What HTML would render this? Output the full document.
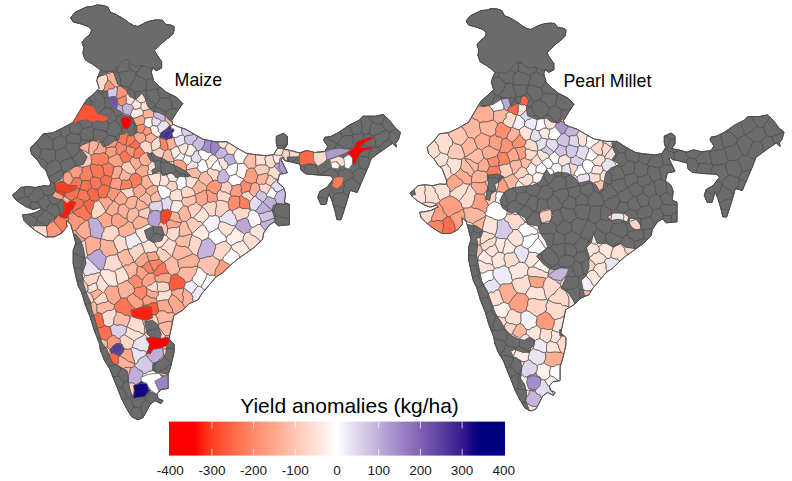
<!DOCTYPE html>
<html><head><meta charset="utf-8"><title>Yield anomalies</title>
<style>
html,body{margin:0;padding:0;background:#fff}
body{width:792px;height:481px;overflow:hidden;position:relative}
svg{position:absolute;left:0;top:0;font-family:"Liberation Sans",sans-serif}
</style></head><body>
<svg width="792" height="481" viewBox="0 0 792 481">
<g stroke-linejoin="round">
<path d="M70.6,17.7 73.3,22.0 81.2,23.9 88.3,26.5 91.8,30.0 90.0,34.5 85.6,38.0 82.0,42.4 83.9,47.7 83.0,53.0 84.0,56.5 85.6,60.0 91.8,63.6 98.0,68.0 100.6,70.7 98.0,76.5 96.8,80.8 99.3,88.4 94.3,93.4 86.7,99.7 83.3,105.0 75.8,117.7 73.2,122.2 63.1,127.8 53.0,132.8 43.0,134.0 37.9,140.4 30.3,148.0 31.6,154.3 37.9,160.6 41.7,166.5 45.8,170.0 48.3,176.7 50.7,182.5 49.9,186.2 43.3,185.8 35.8,187.5 27.5,186.6 20.8,187.5 16.6,191.6 12.5,195.0 15.0,199.0 20.0,203.0 26.6,207.0 33.3,209.6 40.0,207.6 41.8,209.3 34.9,212.8 28.3,214.3 22.5,214.9 24.0,220.4 29.0,225.5 35.4,230.5 45.5,236.8 54.3,236.8 61.9,233.0 66.9,226.7 66.2,220.4 70.7,224.2 73.2,233.0 75.8,243.1 73.2,250.7 73.2,263.3 75.8,276.0 78.3,286.0 81.7,292.6 85.5,305.3 90.5,317.9 94.3,330.5 99.3,343.1 100.4,350.1 104.4,360.2 109.5,368.3 113.5,378.4 117.6,388.5 121.6,398.6 126.7,408.7 131.7,416.8 137.8,419.8 142.8,417.8 146.9,410.7 149.9,404.6 155.0,400.6 161.0,403.6 163.0,400.6 158.0,398.6 157.0,393.5 161.0,389.5 168.1,388.5 168.1,374.3 171.0,365.0 174.1,352.1 174.1,344.0 168.8,339.3 171.3,328.0 173.8,315.4 182.9,310.0 189.2,303.6 198.1,299.8 201.9,293.5 208.2,286.0 215.8,277.1 223.3,272.1 230.9,264.5 237.2,259.4 246.1,253.1 254.9,246.8 262.5,239.2 263.7,232.9 268.8,225.4 274.3,221.7 278.4,225.8 289.5,224.7 289.5,204.5 284.4,202.5 285.5,193.4 283.4,187.4 277.4,182.3 279.4,174.2 283.3,173.7 287.4,172.7 281.0,159.5 282.5,158.5 284.7,160.6 292.0,162.0 299.3,164.0 300.3,165.5 300.8,170.0 305.6,173.8 318.2,175.0 330.8,175.8 333.5,179.0 330.9,182.3 326.9,187.4 319.8,191.4 317.8,197.5 320.8,204.5 325.9,204.5 328.9,193.4 331.9,200.5 334.9,210.6 337.0,219.7 341.0,219.7 344.0,210.6 347.1,200.5 350.1,190.4 357.2,192.4 363.2,178.3 368.2,166.7 371.2,158.6 379.3,152.5 389.4,145.5 392.4,143.4 396.5,146.9 395.5,143.4 398.5,139.4 400.5,132.3 395.5,128.3 389.4,120.2 383.3,114.5 375.3,116.2 363.1,116.2 359.1,120.2 349.0,125.3 338.9,132.3 330.8,136.4 324.7,137.4 323.7,140.4 327.8,146.5 324.7,151.5 314.6,152.5 306.6,150.5 299.5,153.0 290.4,150.5 283.9,149.4 287.4,144.4 287.4,136.4 283.3,133.3 276.3,136.4 276.3,143.0 277.6,148.2 273.8,154.5 266.3,155.8 253.6,154.5 246.1,153.2 237.2,148.2 227.1,141.9 215.8,141.9 203.1,139.3 194.3,134.3 185.5,129.2 177.9,126.7 172.8,124.2 171.6,120.4 177.9,110.3 182.7,103.5 176.4,97.2 166.3,92.2 160.0,87.0 153.6,80.8 151.1,72.0 152.8,68.0 156.3,70.7 161.6,68.0 161.6,61.8 158.0,56.5 156.0,53.5 154.5,50.4 159.0,46.0 162.5,42.5 166.0,39.7 169.5,37.0 173.0,33.6 174.0,30.0 174.0,26.5 170.5,25.0 166.0,24.7 162.5,20.3 158.0,20.0 153.6,20.3 149.0,21.3 144.8,23.0 141.0,25.0 137.7,26.5 133.5,25.5 129.0,23.0 124.5,19.5 120.0,16.8 115.0,14.0 110.4,12.4 107.7,7.0 103.0,5.5 97.0,5.0 92.0,6.5 86.5,7.0 80.0,10.0 75.0,12.5Z" fill="#6b6b6b" stroke="#484848" stroke-width="0.9"/>
<g stroke="#585858" stroke-width="0.7">
<path d="M117.5,142.0 120.2,142.9 122.4,144.8 125.3,145.0 126.8,141.9 127.0,138.3 128.7,135.2 126.1,134.2 124.4,133.4 119.6,134.7 118.6,139.8 116.9,140.2Z" fill="#ff7654"/>
<path d="M137.4,141.9 135.5,139.3 133.4,141.9 131.1,144.2 128.3,146.0 130.6,147.2 133.3,147.5 135.5,149.0 137.8,147.8 140.0,146.5 140.2,143.5Z" fill="#ff704e"/>
<path d="M120.5,158.0 121.7,160.6 123.4,162.9 126.7,162.3 129.9,161.3 130.7,158.8 132.7,157.2 130.0,155.4 127.6,153.2 125.9,150.4 123.3,151.3 121.3,153.1 119.6,155.2Z" fill="#ff7654"/>
<path d="M137.8,147.8 135.5,149.0 134.3,151.7 133.8,154.5 132.8,157.2 135.8,158.5 139.0,158.2 140.8,156.1 142.6,154.1 145.2,153.1 143.3,151.0 141.6,148.8 140.0,146.5Z" fill="#ff7c5b"/>
<path d="M144.6,134.0 142.6,132.7 140.2,133.1 137.9,132.3 136.8,132.5 136.8,132.7 135.0,133.6 134.1,135.2 134.2,137.4 135.5,139.3 137.4,141.9 140.2,143.5 142.8,142.2 145.2,140.5 145.8,138.4 145.6,136.2Z" fill="#ffa88d"/>
<path d="M152.1,152.6 152.2,150.5 151.7,148.1 151.1,145.7 151.5,143.2 148.3,141.9 145.2,140.5 142.8,142.2 140.2,143.5 140.0,146.5 141.6,148.8 143.3,151.0 145.2,153.1 148.0,152.8 149.6,153.5 151.7,153.0Z" fill="#ffd7c8"/>
<path d="M159.3,136.9 158.0,137.1 155.5,138.7 153.1,140.5 151.5,143.2 151.1,145.7 151.7,148.1 152.2,150.5 155.0,150.3 157.4,148.8 160.0,147.9 160.7,144.4 160.0,141.0 160.0,137.5Z" fill="#ffdccf"/>
<path d="M145.8,138.4 145.2,140.5 148.3,141.9 151.5,143.2 153.1,140.5 155.5,138.7 158.0,137.1 155.6,136.1 153.7,134.3 151.5,133.1 148.3,134.1 145.6,136.2Z" fill="#ffad94"/>
<path d="M160.0,141.0 160.7,144.4 160.0,147.9 162.4,149.7 165.3,150.6 168.1,149.2 167.9,146.1 167.1,143.0 166.5,139.9 163.3,138.6 160.0,137.5Z" fill="#ff8767"/>
<path d="M167.1,143.0 167.9,146.1 168.1,149.2 170.4,149.8 172.7,148.8 174.7,147.0 177.2,146.4 175.5,143.7 174.5,140.7 174.0,137.5 173.0,137.0 171.0,138.4 168.6,138.8 166.5,139.9Z" fill="#ffb29a"/>
<path d="M172.3,156.2 171.6,152.9 170.4,149.8 168.1,149.2 165.3,150.6 163.5,153.2 162.8,156.2 161.8,158.0 167.0,161.1 168.6,162.1 170.2,161.6 173.3,161.7 174.0,160.7 174.2,159.1Z" fill="#ffb8a1"/>
<path d="M162.8,156.2 163.5,153.2 165.3,150.6 162.4,149.7 160.0,147.9 157.4,148.8 155.0,150.3 152.2,150.5 152.1,152.6 151.7,153.0 152.6,152.7 156.4,156.5 161.7,158.0 161.8,158.0Z" fill="#ffd1c2"/>
<path d="M184.5,139.9 184.7,136.5 182.7,134.9 179.7,135.6 177.0,137.2 174.0,137.5 174.5,140.7 175.5,143.7 177.2,146.4 177.7,146.6 180.4,145.4 183.0,144.2 185.6,143.0Z" fill="#eae4f2"/>
<path d="M190.4,144.3 192.5,145.2 193.4,142.0 196.4,139.9 197.5,136.7 197.7,136.3 194.3,134.3 193.9,134.1 191.2,135.0 187.8,135.3 184.7,136.5 184.5,139.9 185.6,143.0 188.2,144.8Z" fill="#cfc2e3"/>
<path d="M197.5,136.7 196.4,139.9 193.4,142.0 192.5,145.2 195.3,147.4 196.7,150.7 198.5,151.0 200.9,149.8 203.0,147.2 204.4,144.3 204.8,141.0 205.5,139.8 203.1,139.3 197.7,136.3Z" fill="#cabbe0"/>
<path d="M204.8,141.0 204.4,144.3 203.0,147.2 200.9,149.8 204.3,150.6 207.3,152.5 210.8,152.6 210.6,149.2 210.7,145.9 211.6,142.6 211.5,141.0 205.5,139.8Z" fill="#a48ec9"/>
<path d="M216.4,152.4 218.4,149.7 220.9,147.3 218.8,145.3 218.0,142.4 217.3,141.9 215.8,141.9 211.5,141.0 211.6,142.6 210.7,145.9 210.6,149.2 210.8,152.6 212.1,154.6 214.7,155.5Z" fill="#9a82c3"/>
<path d="M216.6,156.8 217.6,158.8 220.8,158.3 224.0,157.7 225.7,155.6 227.8,154.0 226.5,150.9 224.8,147.9 222.7,148.3 220.9,147.3 218.4,149.7 216.4,152.4 214.7,155.5Z" fill="#c5b5dc"/>
<path d="M230.8,154.5 233.8,154.8 235.2,151.5 237.7,149.1 238.0,148.6 237.2,148.2 228.2,142.6 226.7,145.2 224.8,147.9 226.5,150.9 227.8,154.0Z" fill="#ffe1d6"/>
<path d="M231.1,164.8 233.8,163.4 236.9,163.0 235.4,160.4 234.1,157.8 233.8,154.8 230.8,154.5 227.8,154.0 225.7,155.6 224.0,157.7 224.8,160.7 227.4,162.6 228.1,165.6Z" fill="#bfaed9"/>
<path d="M221.1,171.0 219.0,171.6 218.8,174.7 217.2,177.6 217.5,180.8 218.8,182.4 220.9,183.1 224.3,182.8 227.6,181.6 228.8,178.8 229.7,175.9 227.6,174.2 226.6,171.7 225.3,169.5 222.4,169.4Z" fill="#c5b5dc"/>
<path d="M228.8,178.8 227.6,181.6 230.1,183.4 231.9,185.9 234.7,185.5 237.4,184.6 240.3,184.6 241.5,182.1 243.6,180.2 243.3,178.9 240.6,177.6 238.0,176.2 235.8,174.0 232.8,175.1 229.7,175.9Z" fill="#ffffff"/>
<path d="M177.2,146.4 174.7,147.0 172.7,148.8 170.4,149.8 171.6,152.9 172.3,156.2 174.2,159.1 176.6,157.2 178.6,154.8 180.7,152.6 179.2,149.6 177.7,146.6Z" fill="#ffebe3"/>
<path d="M185.6,143.0 183.0,144.2 180.4,145.4 177.7,146.6 179.2,149.6 180.7,152.6 182.6,154.2 185.0,154.2 186.4,151.2 187.8,148.2 188.2,144.8Z" fill="#ffe6dd"/>
<path d="M182.6,154.2 180.7,152.6 178.6,154.8 176.6,157.2 174.2,159.1 174.0,160.7 177.0,159.9 179.9,160.1 182.8,160.7 184.1,157.6 185.1,154.3 185.0,154.2Z" fill="#ffffff"/>
<path d="M187.8,155.8 185.1,154.3 184.1,157.6 182.8,160.7 185.0,162.9 186.6,165.7 188.8,164.3 190.5,162.6 191.5,160.1 191.3,158.1 190.8,156.0Z" fill="#ffffff"/>
<path d="M194.2,151.8 193.3,154.8 190.8,156.0 191.3,158.1 191.5,160.1 194.2,162.1 197.5,162.9 199.9,161.9 201.4,159.8 200.8,156.7 198.7,154.2 198.5,151.0 196.7,150.7Z" fill="#e4ddef"/>
<path d="M198.7,154.2 200.8,156.7 201.4,159.8 203.5,159.6 205.2,160.8 208.1,159.4 209.5,156.3 212.1,154.6 210.8,152.6 207.3,152.5 204.3,150.6 200.9,149.8 198.5,151.0Z" fill="#ffffff"/>
<path d="M198.1,165.5 197.0,167.9 198.8,170.8 201.5,173.0 204.3,172.0 207.1,171.0 208.5,168.9 207.4,166.2 206.8,163.3 205.2,160.8 203.5,159.6 201.4,159.8 199.9,161.9 197.5,162.9Z" fill="#ffffff"/>
<path d="M217.6,158.8 216.6,156.8 214.7,155.5 212.1,154.6 209.5,156.3 208.1,159.4 205.2,160.8 206.8,163.3 207.4,166.2 208.5,168.9 210.8,168.3 212.2,166.0 213.7,163.6 215.8,161.7 217.5,159.5Z" fill="#ffebe3"/>
<path d="M221.7,166.7 219.5,164.7 219.2,161.7 217.5,159.5 215.8,161.7 213.7,163.6 212.2,166.0 210.8,168.3 213.3,170.0 216.5,170.0 219.0,171.6 221.1,171.0 222.4,169.4Z" fill="#ffffff"/>
<path d="M194.2,162.1 191.5,160.1 190.5,162.6 188.8,164.3 186.6,165.7 186.2,167.8 186.3,170.0 189.0,169.5 191.6,168.7 194.3,168.3 197.0,167.9 198.1,165.5 197.5,162.9Z" fill="#ffebe3"/>
<path d="M179.9,160.1 177.0,159.9 174.0,160.7 173.3,161.7 174.0,165.1 174.1,165.3 179.8,167.9 186.1,171.4 186.3,170.0 186.2,167.8 186.6,165.7 185.0,162.9 182.8,160.7Z" fill="#ffa387"/>
<path d="M190.2,176.4 192.9,177.6 195.8,177.9 198.6,178.9 199.6,175.7 201.5,173.0 198.8,170.8 197.0,167.9 194.3,168.3 191.6,168.7 189.0,169.5 186.3,170.0 186.1,171.4 186.7,171.7 190.5,175.5 189.0,176.1Z" fill="#ffb8a1"/>
<path d="M212.0,178.2 210.0,176.0 207.9,173.8 207.1,171.0 204.3,172.0 201.5,173.0 199.6,175.7 198.6,178.9 198.8,179.9 201.1,182.4 204.2,184.1 206.7,186.5 208.5,184.3 210.4,182.2 213.0,181.0Z" fill="#ffbda7"/>
<path d="M216.5,170.0 213.3,170.0 210.8,168.3 208.5,168.9 207.1,171.0 207.9,173.8 210.0,176.0 212.0,178.2 213.0,181.0 215.2,180.2 217.5,180.8 217.2,177.6 218.8,174.7 219.0,171.6Z" fill="#ffd7c8"/>
<path d="M206.7,189.8 206.7,186.5 204.2,184.1 201.1,182.4 198.8,179.9 196.5,181.6 195.3,184.1 193.5,186.3 191.9,188.5 193.7,190.3 194.7,192.6 195.1,195.1 197.7,193.4 200.6,192.5 203.2,190.9 206.3,190.3Z" fill="#ffb29a"/>
<path d="M210.3,202.5 213.1,201.4 215.8,202.3 217.8,200.5 217.3,197.2 216.9,193.9 214.1,193.5 211.6,192.3 209.4,190.4 206.7,189.8 206.3,190.3 206.0,193.3 207.6,196.0 207.2,199.0 207.6,201.9Z" fill="#ff9d80"/>
<path d="M221.5,185.5 220.8,187.8 220.1,190.0 222.5,191.9 225.5,192.1 228.0,193.6 230.6,194.7 230.3,191.7 232.2,189.0 231.9,185.9 230.1,183.4 227.6,181.6 224.3,182.8 220.9,183.1Z" fill="#ffd1c2"/>
<path d="M233.9,196.1 236.7,196.3 239.4,196.8 241.6,195.6 242.4,193.6 241.0,190.8 241.8,187.4 240.3,184.6 237.4,184.6 234.7,185.5 231.9,185.9 232.2,189.0 230.3,191.7 230.6,194.7 231.2,196.3Z" fill="#ff9d80"/>
<path d="M177.5,179.1 175.7,181.5 176.5,184.0 177.3,186.4 176.9,189.0 178.8,189.4 180.7,190.1 183.3,187.9 186.5,186.5 186.2,183.5 186.3,180.3 185.4,177.4 185.2,176.8 180.6,176.2 178.0,177.1Z" fill="#ffffff"/>
<path d="M185.4,177.4 186.3,180.3 186.2,183.5 186.5,186.5 189.2,187.4 191.9,188.5 193.5,186.3 195.3,184.1 196.5,181.6 198.8,179.9 198.6,178.9 195.8,177.9 192.9,177.6 190.2,176.4 189.0,176.1 186.7,177.0 185.2,176.8Z" fill="#ffe1d6"/>
<path d="M168.0,184.1 165.6,186.1 167.2,188.2 169.8,189.3 171.1,191.6 174.2,190.7 176.9,189.0 177.3,186.4 176.5,184.0 175.7,181.5 172.4,181.3 169.2,181.3Z" fill="#ffd1c2"/>
<path d="M162.5,185.7 159.3,185.3 157.9,186.3 157.5,188.6 157.9,190.9 158.9,193.7 160.1,196.4 162.0,198.9 164.6,198.8 166.8,197.1 169.5,197.0 170.2,194.3 171.1,191.6 169.8,189.3 167.2,188.2 165.6,186.1Z" fill="#ffffff"/>
<path d="M168.8,178.8 167.1,176.6 167.1,174.6 167.0,174.7 162.4,175.5 161.1,172.8 161.1,172.8 160.3,175.9 160.8,179.1 159.6,182.2 159.3,185.3 162.5,185.7 165.6,186.1 168.0,184.1 169.2,181.3Z" fill="#ffe6dd"/>
<path d="M149.0,177.9 150.4,180.6 152.1,183.0 153.8,185.4 155.8,185.9 157.9,186.3 159.3,185.3 159.6,182.2 160.8,179.1 160.3,175.9 161.1,172.8 157.8,173.1 154.6,173.2 151.5,174.6 148.2,174.6 147.8,175.3Z" fill="#ffe1d6"/>
<path d="M144.6,175.9 141.8,177.3 141.7,180.8 140.9,184.2 142.6,185.9 144.0,187.8 146.0,189.3 148.5,187.8 151.0,186.2 153.8,185.4 152.1,183.0 150.4,180.6 149.0,177.9 147.8,175.3Z" fill="#ffb29a"/>
<path d="M152.7,194.2 155.3,192.6 157.9,190.9 157.5,188.6 157.9,186.3 155.8,185.9 153.8,185.4 151.0,186.2 148.5,187.8 146.0,189.3 145.6,192.4 148.5,194.0 150.6,196.4Z" fill="#ffad94"/>
<path d="M135.4,173.2 137.8,174.1 139.9,175.6 141.8,177.3 144.6,175.9 147.8,175.3 148.2,174.6 147.6,171.6 148.8,168.6 148.0,165.6 144.6,165.5 141.3,164.5 140.0,166.9 137.8,168.4 135.7,170.1Z" fill="#ffa88d"/>
<path d="M148.0,152.8 145.2,153.1 142.6,154.1 140.8,156.1 139.0,158.2 139.8,161.5 141.3,164.5 144.6,165.5 148.0,165.6 149.8,163.5 151.9,161.7 152.2,161.3 150.3,160.3 147.3,154.2 149.6,153.5Z" fill="#ffb29a"/>
<path d="M130.9,181.7 131.6,184.4 131.9,187.2 133.3,188.1 136.0,187.3 138.1,185.1 140.9,184.2 141.7,180.8 141.8,177.3 139.9,175.6 137.8,174.1 135.4,173.2 133.3,173.2 131.9,174.8 130.3,176.9 129.3,179.3Z" fill="#ff7c5b"/>
<path d="M126.7,162.3 123.4,162.9 122.2,164.8 121.1,166.9 121.9,168.8 124.4,170.4 126.5,172.4 129.3,173.5 131.9,174.8 133.3,173.2 135.4,173.2 135.7,170.1 134.1,168.0 132.7,165.8 131.0,163.7 129.9,161.3Z" fill="#ffccbb"/>
<path d="M130.3,176.9 131.9,174.8 129.3,173.5 126.5,172.4 124.4,170.4 121.9,168.8 121.7,172.2 119.9,175.0 119.3,178.2 121.5,180.6 124.1,180.1 126.8,180.5 129.3,179.3Z" fill="#ffb29a"/>
<path d="M140.9,196.5 143.5,194.8 145.6,192.4 146.0,189.3 144.0,187.8 142.6,185.9 140.9,184.2 138.1,185.1 136.0,187.3 133.3,188.1 132.8,190.9 134.1,193.5 134.2,196.2 136.4,196.8 137.9,198.6 138.5,198.5Z" fill="#ffa88d"/>
<path d="M120.5,191.4 123.4,193.1 125.3,195.9 127.6,198.4 130.7,196.8 134.2,196.2 134.1,193.5 132.8,190.9 133.3,188.1 131.9,187.2 129.2,188.4 126.2,188.8 123.3,189.3 120.4,189.6 120.3,189.7Z" fill="#ffd7c8"/>
<path d="M126.8,180.5 124.1,180.1 121.5,180.6 121.6,183.7 120.5,186.6 120.4,189.6 123.3,189.3 126.2,188.8 129.2,188.4 131.9,187.2 131.6,184.4 130.9,181.7 129.3,179.3Z" fill="#ff8161"/>
<path d="M103.1,90.6 104.7,88.1 105.0,84.9 106.8,82.4 107.8,79.7 107.5,76.9 106.3,74.4 103.1,75.2 101.3,75.4 98.4,77.2 97.9,77.0 98.0,76.5 96.8,80.8 99.3,88.4 97.4,90.3 103.0,90.9Z" fill="#ffdccf"/>
<path d="M112.7,84.6 110.6,81.8 107.8,79.7 106.8,82.4 105.0,84.9 104.7,88.1 103.1,90.6 103.0,90.9 107.0,91.2 107.5,91.0 109.7,88.9 112.9,88.8 115.3,86.9Z" fill="#ff987a"/>
<path d="M112.0,72.1 109.5,73.0 106.9,73.7 106.3,74.4 107.5,76.9 107.8,79.7 110.6,81.8 112.7,84.6 115.3,86.9 117.4,87.1 119.3,86.2 120.1,85.8 117.6,84.2 115.6,78.2 113.5,72.1 113.0,71.9Z" fill="#ffb29a"/>
<path d="M112.9,88.8 109.7,88.9 107.5,91.0 107.0,91.2 107.5,91.3 108.1,97.4 108.3,97.7 108.5,97.6 108.5,97.4 109.9,97.1 110.3,97.0 110.9,96.9 113.5,96.4 113.7,96.8 116.1,97.2 117.0,93.9 117.3,90.5 117.4,87.1 115.3,86.9Z" fill="#d4c9e6"/>
<path d="M118.1,104.0 117.4,101.4 117.5,98.7 116.1,97.2 113.7,96.8 117.6,103.4 117.4,104.3Z" fill="#795db0"/>
<path d="M119.3,86.2 117.4,87.1 117.3,90.5 117.0,93.9 116.1,97.2 117.5,98.7 120.3,98.1 122.8,96.6 125.6,96.0 127.5,94.0 127.5,92.0 126.7,90.3 122.6,87.3 120.1,85.8Z" fill="#ff987a"/>
<path d="M126.1,101.0 126.5,98.5 125.6,96.0 122.8,96.6 120.3,98.1 117.5,98.7 117.4,101.4 118.1,104.0 120.2,105.4 122.7,106.0 124.5,104.4 126.7,103.5Z" fill="#ff8d6d"/>
<path d="M128.9,104.4 126.7,103.5 124.5,104.4 122.7,106.0 122.2,108.7 122.9,111.2 123.7,113.7 125.9,114.5 128.5,114.7 130.4,116.3 130.9,113.7 131.7,111.1 133.4,108.9 133.1,106.4 131.4,104.5Z" fill="#c5b5dc"/>
<path d="M127.5,94.0 125.6,96.0 126.5,98.5 126.1,101.0 126.7,103.5 128.9,104.4 131.4,104.5 133.5,101.9 135.2,99.1 129.7,96.4 127.5,92.0Z" fill="#ffe1d6"/>
<path d="M133.5,101.9 131.4,104.5 133.1,106.4 133.4,108.9 135.9,109.5 138.2,108.5 140.6,108.0 141.2,105.5 141.2,103.0 138.9,102.1 137.2,100.4 135.7,99.3 135.2,99.1Z" fill="#ffe6dd"/>
<path d="M137.2,100.4 138.9,102.1 141.2,103.0 143.8,102.1 145.9,100.7 144.8,97.4 141.8,93.3 139.8,95.4 135.8,99.4 135.7,99.3Z" fill="#ffe6dd"/>
<path d="M134.4,118.2 137.1,117.4 139.8,116.2 142.6,115.6 143.4,113.1 143.1,110.6 141.5,109.6 140.6,108.0 138.2,108.5 135.9,109.5 133.4,108.9 131.7,111.1 130.9,113.7 130.4,116.3 130.5,116.5 131.7,116.6 132.5,118.3Z" fill="#ffebe3"/>
<path d="M149.4,109.1 146.3,110.0 143.1,110.6 143.4,113.1 142.6,115.6 143.9,116.9 145.0,118.4 147.5,117.9 149.9,117.4 152.5,117.6 153.6,116.6 153.8,113.1 154.3,111.7 152.9,111.5 150.1,108.7Z" fill="#ffb29a"/>
<path d="M153.8,113.1 153.6,116.6 156.1,118.2 159.1,119.1 161.4,121.1 163.5,121.3 165.5,120.7 165.0,117.5 165.5,116.0 165.1,115.6 159.0,112.5 154.3,111.7Z" fill="#cabbe0"/>
<path d="M159.7,124.1 161.4,121.1 159.1,119.1 156.1,118.2 153.6,116.6 152.5,117.6 151.7,120.3 151.9,123.0 152.4,125.7 154.8,125.9 157.1,126.4Z" fill="#e4ddef"/>
<path d="M151.9,123.0 151.7,120.3 152.5,117.6 149.9,117.4 147.5,117.9 145.0,118.4 144.5,121.3 143.8,124.2 145.6,126.6 147.8,127.6 150.1,127.6 152.4,125.7Z" fill="#fff5f1"/>
<path d="M137.9,125.6 140.8,124.6 143.8,124.2 144.5,121.3 145.0,118.4 143.9,116.9 142.6,115.6 139.8,116.2 137.1,117.4 134.4,118.2 132.5,118.3 133.7,120.6 136.2,125.4Z" fill="#ffa387"/>
<path d="M144.3,129.8 145.6,126.6 143.8,124.2 140.8,124.6 137.9,125.6 136.2,125.4 136.8,126.7 136.8,132.5 137.9,132.3 140.2,133.1 142.6,132.7Z" fill="#ff8d6d"/>
<path d="M148.3,134.1 151.5,133.1 151.2,130.2 150.1,127.6 147.8,127.6 145.6,126.6 144.3,129.8 142.6,132.7 144.6,134.0 145.6,136.2Z" fill="#ff987a"/>
<path d="M154.8,125.9 152.4,125.7 150.1,127.6 151.2,130.2 151.5,133.1 153.7,134.3 155.6,136.1 158.0,137.1 159.3,136.9 160.3,135.2 160.5,133.3 158.5,131.4 158.3,128.7 157.1,126.4Z" fill="#fff0ea"/>
<path d="M158.3,128.7 158.5,131.4 160.5,133.3 162.9,131.5 165.5,129.8 167.9,127.9 169.7,125.3 167.9,122.7 165.5,120.7 163.5,121.3 161.4,121.1 159.7,124.1 157.1,126.4Z" fill="#eae4f2"/>
<path d="M160.3,135.2 159.3,136.9 160.0,137.5 163.3,138.6 166.5,139.9 168.6,138.8 171.0,138.4 173.0,137.0 172.2,134.2 172.0,133.3 170.1,135.8 166.1,138.8 162.0,136.8 165.1,131.7 171.4,129.3 171.3,128.5 170.7,125.6 169.7,125.3 167.9,127.9 165.5,129.8 162.9,131.5 160.5,133.3Z" fill="#492d96"/>
<path d="M170.7,125.6 171.3,128.5 171.4,129.3 173.1,128.7 174.1,130.7 172.0,133.3 172.2,134.2 173.0,137.0 174.0,137.5 177.0,137.2 179.7,135.6 182.7,134.9 181.8,131.7 181.8,128.4 181.8,128.0 177.9,126.7 173.3,124.5Z" fill="#ffffff"/>
<path d="M88.8,150.1 89.3,146.7 89.4,143.3 89.8,141.8 82.2,144.8 79.4,147.7 79.9,149.1 80.8,149.2 81.6,150.2 83.5,150.5 86.3,152.0 89.0,153.6Z" fill="#ffb29a"/>
<path d="M96.5,153.7 99.5,154.2 102.3,152.8 105.2,153.2 106.3,150.8 106.0,148.2 105.3,146.1 103.4,146.9 100.6,141.9 99.3,142.3 98.0,145.3 97.1,148.5 94.4,150.8 93.6,154.0Z" fill="#ffa88d"/>
<path d="M109.1,147.4 112.2,146.9 115.4,147.2 116.3,144.5 117.5,142.0 116.9,140.2 114.5,140.8 108.5,144.8 105.3,146.1 106.0,148.2Z" fill="#ff987a"/>
<path d="M128.7,135.2 127.0,138.3 126.8,141.9 125.3,145.0 126.5,146.3 128.3,146.0 131.1,144.2 133.4,141.9 135.5,139.3 134.2,137.4 134.1,135.2 131.4,135.8 130.9,135.7 130.7,135.8 130.4,135.6Z" fill="#ff7c5b"/>
<path d="M121.3,153.1 123.3,151.3 125.9,150.4 126.5,148.4 126.5,146.3 125.3,145.0 122.4,144.8 120.2,142.9 117.5,142.0 116.3,144.5 115.4,147.2 116.6,149.3 115.7,151.8 116.6,154.1 119.6,155.2Z" fill="#ff8767"/>
<path d="M195.3,147.4 192.5,145.2 190.4,144.3 188.2,144.8 187.8,148.2 186.4,151.2 185.0,154.2 185.1,154.3 187.8,155.8 190.8,156.0 193.3,154.8 194.2,151.8 196.7,150.7Z" fill="#fff0ea"/>
<path d="M127.6,153.2 130.0,155.4 132.7,157.2 132.8,157.2 133.8,154.5 134.3,151.7 135.5,149.0 133.3,147.5 130.6,147.2 128.3,146.0 126.5,146.3 126.5,148.4 125.9,150.4Z" fill="#ff9274"/>
<path d="M91.0,155.6 93.6,154.0 94.4,150.8 97.1,148.5 98.0,145.3 99.3,142.3 96.8,141.5 94.5,140.6 94.4,140.5 92.3,140.8 89.8,141.8 89.4,143.3 89.3,146.7 88.8,150.1 89.0,153.6Z" fill="#ffb29a"/>
<path d="M111.4,156.7 114.1,155.6 116.6,154.1 115.7,151.8 116.6,149.3 115.4,147.2 112.2,146.9 109.1,147.4 106.0,148.2 106.3,150.8 105.2,153.2 107.7,155.1 108.8,158.0Z" fill="#ff9d80"/>
<path d="M108.4,160.2 108.8,158.0 107.7,155.1 105.2,153.2 102.3,152.8 99.5,154.2 96.5,153.7 93.6,154.0 91.0,155.6 90.9,158.4 91.6,161.3 90.9,164.2 93.8,164.3 96.5,165.3 99.4,164.9 102.1,166.0 103.6,164.1 106.5,164.3 108.1,162.4Z" fill="#ff8161"/>
<path d="M116.6,154.1 114.1,155.6 111.4,156.7 108.8,158.0 108.4,160.2 108.1,162.4 110.3,163.6 112.4,165.0 114.1,166.9 116.4,166.6 118.8,166.1 121.1,166.9 122.2,164.8 123.4,162.9 121.7,160.6 120.5,158.0 119.6,155.2Z" fill="#ffa387"/>
<path d="M131.0,163.7 132.7,165.8 134.1,168.0 135.7,170.1 137.8,168.4 140.0,166.9 141.3,164.5 139.8,161.5 139.0,158.2 135.8,158.5 132.8,157.2 132.7,157.2 130.7,158.8 129.9,161.3Z" fill="#ffad94"/>
<path d="M167.1,176.6 168.8,178.8 169.2,181.3 172.4,181.3 175.7,181.5 177.5,179.1 178.0,177.1 176.1,177.7 173.0,173.9 171.5,173.2 170.4,173.5 168.2,173.8 167.1,174.6Z" fill="#ffebe3"/>
<path d="M195.1,195.1 194.7,192.6 193.7,190.3 191.9,188.5 189.2,187.4 186.5,186.5 183.3,187.9 180.7,190.1 181.5,192.5 181.6,195.1 182.6,197.5 185.8,197.5 188.9,197.2 191.9,196.1 195.0,195.4Z" fill="#ffd7c8"/>
<path d="M170.2,194.3 169.5,197.0 170.4,199.6 172.7,201.0 175.5,200.5 178.4,200.9 181.3,201.2 182.3,199.5 182.6,197.5 181.6,195.1 181.5,192.5 180.7,190.1 178.8,189.4 176.9,189.0 174.2,190.7 171.1,191.6Z" fill="#ffe1d6"/>
<path d="M113.0,170.1 112.7,173.6 110.9,176.6 112.1,178.2 114.5,179.0 116.9,178.2 119.3,178.2 119.9,175.0 121.7,172.2 121.9,168.8 121.1,166.9 118.8,166.1 116.4,166.6 114.1,166.9Z" fill="#ffa88d"/>
<path d="M106.5,164.3 103.6,164.1 102.1,166.0 103.5,168.8 103.6,172.0 104.3,175.0 107.6,175.9 110.9,176.6 112.7,173.6 113.0,170.1 114.1,166.9 112.4,165.0 110.3,163.6 108.1,162.4Z" fill="#ff7c5b"/>
<path d="M95.4,177.2 97.9,177.9 100.3,179.0 102.8,177.5 104.3,175.0 103.6,172.0 103.5,168.8 102.1,166.0 99.4,164.9 96.5,165.3 93.8,164.3 90.9,164.2 90.2,165.0 90.2,168.1 91.0,171.1 92.4,174.0 92.7,177.1Z" fill="#ff7654"/>
<path d="M81.9,169.8 82.0,172.8 79.7,175.2 79.9,178.2 81.8,180.9 84.5,180.5 87.3,180.6 90.0,180.9 90.8,178.6 92.7,177.1 92.4,174.0 91.0,171.1 90.2,168.1 90.2,165.0 87.8,165.9 85.3,166.4 82.8,167.1Z" fill="#ff8161"/>
<path d="M71.3,169.1 69.3,171.8 70.9,173.8 71.7,176.5 73.7,178.2 76.8,177.4 79.9,178.2 79.7,175.2 82.0,172.8 81.9,169.8 82.8,167.1 79.3,166.8 77.8,165.8 73.4,167.0Z" fill="#ff9d80"/>
<path d="M66.6,171.7 64.4,173.2 63.0,175.5 63.3,178.2 62.8,181.4 65.0,182.6 65.4,183.6 69.1,185.4 70.8,183.7 72.4,181.1 73.7,178.2 71.7,176.5 70.9,173.8 69.3,171.8Z" fill="#ffa387"/>
<path d="M72.4,181.1 70.8,183.7 69.1,185.4 69.9,185.8 76.5,185.8 75.8,187.7 76.9,188.3 79.7,189.3 80.6,186.5 81.5,183.8 81.8,180.9 79.9,178.2 76.8,177.4 73.7,178.2Z" fill="#ff7654"/>
<path d="M81.5,183.8 80.6,186.5 79.7,189.3 79.9,189.7 82.6,190.0 85.1,190.6 87.6,191.7 89.2,189.2 91.7,187.6 91.0,184.2 90.0,180.9 87.3,180.6 84.5,180.5 81.8,180.9Z" fill="#ff704e"/>
<path d="M99.9,187.3 101.8,185.1 101.2,182.0 100.3,179.0 97.9,177.9 95.4,177.2 92.7,177.1 90.8,178.6 90.0,180.9 91.0,184.2 91.7,187.6 94.5,189.2 97.7,189.1Z" fill="#ff7654"/>
<path d="M109.9,187.1 110.3,184.0 111.2,181.2 112.1,178.2 110.9,176.6 107.6,175.9 104.3,175.0 102.8,177.5 100.3,179.0 101.2,182.0 101.8,185.1 104.7,185.0 107.3,185.7 109.8,187.1Z" fill="#ff704e"/>
<path d="M112.4,188.3 115.1,188.3 117.5,189.7 120.3,189.7 120.4,189.6 120.5,186.6 121.6,183.7 121.5,180.6 119.3,178.2 116.9,178.2 114.5,179.0 112.1,178.2 111.2,181.2 110.3,184.0 109.9,187.1Z" fill="#ff9d80"/>
<path d="M149.9,203.5 151.9,202.0 150.9,199.3 150.6,196.4 148.5,194.0 145.6,192.4 143.5,194.8 140.9,196.5 138.5,198.5 140.8,200.9 144.1,201.8 146.1,204.6 149.2,205.8Z" fill="#ffb8a1"/>
<path d="M65.0,182.6 62.8,181.4 59.8,181.6 57.6,183.0 63.2,182.5 65.4,183.6ZM54.9,184.0 54.9,188.8 55.0,189.0 55.3,191.5 58.2,192.9 61.0,194.7 63.7,196.5 64.4,196.4 65.5,193.8 66.1,192.2 61.6,191.6 56.6,190.0 55.1,183.9Z" fill="#ff3d21"/>
<path d="M65.5,193.8 64.4,196.4 67.5,198.0 70.1,200.4 72.8,200.0 74.9,198.6 77.1,197.3 78.1,194.8 78.8,192.2 79.9,189.7 79.7,189.3 76.9,188.3 75.8,187.7 74.9,190.0 68.2,192.5 66.1,192.2Z" fill="#ff704e"/>
<path d="M78.8,192.2 78.1,194.8 77.1,197.3 79.1,199.3 82.1,199.8 84.1,201.9 87.0,200.9 89.5,199.1 89.7,196.5 88.1,194.2 87.6,191.7 85.1,190.6 82.6,190.0 79.9,189.7Z" fill="#ff7654"/>
<path d="M94.5,189.2 91.7,187.6 89.2,189.2 87.6,191.7 88.1,194.2 89.7,196.5 89.5,199.1 92.0,200.8 95.0,201.3 96.9,201.4 98.4,200.2 99.9,198.2 98.7,195.3 98.2,192.2 97.7,189.1Z" fill="#ff6948"/>
<path d="M107.3,185.7 104.7,185.0 101.8,185.1 99.9,187.3 97.7,189.1 98.2,192.2 98.7,195.3 99.9,198.2 102.4,197.6 105.1,198.0 107.4,196.7 107.4,193.3 109.7,190.5 109.8,187.1Z" fill="#ff704e"/>
<path d="M109.7,190.5 107.4,193.3 107.4,196.7 109.6,197.8 111.0,200.0 113.3,201.0 114.0,201.0 115.0,198.2 117.2,196.2 118.4,193.5 120.5,191.4 120.3,189.7 117.5,189.7 115.1,188.3 112.4,188.3 109.9,187.1 109.8,187.1Z" fill="#ff987a"/>
<path d="M118.4,193.5 117.2,196.2 115.0,198.2 114.0,201.0 116.1,202.2 117.7,204.1 119.8,205.3 122.0,204.2 124.6,204.4 126.6,201.6 127.6,198.4 125.3,195.9 123.4,193.1 120.5,191.4Z" fill="#ffa88d"/>
<path d="M126.6,201.6 124.6,204.4 127.1,206.8 129.5,209.3 132.6,208.7 135.6,207.8 136.3,204.7 136.7,201.6 137.9,198.6 136.4,196.8 134.2,196.2 130.7,196.8 127.6,198.4Z" fill="#ffb29a"/>
<path d="M141.3,209.7 143.9,209.0 146.4,208.0 149.2,207.6 149.2,205.8 146.1,204.6 144.1,201.8 140.8,200.9 138.5,198.5 137.9,198.6 136.7,201.6 136.3,204.7 135.6,207.8 137.4,209.3 138.9,211.1Z" fill="#ffb29a"/>
<path d="M72.4,209.4 72.3,212.6 73.0,212.7 75.3,210.5 78.0,208.8 81.2,207.6 83.3,205.1 84.1,201.9 82.1,199.8 79.1,199.3 77.1,197.3 74.9,198.6 72.8,200.0 70.1,200.4 70.2,201.4 71.5,200.8 75.7,202.4 73.2,208.3 72.3,209.4Z" fill="#ff704e"/>
<path d="M87.0,200.9 84.1,201.9 83.3,205.1 85.8,207.1 86.8,210.5 88.9,212.8 91.5,214.9 91.6,211.3 93.1,208.1 93.6,204.6 95.0,201.3 92.0,200.8 89.5,199.1Z" fill="#ff6948"/>
<path d="M96.9,201.4 95.0,201.3 93.6,204.6 93.1,208.1 91.6,211.3 91.5,214.9 91.8,217.6 94.1,218.5 96.5,218.2 99.0,216.8 101.5,215.5 103.5,213.3 106.0,212.1 106.0,211.6 104.5,208.5 102.8,205.5 100.9,202.7 98.4,200.2Z" fill="#ffd7c8"/>
<path d="M111.0,200.0 109.6,197.8 107.4,196.7 105.1,198.0 102.4,197.6 99.9,198.2 98.4,200.2 100.9,202.7 102.8,205.5 104.5,208.5 106.0,211.6 107.7,208.9 109.0,205.8 111.6,203.7 113.3,201.0Z" fill="#ffa88d"/>
<path d="M111.6,203.7 109.0,205.8 107.7,208.9 106.0,211.6 106.0,212.1 107.8,214.0 110.2,215.0 112.4,216.1 114.7,214.2 117.7,213.8 118.3,211.0 118.2,208.0 119.8,205.3 117.7,204.1 116.1,202.2 114.0,201.0 113.3,201.0Z" fill="#ffad94"/>
<path d="M127.1,215.5 128.1,212.4 129.5,209.3 127.1,206.8 124.6,204.4 122.0,204.2 119.8,205.3 118.2,208.0 118.3,211.0 117.7,213.8 120.3,214.5 122.2,216.8 124.4,218.2 127.1,218.9Z" fill="#ffb29a"/>
<path d="M137.4,209.3 135.6,207.8 132.6,208.7 129.5,209.3 128.1,212.4 127.1,215.5 127.1,218.9 128.1,221.2 130.2,222.0 132.1,223.0 134.0,220.4 136.0,217.8 138.8,216.0 138.8,213.5 138.9,211.1Z" fill="#ffb8a1"/>
<path d="M149.7,212.8 150.3,209.6 149.2,207.6 146.4,208.0 143.9,209.0 141.3,209.7 138.9,211.1 138.8,213.5 138.8,216.0 142.1,217.1 145.3,218.4 148.0,219.1 149.0,214.1 149.6,213.6Z" fill="#ffccbb"/>
<path d="M160.4,217.6 160.4,214.6 160.4,211.7 160.4,211.7 160.4,217.9ZM157.2,210.3 155.7,210.6 160.1,211.5ZM150.3,209.6 149.7,212.8 149.6,213.6 153.2,210.9Z" fill="#b5a1d3"/>
<path d="M160.4,211.7 162.9,209.6 162.3,206.5 162.2,203.3 161.0,200.3 158.1,201.5 155.0,201.6 151.9,202.0 149.9,203.5 149.2,205.8 149.2,207.6 150.3,209.6 153.2,210.9 154.0,210.3 155.7,210.6 157.2,210.3 160.1,211.5 160.4,211.6 160.4,211.7Z" fill="#dfd6ec"/>
<path d="M171.1,211.2 170.5,210.5 169.3,210.4 170.8,211.9ZM166.1,222.9 167.5,221.5 169.1,220.3 169.2,219.1 165.7,222.6ZM160.5,220.6 161.6,211.6 165.3,210.1 162.9,209.6 160.4,211.7 160.4,214.6 160.4,217.6 160.4,217.9 160.4,220.6Z" fill="#ff4628"/>
<path d="M33.3,226.3 32.9,228.5 35.4,230.5 45.5,236.8 47.8,236.8 47.6,235.3 47.2,232.1 46.7,228.8 47.0,225.7 33.8,225.7Z" fill="#ffdccf"/>
<path d="M46.7,228.8 47.2,232.1 47.6,235.3 47.8,236.8 54.3,236.8 61.9,233.0 62.1,232.7 61.2,230.5 59.6,228.0 57.5,225.8 55.4,223.6 54.2,220.9 51.7,222.2 49.0,223.3 48.6,223.7 47.4,225.7 47.0,225.7Z" fill="#ff987a"/>
<path d="M68.4,221.6 68.9,218.5 68.5,215.4 68.0,215.4 66.6,218.3 60.7,217.4 59.3,215.1 58.5,215.5 54.9,219.1 54.6,219.2 54.2,220.9 55.4,223.6 57.5,225.8 59.6,228.0 61.2,230.5 62.1,232.7 66.9,226.7 66.2,220.4 68.3,222.2Z" fill="#ff7c5b"/>
<path d="M75.5,230.7 77.7,228.8 79.3,226.3 81.2,224.0 83.8,222.5 85.9,220.4 83.2,219.1 81.0,216.9 77.7,216.5 75.5,214.4 73.0,212.7 72.3,212.6 69.9,213.3 68.5,215.4 68.9,218.5 68.4,221.6 68.3,222.2 70.7,224.2 72.6,230.8Z" fill="#ff987a"/>
<path d="M89.6,218.7 91.8,217.6 91.5,214.9 88.9,212.8 86.8,210.5 85.8,207.1 83.3,205.1 81.2,207.6 78.0,208.8 75.3,210.5 73.0,212.7 75.5,214.4 77.7,216.5 81.0,216.9 83.2,219.1 85.9,220.4 87.9,220.4Z" fill="#ff7654"/>
<path d="M94.1,237.6 97.4,238.2 100.8,239.0 102.0,236.4 102.1,233.6 103.9,231.2 104.2,228.4 101.8,226.3 100.9,222.9 98.7,220.6 96.5,218.2 94.1,218.5 91.8,217.6 89.6,218.7 87.9,220.4 89.0,223.4 88.9,226.8 90.5,229.7 90.2,233.0 91.0,236.1Z" fill="#bfaed9"/>
<path d="M88.0,237.4 91.0,236.1 90.2,233.0 90.5,229.7 88.9,226.8 89.0,223.4 87.9,220.4 85.9,220.4 83.8,222.5 81.2,224.0 79.3,226.3 77.7,228.8 75.5,230.7 77.5,233.3 79.7,235.5 82.1,237.7 85.1,239.1Z" fill="#ffad94"/>
<path d="M91.0,254.4 93.4,251.8 96.2,250.2 99.4,249.3 100.6,246.0 100.1,242.5 100.9,239.1 100.8,239.0 97.4,238.2 94.1,237.6 91.0,236.1 88.0,237.4 85.1,239.1 84.6,240.2 85.6,243.1 85.7,246.2 86.2,249.2 86.6,252.3 87.7,255.2Z" fill="#ffad94"/>
<path d="M106.8,226.8 109.8,226.5 112.4,225.2 111.6,222.2 111.7,219.1 112.4,216.1 110.2,215.0 107.8,214.0 106.0,212.1 103.5,213.3 101.5,215.5 99.0,216.8 96.5,218.2 98.7,220.6 100.9,222.9 101.8,226.3 104.2,228.4Z" fill="#ffa88d"/>
<path d="M100.9,239.1 103.9,239.4 106.9,240.5 110.0,240.7 113.1,241.1 114.9,238.8 116.6,236.5 119.2,235.0 119.1,231.8 118.2,228.7 115.6,226.4 112.4,225.2 109.8,226.5 106.8,226.8 104.2,228.4 103.9,231.2 102.1,233.6 102.0,236.4 100.8,239.0Z" fill="#ffd7c8"/>
<path d="M127.1,218.9 124.4,218.2 122.2,216.8 120.3,214.5 117.7,213.8 114.7,214.2 112.4,216.1 111.7,219.1 111.6,222.2 112.4,225.2 115.6,226.4 118.2,228.7 120.6,226.7 123.6,225.6 126.2,223.8 128.1,221.2Z" fill="#ffa387"/>
<path d="M126.2,223.8 123.6,225.6 120.6,226.7 118.2,228.7 119.1,231.8 119.2,235.0 122.0,236.6 125.1,237.4 127.6,235.7 130.6,235.1 133.1,233.5 135.7,232.1 135.9,229.1 133.9,227.5 133.5,224.9 132.1,223.0 130.2,222.0 128.1,221.2Z" fill="#ffb29a"/>
<path d="M131.1,248.9 133.3,246.5 136.2,245.9 138.6,244.1 141.6,243.7 142.1,242.6 140.4,240.0 139.0,237.3 136.7,235.1 135.7,232.1 133.1,233.5 130.6,235.1 127.6,235.7 125.1,237.4 125.9,240.3 125.9,243.5 127.2,246.3 128.1,249.2Z" fill="#efeaf6"/>
<path d="M127.2,246.3 125.9,243.5 125.9,240.3 125.1,237.4 122.0,236.6 119.2,235.0 116.6,236.5 114.9,238.8 113.1,241.1 114.5,243.9 115.2,247.0 117.0,249.7 117.8,252.7 120.5,252.2 122.7,250.4 125.3,249.7 128.1,249.3 128.1,249.2Z" fill="#ffdccf"/>
<path d="M117.8,252.7 117.0,249.7 115.2,247.0 114.5,243.9 113.1,241.1 110.0,240.7 106.9,240.5 103.9,239.4 100.9,239.1 100.1,242.5 100.6,246.0 99.4,249.3 101.6,251.0 102.7,253.5 104.5,255.5 106.5,257.3 109.0,255.9 111.7,255.2 114.7,255.2 117.2,253.7Z" fill="#ffb29a"/>
<path d="M89.0,259.4 91.3,261.7 93.5,264.2 96.1,266.2 98.0,269.0 101.0,270.5 102.8,269.3 104.3,266.5 105.2,263.5 105.6,260.3 106.5,257.3 104.5,255.5 102.7,253.5 101.6,251.0 99.4,249.3 96.2,250.2 93.4,251.8 91.0,254.4 87.7,255.2 86.2,257.6Z" fill="#baa8d6"/>
<path d="M83.3,273.0 85.1,275.6 88.2,275.6 91.0,274.2 94.2,274.2 97.1,273.0 100.1,272.6 101.0,270.5 98.0,269.0 96.1,266.2 93.5,264.2 91.3,261.7 89.0,259.4 86.2,257.6 85.0,258.0 85.9,263.3 82.8,271.5Z" fill="#eae4f2"/>
<path d="M116.9,269.3 119.9,268.5 122.3,266.7 121.8,263.2 119.5,260.3 118.3,257.0 117.2,253.7 114.7,255.2 111.7,255.2 109.0,255.9 106.5,257.3 105.6,260.3 105.2,263.5 104.3,266.5 102.8,269.3 105.7,269.9 108.9,269.6 111.6,271.2 114.7,271.3Z" fill="#ffdccf"/>
<path d="M133.3,259.7 132.4,256.9 130.3,254.7 129.1,252.0 128.1,249.3 125.3,249.7 122.7,250.4 120.5,252.2 117.8,252.7 117.2,253.7 118.3,257.0 119.5,260.3 121.8,263.2 122.3,266.7 123.0,266.9 125.6,265.0 129.1,265.3 131.5,262.8 134.6,262.3Z" fill="#ffb8a1"/>
<path d="M136.7,259.3 139.1,256.9 141.6,254.5 144.6,252.6 144.0,249.5 142.8,246.6 141.6,243.7 138.6,244.1 136.2,245.9 133.3,246.5 131.1,248.9 128.1,249.2 128.1,249.3 129.1,252.0 130.3,254.7 132.4,256.9 133.3,259.7 134.6,262.3 134.8,262.3Z" fill="#ffd7c8"/>
<path d="M136.0,217.8 134.0,220.4 132.1,223.0 133.5,224.9 133.9,227.5 135.9,229.1 139.1,228.8 142.0,227.7 144.7,226.1 147.4,224.5 149.6,224.2 147.7,220.4 148.0,219.1 145.3,218.4 142.1,217.1 138.8,216.0Z" fill="#ffb29a"/>
<path d="M170.8,211.9 171.7,212.8 169.2,219.1 169.2,219.1 169.1,220.3 172.3,220.2 174.9,222.1 178.1,222.0 181.0,222.8 182.4,221.7 180.1,219.0 179.6,215.4 177.8,212.5 174.4,212.0 171.1,211.2Z" fill="#ffb29a"/>
<path d="M181.5,207.8 179.7,210.2 177.8,212.5 179.6,215.4 180.1,219.0 182.4,221.7 184.3,221.2 186.2,221.7 188.4,219.6 190.9,217.9 190.6,215.1 189.7,212.4 188.4,209.9 188.2,207.0 186.0,206.1 183.7,205.7Z" fill="#ffb8a1"/>
<path d="M199.8,205.1 197.8,203.9 196.1,202.1 193.8,204.3 190.5,204.9 188.2,207.0 188.4,209.9 189.7,212.4 190.6,215.1 190.9,217.9 193.4,217.9 195.6,215.2 198.1,212.7 200.5,210.2 202.1,207.0 202.0,206.2Z" fill="#ffd1c2"/>
<path d="M176.5,227.7 173.4,227.3 170.5,228.0 167.6,228.9 167.2,232.2 166.2,235.4 167.5,236.7 168.3,238.4 170.4,239.4 172.4,240.8 174.8,241.2 176.9,238.5 179.2,236.0 179.2,232.7 179.9,229.4 179.2,226.2Z" fill="#ffdccf"/>
<path d="M181.0,222.8 180.6,224.7 179.2,226.2 179.9,229.4 179.2,232.7 179.2,236.0 182.6,236.4 185.7,235.8 188.9,234.7 192.1,234.3 192.2,233.7 190.7,230.7 188.7,227.9 187.9,224.6 186.2,221.7 184.3,221.2 182.4,221.7Z" fill="#ffbda7"/>
<path d="M200.8,221.6 197.7,221.5 195.9,219.2 193.4,217.9 190.9,217.9 188.4,219.6 186.2,221.7 187.9,224.6 188.7,227.9 190.7,230.7 192.2,233.7 194.2,231.7 196.3,229.9 198.2,227.7 200.5,226.1 202.9,224.6 202.9,223.7Z" fill="#ffccbb"/>
<path d="M172.4,240.8 170.4,239.4 168.3,238.4 166.7,241.0 164.6,243.0 163.0,245.5 160.4,247.1 162.2,249.5 165.4,250.2 167.2,252.6 169.6,254.3 171.7,256.3 172.5,256.1 173.0,253.1 174.1,250.2 175.1,247.4 176.3,244.5 176.3,242.6 174.8,241.2Z" fill="#ffdccf"/>
<path d="M175.1,247.4 174.1,250.2 173.0,253.1 172.5,256.1 174.7,258.6 177.5,260.2 180.6,259.0 183.7,257.8 186.6,256.4 189.8,255.5 192.6,253.8 191.5,251.4 189.8,249.5 187.8,247.8 185.1,246.2 181.9,246.7 179.0,245.8 176.3,244.5Z" fill="#ffb8a1"/>
<path d="M189.8,249.5 191.5,251.4 192.6,253.8 195.0,254.8 197.3,256.0 198.0,252.9 198.7,249.7 200.1,246.8 201.1,243.8 202.0,240.8 200.0,238.6 197.4,237.4 194.7,236.3 192.3,234.8 190.8,237.9 189.6,241.2 189.6,244.8 187.8,247.8Z" fill="#ffd7c8"/>
<path d="M147.3,240.4 145.0,242.2 142.1,242.6 141.6,243.7 142.8,246.6 144.0,249.5 144.6,252.6 145.8,253.3 148.4,252.4 151.1,252.7 153.8,251.7 156.5,252.0 157.6,250.0 158.3,247.8 155.8,246.2 154.7,243.1 153.8,242.4 153.3,242.5 149.0,239.8Z" fill="#ffe1d6"/>
<path d="M147.9,258.4 147.6,255.5 145.8,253.3 144.6,252.6 141.6,254.5 139.1,256.9 136.7,259.3 134.8,262.3 136.3,264.2 137.8,266.1 141.0,266.8 144.0,265.2 146.3,262.6 149.1,260.8Z" fill="#ffa88d"/>
<path d="M156.3,269.5 157.7,266.2 160.6,264.5 162.9,262.0 160.9,260.5 159.1,258.8 156.0,260.3 152.6,260.2 149.4,261.0 149.9,263.8 151.3,266.3 152.5,268.8 153.5,271.4Z" fill="#ff8767"/>
<path d="M152.9,273.0 155.1,275.7 158.0,276.1 160.6,274.1 163.5,274.0 166.3,273.2 169.2,273.6 167.5,270.9 165.9,268.1 165.6,264.6 163.5,262.1 162.9,262.0 160.6,264.5 157.7,266.2 156.3,269.5 153.5,271.4Z" fill="#ff7654"/>
<path d="M146.3,271.2 144.3,268.3 141.0,266.8 137.8,266.1 136.6,269.0 136.9,272.2 135.6,275.1 138.4,276.0 139.9,278.8 142.7,279.7 144.4,277.1 146.5,275.0 149.1,273.3Z" fill="#ffa387"/>
<path d="M136.9,272.2 136.6,269.0 137.8,266.1 136.3,264.2 134.8,262.3 134.6,262.3 131.5,262.8 129.1,265.3 125.6,265.0 123.0,266.9 125.0,269.5 126.5,272.4 128.0,275.3 128.8,278.5 131.4,278.1 133.1,275.8 135.6,275.1Z" fill="#ffb8a1"/>
<path d="M128.0,275.3 126.5,272.4 125.0,269.5 123.0,266.9 122.3,266.7 119.9,268.5 116.9,269.3 114.7,271.3 115.9,274.5 116.3,278.0 116.9,281.4 118.0,284.6 120.4,283.4 123.0,282.4 125.3,280.9 128.1,280.5 128.8,278.5Z" fill="#ffe1d6"/>
<path d="M111.6,271.2 108.9,269.6 105.7,269.9 102.8,269.3 101.0,270.5 100.1,272.6 100.4,274.6 102.0,276.9 103.5,279.4 105.1,281.7 107.0,283.9 108.9,286.1 111.6,286.1 114.3,286.4 117.0,286.1 118.0,284.6 116.9,281.4 116.3,278.0 115.9,274.5 114.7,271.3Z" fill="#ffe6dd"/>
<path d="M97.1,286.0 97.5,289.1 100.3,290.5 102.7,292.6 103.9,292.6 105.4,290.3 106.6,287.8 108.9,286.1 107.0,283.9 105.1,281.7 103.5,279.4 102.0,276.9 100.4,274.6 98.4,277.1 97.6,280.1 96.2,282.9Z" fill="#ffe1d6"/>
<path d="M83.8,277.3 83.3,279.2 84.6,281.4 86.5,283.3 87.5,285.7 90.6,285.3 93.2,283.6 96.2,282.9 97.6,280.1 98.4,277.1 100.4,274.6 100.1,272.6 97.1,273.0 94.2,274.2 91.0,274.2 88.2,275.6 85.1,275.6Z" fill="#ffd7c8"/>
<path d="M96.1,298.6 98.2,296.5 100.4,294.4 102.7,292.6 100.3,290.5 97.5,289.1 95.0,290.8 92.3,291.9 89.6,293.1 91.6,295.1 92.7,297.6 93.6,300.3Z" fill="#ffb29a"/>
<path d="M116.6,302.4 119.3,300.8 121.0,298.1 119.8,295.2 118.7,292.2 118.6,288.9 117.0,286.1 114.3,286.4 111.6,286.1 108.9,286.1 106.6,287.8 105.4,290.3 103.9,292.6 106.2,295.0 106.9,298.2 108.3,301.0 110.1,302.7 112.2,303.9 114.6,304.8Z" fill="#ffa88d"/>
<path d="M133.6,286.4 131.7,284.5 129.5,282.8 128.1,280.5 125.3,280.9 123.0,282.4 120.4,283.4 118.0,284.6 117.0,286.1 118.6,288.9 118.7,292.2 119.8,295.2 121.0,298.1 123.9,298.3 126.8,298.2 128.5,296.0 131.0,294.9 133.1,293.2 134.6,291.4 134.5,289.0Z" fill="#ffb29a"/>
<path d="M139.9,278.8 138.4,276.0 135.6,275.1 133.1,275.8 131.4,278.1 128.8,278.5 128.1,280.5 129.5,282.8 131.7,284.5 133.6,286.4 134.5,289.0 137.0,287.3 140.2,287.4 142.7,285.8 141.9,282.7 142.7,279.7Z" fill="#ff8d6d"/>
<path d="M151.0,273.1 149.1,273.3 146.5,275.0 144.4,277.1 142.7,279.7 141.9,282.7 142.7,285.8 144.8,286.2 146.2,287.9 148.2,285.6 151.3,284.7 153.6,282.6 156.1,281.0 154.9,278.5 155.1,275.7 152.9,273.0Z" fill="#ffa387"/>
<path d="M169.3,286.3 168.9,283.2 165.9,282.3 162.8,281.6 159.6,282.3 156.5,281.4 157.0,284.1 157.4,286.8 157.3,289.6 158.7,292.1 161.5,291.3 164.5,291.6 167.3,290.9 170.0,289.4Z" fill="#ffd7c8"/>
<path d="M174.4,290.6 177.1,288.9 180.2,288.8 183.2,288.1 183.9,287.5 185.0,285.0 185.6,282.2 184.1,279.6 181.8,277.7 179.0,276.3 177.2,273.8 174.3,273.9 171.7,275.4 170.3,277.8 170.3,280.7 168.9,283.2 169.3,286.3 170.0,289.4 171.3,290.7Z" fill="#ff5c3c"/>
<path d="M185.0,285.0 183.9,287.5 186.1,289.9 188.9,291.8 191.5,293.8 194.2,291.5 195.7,288.4 198.2,286.0 196.1,284.1 193.9,282.3 192.1,280.1 189.1,281.8 185.6,282.2Z" fill="#efeaf6"/>
<path d="M171.7,275.4 174.3,273.9 177.2,273.8 179.1,271.4 179.9,268.5 178.4,265.9 178.1,263.0 177.5,260.2 174.7,258.6 172.5,256.1 171.7,256.3 169.0,258.3 166.5,260.5 163.5,262.1 165.6,264.6 165.9,268.1 167.5,270.9 169.2,273.6Z" fill="#ffbda7"/>
<path d="M179.1,271.4 177.2,273.8 179.0,276.3 181.8,277.7 184.1,279.6 185.6,282.2 189.1,281.8 192.1,280.1 192.7,277.2 194.8,275.0 196.2,272.6 196.8,269.7 198.0,267.1 197.7,266.3 194.7,266.2 191.8,267.4 188.7,266.9 185.8,267.4 182.8,267.3 179.9,268.5Z" fill="#ffb8a1"/>
<path d="M140.2,287.4 137.0,287.3 134.5,289.0 134.6,291.4 133.1,293.2 135.0,295.5 137.4,297.0 139.5,298.9 142.3,299.9 144.0,297.3 146.4,295.3 147.0,291.9 146.4,288.5 146.2,287.9 144.8,286.2 142.7,285.8Z" fill="#ff8767"/>
<path d="M155.4,291.3 152.1,291.3 149.4,289.4 146.4,288.5 147.0,291.9 146.4,295.3 149.0,296.5 151.5,297.9 154.5,298.1 156.8,299.9 156.5,297.3 158.3,295.1 158.3,292.6Z" fill="#ffa88d"/>
<path d="M170.0,289.4 167.3,290.9 164.5,291.6 161.5,291.3 158.7,292.1 158.3,292.6 158.3,295.1 156.5,297.3 156.8,299.9 157.2,301.6 159.9,300.7 162.7,300.2 165.5,300.0 168.4,300.1 170.0,297.4 171.6,294.6 172.1,292.6 171.3,290.7Z" fill="#ffe1d6"/>
<path d="M172.1,292.6 171.6,294.6 174.9,296.1 177.6,298.2 179.7,301.1 182.6,303.1 183.2,300.1 183.5,297.1 182.2,294.1 183.6,291.1 183.2,288.1 180.2,288.8 177.1,288.9 174.4,290.6 171.3,290.7Z" fill="#ffad94"/>
<path d="M88.1,288.8 87.2,291.7 89.6,293.1 92.3,291.9 95.0,290.8 97.5,289.1 97.1,286.0 96.2,282.9 93.2,283.6 90.6,285.3 87.5,285.7Z" fill="#ffe1d6"/>
<path d="M93.6,301.7 95.6,302.7 96.3,304.7 99.4,304.1 102.2,302.7 105.5,302.6 108.3,301.0 106.9,298.2 106.2,295.0 103.9,292.6 102.7,292.6 100.4,294.4 98.2,296.5 96.1,298.6 93.6,300.3Z" fill="#ffd7c8"/>
<path d="M158.7,292.1 157.3,289.6 157.4,286.8 157.0,284.1 156.5,281.4 156.1,281.0 153.6,282.6 151.3,284.7 148.2,285.6 146.2,287.9 146.4,288.5 149.4,289.4 152.1,291.3 155.4,291.3 158.3,292.6Z" fill="#ffdccf"/>
<path d="M184.0,306.3 185.2,307.6 189.2,303.6 193.7,301.7 192.8,300.2 192.8,296.9 191.5,293.8 188.9,291.8 186.1,289.9 183.9,287.5 183.2,288.1 183.6,291.1 182.2,294.1 183.5,297.1 183.2,300.1 182.6,303.1Z" fill="#ffb29a"/>
<path d="M192.8,296.9 192.8,300.2 193.7,301.7 198.1,299.8 201.9,293.5 204.8,290.0 203.6,288.9 200.9,286.8 198.2,286.0 195.7,288.4 194.2,291.5 191.5,293.8Z" fill="#efeaf6"/>
<path d="M206.5,276.7 205.2,279.3 203.9,281.8 202.4,284.3 200.9,286.8 203.6,288.9 204.8,290.0 208.2,286.0 215.8,277.1 216.2,276.8 214.7,275.6 212.2,275.0 209.4,275.2 207.1,273.8Z" fill="#ffffff"/>
<path d="M184.0,306.3 182.6,303.1 179.7,301.1 177.6,298.2 174.9,296.1 171.6,294.6 170.0,297.4 168.4,300.1 168.9,303.4 170.6,306.3 172.4,309.1 172.7,312.5 174.7,314.3 175.3,314.5 182.9,310.0 185.2,307.6Z" fill="#ffa88d"/>
<path d="M156.8,299.9 154.5,298.1 151.5,297.9 149.0,296.5 146.4,295.3 144.0,297.3 142.3,299.9 143.2,302.6 142.6,305.4 145.5,305.2 148.5,304.9 151.1,303.0 154.0,302.9 156.9,302.6 157.2,301.6Z" fill="#ff9d80"/>
<path d="M142.6,305.4 143.2,302.6 142.3,299.9 139.5,298.9 137.4,297.0 135.0,295.5 133.1,293.2 131.0,294.9 128.5,296.0 126.8,298.2 127.9,301.1 129.9,303.4 131.6,305.9 134.2,307.8 134.7,309.2 141.0,307.3 141.8,307.2Z" fill="#ffa387"/>
<path d="M123.9,298.3 121.0,298.1 119.3,300.8 116.6,302.4 114.6,304.8 114.2,306.5 114.5,308.3 116.1,311.2 118.9,312.5 122.0,313.0 124.4,315.3 127.7,315.4 130.4,317.0 132.0,315.4 130.9,310.3 134.7,309.2 134.2,307.8 131.6,305.9 129.9,303.4 127.9,301.1 126.8,298.2Z" fill="#ff7654"/>
<path d="M157.5,313.4 155.4,315.1 157.1,317.8 157.9,321.0 158.8,324.0 162.0,322.9 165.3,322.1 168.6,321.3 172.1,321.5 172.6,321.3 173.8,315.4 175.3,314.5 174.7,314.3 172.7,312.5 169.8,312.7 166.9,312.7 164.3,310.7 161.4,310.8 158.5,310.8Z" fill="#ffb8a1"/>
<path d="M114.2,306.5 114.6,304.8 112.2,303.9 110.1,302.7 108.3,301.0 105.5,302.6 102.2,302.7 99.4,304.1 96.3,304.7 97.0,307.2 96.6,309.9 97.1,312.4 99.6,313.0 101.9,314.2 104.8,312.2 107.9,310.6 111.6,310.4 114.5,308.3Z" fill="#ffb8a1"/>
<path d="M99.6,313.0 97.1,312.4 94.8,314.9 93.6,315.3 94.5,318.0 97.6,328.7 99.1,327.8 102.2,327.2 104.8,325.7 103.4,323.0 103.5,319.9 102.4,317.2 101.9,314.2Z" fill="#ff6948"/>
<path d="M111.6,310.4 107.9,310.6 104.8,312.2 101.9,314.2 102.4,317.2 103.5,319.9 103.4,323.0 104.8,325.7 107.3,326.5 109.9,326.9 112.0,325.8 113.5,324.0 113.9,320.7 114.2,317.4 116.3,314.5 116.1,311.2 114.5,308.3Z" fill="#ffdccf"/>
<path d="M127.1,326.9 128.4,323.6 129.6,320.4 130.4,317.0 127.7,315.4 124.4,315.3 122.0,313.0 118.9,312.5 116.1,311.2 116.3,314.5 114.2,317.4 113.9,320.7 113.5,324.0 116.7,325.4 120.3,324.8 123.6,325.6 126.7,327.2Z" fill="#ffbda7"/>
<path d="M130.4,317.0 129.6,320.4 128.4,323.6 127.1,326.9 129.9,328.4 132.7,329.8 135.5,331.3 138.8,331.6 141.4,333.5 144.5,334.4 145.1,333.0 144.5,329.6 144.6,326.1 143.2,322.9 142.7,319.6 136.0,317.9 132.2,316.6 132.0,315.4Z" fill="#ffdccf"/>
<path d="M115.0,335.6 116.9,338.2 119.8,338.4 121.7,336.0 124.6,334.7 126.1,332.4 126.4,329.8 126.7,327.2 123.6,325.6 120.3,324.8 116.7,325.4 113.5,324.0 112.0,325.8 109.9,326.9 110.8,329.7 111.2,332.6 112.2,335.3Z" fill="#dacfe9"/>
<path d="M103.7,339.6 106.8,340.7 108.2,338.6 110.1,336.9 112.2,335.3 111.2,332.6 110.8,329.7 109.9,326.9 107.3,326.5 104.8,325.7 102.2,327.2 99.1,327.8 97.6,328.7 98.0,330.0 100.7,338.9Z" fill="#ff704e"/>
<path d="M112.1,347.8 112.2,347.7 112.0,346.9 117.0,343.1 118.5,343.8 120.2,343.2 120.5,340.8 119.8,338.4 116.9,338.2 115.0,335.6 112.2,335.3 110.1,336.9 108.2,338.6 106.8,340.7 107.5,343.9 107.0,347.2 108.3,348.4 109.6,349.6Z" fill="#ff987a"/>
<path d="M110.6,352.7 113.6,353.6 116.6,354.8 119.5,356.1 120.0,355.8 121.9,353.7 123.5,351.5 124.4,348.8 123.2,346.8 122.3,344.5 120.2,343.2 118.5,343.8 122.1,345.7 120.8,352.0 115.8,353.7 112.7,350.7 112.2,347.7 112.1,347.8 109.6,349.6Z" fill="#5c3fa0"/>
<path d="M122.3,344.5 123.2,346.8 124.4,348.8 127.6,349.4 130.7,348.9 132.3,347.4 133.2,344.3 134.2,341.2 132.0,339.2 129.5,337.8 127.1,336.2 124.6,334.7 121.7,336.0 119.8,338.4 120.5,340.8 120.2,343.2Z" fill="#ffd7c8"/>
<path d="M126.4,329.8 126.1,332.4 124.6,334.7 127.1,336.2 129.5,337.8 132.0,339.2 134.2,341.2 136.6,339.2 139.3,337.8 142.1,336.4 144.5,334.4 144.5,334.4 141.4,333.5 138.8,331.6 135.5,331.3 132.7,329.8 129.9,328.4 127.1,326.9 126.7,327.2Z" fill="#ffe1d6"/>
<path d="M146.6,336.8 144.5,334.4 142.1,336.4 139.3,337.8 136.6,339.2 134.2,341.2 133.2,344.3 132.3,347.4 135.1,348.4 137.9,349.4 140.5,350.9 143.8,350.6 146.4,352.1 147.7,351.0 148.6,348.3 148.7,348.0 148.7,347.0 148.9,346.9 149.5,343.9 146.0,338.6 147.6,338.2Z" fill="#eae4f2"/>
<path d="M156.8,362.2 159.0,359.9 161.4,358.0 163.5,355.7 163.4,352.3 162.9,348.9 162.4,347.3 160.1,348.3 153.0,349.2 150.4,353.6 146.8,353.6 147.7,351.0 146.4,352.1 146.1,354.4 147.5,357.3 149.6,359.6 151.7,362.0 153.5,363.3 156.8,362.2Z" fill="#bfaed9"/>
<path d="M137.4,362.9 138.7,359.7 141.0,357.8 144.0,356.6 146.1,354.4 146.4,352.1 143.8,350.6 140.5,350.9 137.9,349.4 135.1,348.4 132.3,347.4 130.7,348.9 132.0,351.8 132.4,355.0 133.2,358.1 134.3,361.2 134.7,364.4Z" fill="#eae4f2"/>
<path d="M146.2,373.3 148.5,371.7 151.2,371.0 153.9,370.7 152.5,369.5 153.0,363.5 153.5,363.3 151.7,362.0 149.6,359.6 147.5,357.3 146.1,354.4 144.0,356.6 141.0,357.8 138.7,359.7 137.4,362.9 134.7,364.4 134.6,364.6 134.6,365.5 136.5,367.8 138.8,369.8 141.8,371.0 143.4,373.6Z" fill="#d4c9e6"/>
<path d="M122.8,357.7 125.9,359.2 128.5,361.5 131.9,362.4 134.6,364.6 134.7,364.4 134.3,361.2 133.2,358.1 132.4,355.0 132.0,351.8 130.7,348.9 127.6,349.4 124.4,348.8 123.5,351.5 121.9,353.7 120.0,355.8Z" fill="#ffa88d"/>
<path d="M118.6,362.0 118.2,358.8 119.5,356.1 116.6,354.8 113.6,353.6 110.6,352.7 108.9,354.4 109.4,355.8 112.0,362.1 116.2,364.6 117.3,364.7Z" fill="#ff6948"/>
<path d="M133.4,367.0 134.6,365.5 134.6,364.6 131.9,362.4 128.5,361.5 125.9,359.2 122.8,357.7 120.0,355.8 119.5,356.1 118.2,358.8 118.6,362.0 117.3,364.7 118.1,365.8 118.3,365.9 123.0,368.6 123.3,368.6 126.0,367.5 128.8,367.7 131.6,367.5Z" fill="#ffb29a"/>
<path d="M142.6,375.9 143.4,373.6 141.8,371.0 138.8,369.8 136.5,367.8 134.6,365.5 133.4,367.0 131.6,367.5 130.0,370.1 129.2,373.0 128.2,375.9 128.3,379.1 128.2,379.2 128.4,381.0 128.7,382.8 129.2,383.1 132.6,382.9 135.3,384.7 137.9,384.0 139.9,382.4 141.7,380.9 140.8,377.4 142.7,376.7Z" fill="#bfaed9"/>
<path d="M144.1,383.2 144.4,383.4 146.9,383.4 142.9,381.8ZM148.3,388.1 150.5,390.5 151.0,390.3 149.9,389.5 146.9,383.4 148.2,388.0ZM157.9,373.3 157.8,373.2 157.0,373.3 153.9,370.7 151.2,371.0 148.5,371.7 146.2,373.3 143.4,373.6 142.6,375.9 142.7,376.7 148.9,374.3 157.9,373.4Z" fill="#ffffff"/>
<path d="M159.3,391.2 161.0,389.5 159.0,390.5 158.8,390.9ZM161.6,374.9 159.8,374.4 162.0,377.4 164.4,376.2Z" fill="#a48ec9"/>
<path d="M144.1,383.2 142.9,381.8 141.8,381.4 141.7,380.9 139.9,382.4 137.9,384.0 135.3,384.7 135.3,385.0 139.8,383.4 144.4,383.4ZM150.5,390.5 148.3,388.1 148.2,388.0 148.9,390.5 144.8,396.6 141.7,397.0 142.0,397.2 144.8,397.0 148.9,391.5 149.6,391.7Z" fill="#210e86"/>
<path d="M172.1,321.5 168.6,321.3 165.3,322.1 162.0,322.9 158.8,324.0 158.6,325.8 158.3,326.5 158.9,328.2 160.3,329.1 161.9,331.6 163.5,334.0 165.6,335.9 169.1,335.5 169.7,335.2 171.3,328.0 172.6,321.3Z" fill="#ffb8a1"/>
<path d="M155.0,201.6 158.1,201.5 161.0,200.3 162.0,198.9 160.1,196.4 158.9,193.7 157.9,190.9 155.3,192.6 152.7,194.2 150.6,196.4 150.9,199.3 151.9,202.0Z" fill="#ffbda7"/>
<path d="M196.3,198.7 195.0,195.4 191.9,196.1 188.9,197.2 185.8,197.5 182.6,197.5 182.3,199.5 181.3,201.2 182.4,203.5 183.7,205.7 186.0,206.1 188.2,207.0 190.5,204.9 193.8,204.3 196.1,202.1Z" fill="#ffc2ae"/>
<path d="M203.8,204.6 206.2,204.0 207.6,201.9 207.2,199.0 207.6,196.0 206.0,193.3 206.3,190.3 203.2,190.9 200.6,192.5 197.7,193.4 195.1,195.1 195.0,195.4 196.3,198.7 196.1,202.1 197.8,203.9 199.8,205.1 202.0,206.2Z" fill="#ffa88d"/>
<path d="M217.9,191.5 216.9,193.9 217.3,197.2 217.8,200.5 221.1,200.5 224.4,201.2 227.5,202.5 229.1,200.6 229.5,198.1 231.2,196.3 230.6,194.7 228.0,193.6 225.5,192.1 222.5,191.9 220.1,190.0Z" fill="#ffd7c8"/>
<path d="M229.5,198.1 229.1,200.6 227.5,202.5 228.7,204.8 228.6,207.5 229.9,209.8 232.2,210.8 234.7,209.6 237.1,208.4 239.6,207.1 239.6,203.7 240.1,200.2 239.4,196.8 236.7,196.3 233.9,196.1 231.2,196.3Z" fill="#ff8d6d"/>
<path d="M252.0,199.3 253.8,196.5 251.9,195.0 250.2,193.3 249.4,191.0 247.0,191.6 244.5,192.2 242.4,193.6 241.6,195.6 244.1,197.9 247.3,199.1 249.6,201.7Z" fill="#ffd7c8"/>
<path d="M253.1,210.1 255.1,210.9 257.2,209.0 258.8,206.7 260.8,204.7 262.3,202.2 260.3,200.0 257.5,198.5 255.8,196.0 253.8,196.5 252.0,199.3 249.6,201.7 249.6,204.2 249.6,206.7 250.2,209.2 251.0,210.3Z" fill="#e4ddef"/>
<path d="M276.0,201.6 274.7,198.7 272.2,198.1 269.8,196.8 267.2,196.8 265.3,199.7 262.7,202.1 265.4,204.0 267.6,206.4 270.0,208.4 272.4,210.3 273.3,205.6 277.1,203.6Z" fill="#bfaed9"/>
<path d="M276.0,201.6 277.1,203.6 277.4,203.5 280.4,204.0 281.0,203.9 283.9,204.3 286.1,203.2 284.4,202.5 285.5,193.4 283.9,188.8 283.2,189.1 280.2,190.6 277.2,192.0 276.2,194.2 274.9,196.2 274.7,198.7Z" fill="#cabbe0"/>
<path d="M269.3,189.3 268.4,192.1 266.1,194.0 267.2,196.8 269.8,196.8 272.2,198.1 274.7,198.7 274.9,196.2 276.2,194.2 277.2,192.0 274.8,191.0 273.8,188.3 271.3,187.3Z" fill="#ffffff"/>
<path d="M269.8,211.1 266.9,211.4 264.2,212.7 261.4,213.3 258.6,213.9 259.4,216.6 260.8,219.1 261.0,221.9 264.0,221.9 266.7,220.9 269.4,220.0 272.1,218.8 274.7,218.3 272.3,210.6 272.3,210.5Z" fill="#cfc2e3"/>
<path d="M248.8,212.4 248.5,215.8 246.4,218.0 248.2,220.1 249.0,222.9 250.1,225.5 252.0,227.6 254.8,226.7 257.3,224.7 260.4,224.4 261.0,221.9 260.8,219.1 259.4,216.6 258.6,213.9 257.1,212.1 255.1,210.9 253.1,210.1 251.0,210.3Z" fill="#faf8fc"/>
<path d="M250.1,225.5 249.0,222.9 248.2,220.1 246.4,218.0 243.2,218.5 240.3,219.9 237.2,220.8 236.7,223.5 235.2,225.8 235.4,227.1 237.4,229.4 239.9,230.9 242.2,232.6 244.6,234.3 246.8,232.5 249.6,232.3 250.1,229.6 252.0,227.6Z" fill="#baa8d6"/>
<path d="M226.8,211.2 224.3,213.5 221.9,216.1 218.7,217.3 219.5,219.5 220.0,221.8 223.2,222.0 226.2,223.1 229.0,224.5 232.0,225.7 235.2,225.8 236.7,223.5 237.2,220.8 235.8,218.3 235.4,215.4 232.9,213.5 232.2,210.8 229.9,209.8Z" fill="#eae4f2"/>
<path d="M237.1,208.4 234.7,209.6 232.2,210.8 232.9,213.5 235.4,215.4 235.8,218.3 237.2,220.8 240.3,219.9 243.2,218.5 246.4,218.0 248.5,215.8 248.8,212.4 251.0,210.3 250.2,209.2 247.6,208.5 244.8,208.6 242.1,208.4 239.6,207.1Z" fill="#ffd7c8"/>
<path d="M224.4,201.2 221.1,200.5 217.8,200.5 215.8,202.3 216.6,205.6 215.7,208.9 215.4,212.2 215.4,215.5 217.3,216.0 218.7,217.3 221.9,216.1 224.3,213.5 226.8,211.2 229.9,209.8 228.6,207.5 228.7,204.8 227.5,202.5Z" fill="#ffd1c2"/>
<path d="M207.9,213.2 206.3,210.9 204.6,208.7 202.1,207.0 200.5,210.2 198.1,212.7 195.6,215.2 193.4,217.9 195.9,219.2 197.7,221.5 200.8,221.6 202.9,223.7 204.7,220.9 207.5,218.8 209.2,215.8Z" fill="#ffe6dd"/>
<path d="M167.5,221.5 166.1,222.9 166.9,225.9 167.6,228.9 170.5,228.0 173.4,227.3 176.5,227.7 179.2,226.2 180.6,224.7 181.0,222.8 178.1,222.0 174.9,222.1 172.3,220.2 169.1,220.3Z" fill="#ffa88d"/>
<path d="M176.3,242.6 176.3,244.5 179.0,245.8 181.9,246.7 185.1,246.2 187.8,247.8 189.6,244.8 189.6,241.2 190.8,237.9 192.3,234.8 192.1,234.3 188.9,234.7 185.7,235.8 182.6,236.4 179.2,236.0 176.9,238.5 174.8,241.2Z" fill="#ffbda7"/>
<path d="M206.9,230.0 205.6,226.7 202.9,224.6 200.5,226.1 198.2,227.7 196.3,229.9 194.2,231.7 192.2,233.7 192.1,234.3 192.3,234.8 194.7,236.3 197.4,237.4 200.0,238.6 202.0,240.8 205.2,239.5 208.1,238.0 208.7,235.2 209.2,232.4Z" fill="#ffebe3"/>
<path d="M215.1,229.5 212.3,231.3 209.2,232.4 208.7,235.2 208.1,238.0 211.0,239.7 213.0,242.5 215.5,244.7 218.2,243.9 220.8,242.5 223.6,241.7 226.3,241.0 226.4,238.0 224.8,235.2 221.9,233.5 220.2,230.7 218.1,228.3Z" fill="#ffffff"/>
<path d="M213.8,252.9 214.6,250.2 215.7,247.6 215.5,244.7 213.0,242.5 211.0,239.7 208.1,238.0 205.2,239.5 202.0,240.8 201.1,243.8 200.1,246.8 198.7,249.7 198.0,252.9 197.3,256.0 198.9,258.4 201.9,258.6 204.6,257.7 207.3,256.8 210.2,256.7 212.9,255.6Z" fill="#c5b5dc"/>
<path d="M218.4,224.9 218.1,228.3 220.2,230.7 221.9,233.5 224.8,235.2 226.4,238.0 227.8,235.5 230.7,234.2 232.1,231.8 233.6,229.3 235.4,227.1 235.2,225.8 232.0,225.7 229.0,224.5 226.2,223.1 223.2,222.0 220.0,221.8Z" fill="#ffe1d6"/>
<path d="M228.3,243.7 231.0,245.7 234.0,244.3 236.8,242.4 240.1,241.7 243.1,240.4 243.3,237.2 244.6,234.3 242.2,232.6 239.9,230.9 237.4,229.4 235.4,227.1 233.6,229.3 232.1,231.8 230.7,234.2 227.8,235.5 226.4,238.0 226.3,241.0Z" fill="#fff0ea"/>
<path d="M260.2,240.6 257.6,238.4 255.0,236.3 251.7,235.0 249.6,232.3 246.8,232.5 244.6,234.3 243.3,237.2 243.1,240.4 244.7,243.4 247.2,245.7 248.7,248.9 250.6,249.9 254.9,246.8 260.6,241.1Z" fill="#ffdccf"/>
<path d="M248.7,248.9 247.2,245.7 244.7,243.4 243.1,240.4 240.1,241.7 236.8,242.4 234.0,244.3 231.0,245.7 231.2,247.2 233.0,250.3 236.4,251.9 238.6,254.5 240.0,257.4 246.1,253.1 250.6,249.9Z" fill="#ffebe3"/>
<path d="M231.0,245.7 228.3,243.7 226.3,241.0 223.6,241.7 220.8,242.5 218.2,243.9 215.5,244.7 215.7,247.6 214.6,250.2 213.8,252.9 212.9,255.6 214.7,257.5 216.9,258.9 219.2,260.3 222.5,260.1 223.6,257.0 225.9,254.8 228.1,252.6 230.0,250.1 231.2,247.2Z" fill="#ffd7c8"/>
<path d="M238.6,254.5 236.4,251.9 233.0,250.3 231.2,247.2 230.0,250.1 228.1,252.6 225.9,254.8 223.6,257.0 222.5,260.1 225.1,262.3 228.2,263.8 229.9,265.5 230.9,264.5 237.2,259.4 240.0,257.4Z" fill="#ffffff"/>
<path d="M219.2,260.3 219.0,263.6 217.4,266.4 215.6,269.2 214.8,272.3 214.7,275.6 216.2,276.8 223.3,272.1 229.9,265.5 228.2,263.8 225.1,262.3 222.5,260.1Z" fill="#ff9d80"/>
<path d="M210.2,256.7 207.3,256.8 204.6,257.7 201.9,258.6 198.9,258.4 199.4,261.1 197.6,263.6 197.7,266.3 198.0,267.1 200.7,268.2 202.8,270.1 204.5,272.6 207.1,273.8 209.4,275.2 212.2,275.0 214.7,275.6 214.8,272.3 215.6,269.2 217.4,266.4 219.0,263.6 219.2,260.3 216.9,258.9 214.7,257.5 212.9,255.6Z" fill="#ffc2ae"/>
<path d="M182.8,267.3 185.8,267.4 188.7,266.9 191.8,267.4 194.7,266.2 197.7,266.3 197.6,263.6 199.4,261.1 198.9,258.4 197.3,256.0 195.0,254.8 192.6,253.8 189.8,255.5 186.6,256.4 183.7,257.8 180.6,259.0 177.5,260.2 178.1,263.0 178.4,265.9 179.9,268.5Z" fill="#ffb29a"/>
<path d="M163.5,262.1 166.5,260.5 169.0,258.3 171.7,256.3 169.6,254.3 167.2,252.6 165.4,250.2 162.2,249.5 160.4,247.1 158.3,247.8 157.6,250.0 156.5,252.0 156.7,254.5 158.7,256.4 159.1,258.8 160.9,260.5 162.9,262.0Z" fill="#ffd1c2"/>
<path d="M152.6,260.2 156.0,260.3 159.1,258.8 158.7,256.4 156.7,254.5 156.5,252.0 153.8,251.7 151.1,252.7 148.4,252.4 145.8,253.3 147.6,255.5 147.9,258.4 149.1,260.8 149.4,261.0Z" fill="#ffa387"/>
<path d="M152.5,268.8 151.3,266.3 149.9,263.8 149.4,261.0 149.1,260.8 146.3,262.6 144.0,265.2 141.0,266.8 144.3,268.3 146.3,271.2 149.1,273.3 151.0,273.1 152.9,273.0 153.5,271.4Z" fill="#ff8161"/>
<path d="M154.9,278.5 156.1,281.0 156.5,281.4 159.6,282.3 162.8,281.6 165.9,282.3 168.9,283.2 170.3,280.7 170.3,277.8 171.7,275.4 169.2,273.6 166.3,273.2 163.5,274.0 160.6,274.1 158.0,276.1 155.1,275.7Z" fill="#ffa88d"/>
<path d="M193.9,282.3 196.1,284.1 198.2,286.0 200.9,286.8 202.4,284.3 203.9,281.8 205.2,279.3 206.5,276.7 207.1,273.8 204.5,272.6 202.8,270.1 200.7,268.2 198.0,267.1 196.8,269.7 196.2,272.6 194.8,275.0 192.7,277.2 192.1,280.1Z" fill="#fffaf8"/>
<path d="M165.5,300.0 162.7,300.2 159.9,300.7 157.2,301.6 156.9,302.6 157.4,305.4 158.0,308.1 158.5,310.8 161.4,310.8 164.3,310.7 166.9,312.7 169.8,312.7 172.7,312.5 172.4,309.1 170.6,306.3 168.9,303.4 168.4,300.1Z" fill="#ffa88d"/>
<path d="M155.4,315.1 157.5,313.4 158.5,310.8 158.0,308.1 157.4,305.4 156.9,302.6 154.0,302.9 151.1,303.0 148.5,304.9 145.5,305.2 142.6,305.4 141.8,307.2 151.1,306.5 152.1,314.9Z" fill="#ff5c3c"/>
<path d="M143.8,102.1 141.2,103.0 141.2,105.5 140.6,108.0 141.5,109.6 143.1,110.6 146.3,110.0 149.4,109.1 150.1,108.7 147.9,106.5 145.9,100.7Z" fill="#ffe1d6"/>
<path d="M237.7,149.1 235.2,151.5 233.8,154.8 234.1,157.8 235.4,160.4 236.9,163.0 237.4,163.4 240.5,163.8 243.6,163.4 244.3,160.3 245.9,157.5 247.8,155.0 248.4,153.6 246.1,153.2 238.0,148.6Z" fill="#fffaf8"/>
<path d="M247.8,155.0 245.9,157.5 244.3,160.3 243.6,163.4 245.5,164.7 246.6,167.0 248.6,168.4 251.4,168.2 254.2,168.4 256.1,166.0 255.7,162.6 255.8,159.1 255.5,155.7 255.7,154.7 253.6,154.5 248.4,153.6Z" fill="#ffbda7"/>
<path d="M255.5,155.7 255.8,159.1 255.7,162.6 256.1,166.0 259.2,164.9 262.5,165.1 265.6,165.0 265.8,162.0 264.8,159.1 265.7,156.2 265.8,155.7 255.7,154.7Z" fill="#ffe1d6"/>
<path d="M265.7,156.2 264.8,159.1 265.8,162.0 265.6,165.0 267.7,166.1 269.1,167.9 272.0,167.9 274.4,166.4 275.7,163.5 274.0,160.7 273.3,157.6 272.7,154.7 266.3,155.8 265.8,155.7Z" fill="#ffdccf"/>
<path d="M276.6,168.6 278.6,171.1 280.9,173.3 281.5,173.9 283.1,173.7 279.0,168.0 279.5,162.5 278.9,162.8 275.7,163.5 274.4,166.4ZM286.9,160.8 284.8,160.2 284.7,160.2 284.8,160.6 287.4,161.1 287.4,161.0Z" fill="#b5a1d3"/>
<path d="M298.4,156.2 299.5,155.7 299.5,153.5 299.5,153.0 290.4,150.5 289.0,150.3 289.3,152.5 289.4,155.5 288.8,157.0 297.6,157.0Z" fill="#ffd7c8"/>
<path d="M225.3,169.5 227.4,168.0 228.1,165.6 227.4,162.6 224.8,160.7 224.0,157.7 220.8,158.3 217.6,158.8 217.5,159.5 219.2,161.7 219.5,164.7 221.7,166.7 222.4,169.4Z" fill="#ffe6dd"/>
<path d="M246.6,167.0 245.5,164.7 243.6,163.4 240.5,163.8 237.4,163.4 237.4,166.1 237.4,168.8 236.8,171.4 235.8,174.0 238.0,176.2 240.6,177.6 243.3,178.9 245.2,176.6 246.0,173.7 246.7,170.8 248.6,168.4Z" fill="#fff5f1"/>
<path d="M251.4,168.2 248.6,168.4 246.7,170.8 246.0,173.7 245.2,176.6 243.3,178.9 243.6,180.2 246.1,182.1 249.0,183.0 252.1,183.6 254.1,182.8 256.3,182.9 256.5,180.3 257.4,177.8 257.8,175.2 256.5,172.9 255.5,170.6 254.2,168.4Z" fill="#ff9d80"/>
<path d="M264.2,173.6 261.0,174.5 257.8,175.2 257.4,177.8 256.5,180.3 256.3,182.9 257.9,183.6 259.0,185.1 261.2,184.1 263.8,184.5 265.9,183.3 266.3,180.4 268.1,177.9 268.2,174.9 267.5,173.4Z" fill="#ffb29a"/>
<path d="M280.9,173.3 278.6,171.1 276.6,168.6 274.4,166.4 272.0,167.9 269.1,167.9 269.1,170.9 267.5,173.4 268.2,174.9 271.4,175.8 273.8,178.4 277.0,179.4 278.1,179.4 279.4,174.2 281.5,173.9Z" fill="#ffdccf"/>
<path d="M257.9,183.6 256.3,182.9 254.1,182.8 252.1,183.6 250.8,185.9 250.4,188.6 249.4,191.0 250.2,193.3 251.9,195.0 253.8,196.5 255.8,196.0 256.8,193.7 258.0,191.5 259.9,189.8 259.6,187.5 259.0,185.1Z" fill="#ffad94"/>
<path d="M268.3,184.9 265.9,183.3 263.8,184.5 261.2,184.1 259.0,185.1 259.6,187.5 259.9,189.8 261.6,191.8 264.3,192.3 266.1,194.0 268.4,192.1 269.3,189.3 271.3,187.3 270.9,185.7Z" fill="#ffd7c8"/>
<path d="M275.1,181.6 272.7,183.3 270.9,185.7 271.3,187.3 273.8,188.3 274.8,191.0 277.2,192.0 280.2,190.6 283.2,189.1 283.9,188.8 283.4,187.4 277.4,182.3 278.1,179.4 277.0,179.4Z" fill="#e4ddef"/>
<path d="M264.3,192.3 261.6,191.8 259.9,189.8 258.0,191.5 256.8,193.7 255.8,196.0 257.5,198.5 260.3,200.0 262.3,202.2 262.7,202.1 265.3,199.7 267.2,196.8 266.1,194.0Z" fill="#cfc2e3"/>
<path d="M262.5,165.1 259.2,164.9 256.1,166.0 254.2,168.4 255.5,170.6 256.5,172.9 257.8,175.2 261.0,174.5 264.2,173.6 267.5,173.4 269.1,170.9 269.1,167.9 267.7,166.1 265.6,165.0Z" fill="#ffccbb"/>
<path d="M273.8,178.4 271.4,175.8 268.2,174.9 268.1,177.9 266.3,180.4 265.9,183.3 268.3,184.9 270.9,185.7 272.7,183.3 275.1,181.6 277.0,179.4Z" fill="#ffd1c2"/>
<path d="M249.0,183.0 246.1,182.1 243.6,180.2 241.5,182.1 240.3,184.6 241.8,187.4 241.0,190.8 242.4,193.6 244.5,192.2 247.0,191.6 249.4,191.0 250.4,188.6 250.8,185.9 252.1,183.6Z" fill="#ff8d6d"/>
<path d="M240.1,200.2 239.6,203.7 239.6,207.1 242.1,208.4 244.8,208.6 247.6,208.5 250.2,209.2 249.6,206.7 249.6,204.2 249.6,201.7 247.3,199.1 244.1,197.9 241.6,195.6 239.4,196.8Z" fill="#ff8161"/>
<path d="M257.1,212.1 258.6,213.9 261.4,213.3 264.2,212.7 266.9,211.4 269.8,211.1 272.3,210.5 272.4,210.3 270.0,208.4 267.6,206.4 265.4,204.0 262.7,202.1 262.3,202.2 260.8,204.7 258.8,206.7 257.2,209.0 255.1,210.9Z" fill="#bfaed9"/>
<path d="M274.4,221.6 274.8,218.9 274.7,218.3 272.1,218.8 269.4,220.0 266.7,220.9 264.0,221.9 261.0,221.9 260.4,224.4 262.2,227.1 264.3,229.6 265.3,230.5 268.8,225.4 274.3,221.7 274.7,222.1Z" fill="#c5b5dc"/>
<path d="M264.3,229.6 262.2,227.1 260.4,224.4 257.3,224.7 254.8,226.7 252.0,227.6 250.1,229.6 249.6,232.3 251.7,235.0 255.0,236.3 257.6,238.4 260.2,240.6 260.6,241.1 262.5,239.2 263.7,232.9 265.3,230.5Z" fill="#ffe6dd"/>
<path d="M275.7,154.9 278.6,155.6 281.7,155.2 282.9,152.0 283.8,148.8 283.8,148.2 283.3,148.8 277.6,148.2 277.6,148.2 273.8,154.5 273.3,154.6Z" fill="#ffe6dd"/>
<path d="M283.8,148.8 282.9,152.0 281.7,155.2 283.6,157.5 283.7,157.5 284.0,157.5 284.5,159.4 284.8,160.2 286.9,160.8 287.4,161.0 287.4,157.0 288.8,157.0 289.4,155.5 289.3,152.5 289.0,150.3 283.9,149.4 287.4,144.4 283.8,148.2Z" fill="#ffd7c8"/>
<path d="M283.6,157.5 281.7,155.2 278.6,155.6 275.7,154.9 273.3,154.6 272.7,154.7 273.3,157.6 274.0,160.7 275.7,163.5 278.9,162.8 279.5,162.5 280.0,158.0 283.7,157.5Z" fill="#ffebe3"/>
<path d="M79.3,166.8 82.8,167.1 85.3,166.4 87.8,165.9 90.2,165.0 90.9,164.2 91.6,161.3 90.9,158.4 91.0,155.6 89.0,153.6 86.3,152.0 83.5,150.5 81.6,150.2 87.1,156.8 83.3,164.4 77.8,165.8Z" fill="#ffcbb9"/>
<path d="M281.0,203.9 280.4,204.0 283.4,204.5 283.9,204.3Z" fill="#ffcebe"/>
<path d="M167.5,236.7 166.2,235.4 163.9,234.9 161.6,240.6 153.8,242.4 154.7,243.1 155.8,246.2 158.3,247.8 160.4,247.1 163.0,245.5 164.6,243.0 166.7,241.0 168.3,238.4Z" fill="#ffe3d9"/>
<path d="M151.9,161.7 149.8,163.5 148.0,165.6 148.8,168.6 147.6,171.6 148.2,174.6 151.5,174.6 154.6,173.2 157.8,173.1 161.1,172.8 161.1,172.8 160.2,170.9 156.4,172.4 152.6,173.9 151.8,170.2 155.6,167.9 154.8,162.6 152.2,161.3Z" fill="#ffded2"/>
<path d="M152.2,225.8 150.3,225.5 149.6,224.2 147.4,224.5 144.7,226.1 142.0,227.7 139.1,228.8 135.9,229.1 135.7,232.1 136.7,235.1 139.0,237.3 140.4,240.0 142.1,242.6 145.0,242.2 147.3,240.4 149.0,239.8 147.0,238.6 144.5,230.5 151.5,227.0 152.8,227.0Z" fill="#ffe9e1"/>
<path d="M146.6,336.8 147.6,338.2 151.3,337.2 147.3,334.3 146.8,331.9 145.1,333.0 144.5,334.4 144.5,334.4ZM165.6,335.9 163.5,334.0 161.9,331.6 160.3,329.1 158.9,328.2 161.2,334.3 160.0,338.0 157.7,338.0 153.0,336.8 160.1,338.6 164.6,337.9Z" fill="#ffd6c8"/>
<path d="M94.8,314.9 97.1,312.4 96.6,309.9 97.0,307.2 96.3,304.7 95.6,302.7 93.6,301.7 90.7,303.4 91.8,310.0 93.6,315.3Z" fill="#ffb8a1"/>
<path d="M69.3,171.8 71.3,169.1 73.4,167.0 73.2,167.0 66.6,171.7Z" fill="#ffcbb9"/>
<path d="M274.4,221.6 274.7,222.1 278.4,225.8 276.9,224.3 275.4,220.7 274.8,218.9Z" fill="#ffb198"/>
<path d="M135.3,384.7 132.6,382.9 129.2,383.1 128.7,382.8 129.7,388.5 132.0,395.4 133.7,394.9 134.3,390.5 133.7,385.5 135.3,385.0Z" fill="#ffd2c3"/>
<path d="M161.4,358.0 159.0,359.9 156.8,362.2 156.8,362.2 158.7,361.5 163.0,358.5 164.1,356.5 163.5,355.7Z" fill="#ffb097"/>
<path d="M110.6,352.7 109.6,349.6 108.3,348.4 107.0,347.2 105.5,347.6 106.9,349.4 108.9,354.4Z" fill="#ffd1c1"/>
<path d="M83.3,273.0 82.8,271.5 82.1,273.4 82.8,279.5 83.3,279.2 83.8,277.3 85.1,275.6Z" fill="#ffcfbe"/>
<path d="M49.0,223.3 51.7,222.2 54.2,220.9 54.6,219.2 49.9,221.6 48.6,223.7Z" fill="#ffb59e"/>
<path d="M150.5,390.5 149.6,391.7 155.0,393.5 156.1,393.9 157.0,394.5 151.0,390.3ZM158.8,390.9 158.0,392.5 159.3,391.2Z" fill="#ffd6c8"/>
<path d="M63.7,196.5 62.2,199.6 61.9,199.8 63.2,200.0 66.6,203.3 70.2,201.4 70.1,200.4 67.5,198.0 64.4,196.4ZM68.5,215.4 69.9,213.3 72.3,212.6 72.4,209.4 72.3,209.4 69.1,213.3 68.0,215.4Z" fill="#ffb49c"/>
<path d="M130.4,116.3 128.5,114.7 125.9,114.5 123.7,113.7 122.3,113.9 123.6,115.6 130.5,116.5Z" fill="#c4b5dc"/>
<path d="M170.5,210.5 170.9,207.3 171.7,204.1 172.7,201.0 170.4,199.6 169.5,197.0 166.8,197.1 164.6,198.8 162.0,198.9 161.0,200.3 162.2,203.3 162.3,206.5 162.9,209.6 165.3,210.1 167.9,209.0 169.3,210.4Z" fill="#e3dbee"/>
<path d="M85.1,239.1 82.1,237.7 79.7,235.5 77.5,233.3 75.5,230.7 72.6,230.8 73.2,233.0 73.5,234.3 75.8,234.3 80.8,240.6 81.3,242.3 82.0,241.9 84.6,240.2Z" fill="#ffaa8f"/>
<path d="M33.3,226.3 33.8,225.7 32.4,225.7 30.6,226.7 32.9,228.5Z" fill="#ffe6dd"/>
<path d="M128.3,379.1 128.2,375.9 129.2,373.0 130.0,370.1 131.6,367.5 128.8,367.7 126.0,367.5 123.3,368.6 123.0,368.6 127.1,370.9 128.2,379.2Z" fill="#ffbaa3"/>
<path d="M166.4,348.7 162.9,348.9 163.4,352.3 163.5,355.7 164.1,356.5 166.0,353.0 166.6,348.6Z" fill="#ffc8b5"/>
<path d="M178.4,200.9 175.5,200.5 172.7,201.0 171.7,204.1 170.9,207.3 170.5,210.5 171.1,211.2 174.4,212.0 177.8,212.5 179.7,210.2 181.5,207.8 183.7,205.7 182.4,203.5 181.3,201.2Z" fill="#ffe9e1"/>
<path d="M141.7,397.0 137.8,397.6 142.0,397.2ZM132.0,395.4 133.1,398.6 133.7,394.9Z" fill="#ffa185"/>
<path d="M158.6,325.8 158.8,324.0 157.9,321.0 157.1,317.8 155.4,315.1 152.1,314.9 152.4,317.9 146.1,320.4 142.7,319.6 143.2,322.9 144.6,326.1 144.5,329.6 145.1,333.0 146.8,331.9 144.8,321.7 152.4,320.4 157.4,324.2 158.3,326.5Z" fill="#ffd2c2"/>
<path d="M82.8,279.5 83.3,284.0 86.1,292.1 87.2,291.7 88.1,288.8 87.5,285.7 86.5,283.3 84.6,281.4 83.3,279.2Z" fill="#ffc7b4"/>
<path d="M126.1,134.2 128.7,135.2 130.4,135.6 126.7,132.7 124.4,133.4ZM131.4,135.8 134.1,135.2 135.0,133.6 130.9,135.7Z" fill="#ffeae3"/>
<path d="M218.8,182.4 217.5,180.8 215.2,180.2 213.0,181.0 210.4,182.2 208.5,184.3 206.7,186.5 206.7,189.8 209.4,190.4 211.6,192.3 214.1,193.5 216.9,193.9 217.9,191.5 220.1,190.0 220.8,187.8 221.5,185.5 220.9,183.1Z" fill="#ff987a"/>
<path d="M165.0,117.5 165.5,120.7 167.9,122.7 169.7,125.3 170.7,125.6 173.3,124.5 172.8,124.2 171.6,120.4 171.8,121.1 170.1,120.6 165.5,116.0Z" fill="#ffb29a"/>
<path d="M87.7,255.2 86.6,252.3 86.2,249.2 85.7,246.2 85.6,243.1 84.6,240.2 82.0,241.9 81.3,242.3 83.3,248.2 84.6,255.8 85.0,258.0 86.2,257.6Z" fill="#ffdcd0"/>
<path d="M55.3,191.5 55.0,189.0 54.9,188.8 54.9,191.6 54.7,191.9Z" fill="#ffa388"/>
<path d="M100.6,141.9 99.4,139.8 94.4,140.5 94.5,140.6 96.8,141.5 99.3,142.3Z" fill="#ffa78c"/>
<path d="M93.6,301.7 93.6,300.3 92.7,297.6 91.6,295.1 89.6,293.1 87.2,291.7 86.1,292.1 87.5,296.0 90.5,302.0 90.7,303.4Z" fill="#ffd5c6"/>
<path d="M106.9,73.7 109.5,73.0 112.0,72.1 113.0,71.9 110.5,71.1 106.4,72.8Z" fill="#ffb29a"/>
<path d="M202.1,207.0 204.6,208.7 206.3,210.9 207.9,213.2 209.2,215.8 212.3,216.3 215.4,215.5 215.4,212.2 215.7,208.9 216.6,205.6 215.8,202.3 213.1,201.4 210.3,202.5 207.6,201.9 206.2,204.0 203.8,204.6 202.0,206.2Z" fill="#ffd8ca"/>
<path d="M174.0,165.1 173.3,161.7 170.2,161.6 168.6,162.1 173.0,164.8 174.1,165.3ZM170.4,173.5 171.5,173.2 170.0,172.4 168.2,173.8Z" fill="#ffd8cb"/>
<path d="M298.4,156.2 297.6,157.0 299.5,157.0 299.5,155.7Z" fill="#ffb198"/>
<path d="M59.8,181.6 62.8,181.4 63.3,178.2 63.0,175.5 60.6,179.5 55.6,182.2 53.1,182.7 53.5,183.0 54.9,183.3 57.6,183.0Z" fill="#ffa286"/>
<path d="M103.1,75.2 106.3,74.4 106.9,73.7 106.4,72.8 103.4,74.1 101.3,75.4Z" fill="#ffaf96"/>
<path d="M123.7,113.7 122.9,111.2 122.2,108.7 122.7,106.0 120.2,105.4 118.1,104.0 117.4,104.3 116.6,108.5 115.8,108.3 116.6,109.5 120.6,111.5 122.3,113.9Z" fill="#beadd9"/>
<path d="M79.4,147.7 78.2,148.9 79.9,149.1Z" fill="#ffc9b7"/>
<path d="M62.2,199.6 63.7,196.5 61.0,194.7 58.2,192.9 55.3,191.5 54.7,191.9 51.6,196.6 58.2,199.1 61.9,199.8Z" fill="#ffa185"/>
<path d="M166.2,235.4 167.2,232.2 167.6,228.9 166.9,225.9 166.1,222.9 165.7,222.6 164.1,224.2 160.4,221.7 157.8,226.7 152.2,225.8 152.8,227.0 161.6,226.7 164.1,234.3 163.9,234.9Z" fill="#ffc2ad"/>
<path d="M117.3,364.7 116.2,364.6 118.1,365.8Z" fill="#ffd9cb"/>
<path d="M212.3,216.3 209.2,215.8 207.5,218.8 204.7,220.9 202.9,223.7 202.9,224.6 205.6,226.7 206.9,230.0 209.2,232.4 212.3,231.3 215.1,229.5 218.1,228.3 218.4,224.9 220.0,221.8 219.5,219.5 218.7,217.3 217.3,216.0 215.4,215.5Z" fill="#f4f1f9"/>
<path d="M218.0,142.4 218.8,145.3 220.9,147.3 222.7,148.3 224.8,147.9 226.7,145.2 228.2,142.6 227.1,141.9 217.3,141.9Z" fill="#ffe4da"/>
<path d="M107.0,347.2 107.5,343.9 106.8,340.7 103.7,339.6 100.7,338.9 101.9,343.1 105.5,347.6Z" fill="#ffb9a2"/>
<path d="M162.9,348.9 166.4,348.7 166.6,348.6 167.0,345.5 169.8,341.3 166.3,345.7 162.4,347.3ZM169.1,335.5 165.6,335.9 164.6,337.9 168.1,337.4 168.8,339.1 169.7,335.2ZM169.0,339.5 169.8,341.3 170.2,340.5Z" fill="#ffbda7"/>
<path d="M226.6,171.7 227.6,174.2 229.7,175.9 232.8,175.1 235.8,174.0 236.8,171.4 237.4,168.8 237.4,166.1 237.4,163.4 236.9,163.0 233.8,163.4 231.1,164.8 228.1,165.6 227.4,168.0 225.3,169.5Z" fill="#ffffff"/>
<path d="M161.6,374.9 164.4,376.2 168.1,374.3 171.0,365.0 168.2,374.0 161.0,372.8 158.0,373.2 157.9,373.3 157.9,373.4 159.0,373.3 159.8,374.4Z" fill="#ffaa90"/>
<path d="M181.8,128.4 181.8,131.7 182.7,134.9 184.7,136.5 187.8,135.3 191.2,135.0 193.9,134.1 185.5,129.2 181.8,128.0Z" fill="#dbd0e9"/>
</g>
<g fill="#6b6b6b" stroke="#484848" stroke-width="0.5">
<path d="M123.6,132.9 121.3,131.2 119.1,132.8 117.7,135.2 115.3,136.7 116.6,139.3 116.9,140.2 118.6,139.8 119.6,134.7 124.4,133.4Z"/>
<path d="M135.5,132.9 135.0,133.6 136.8,132.7 136.8,132.5Z"/>
<path d="M150.6,154.0 151.7,153.0 149.6,153.5Z"/>
<path d="M161.3,158.9 160.6,162.0 160.6,162.0 163.8,162.6 167.0,162.5 168.6,162.1 167.0,161.1 161.8,158.0Z"/>
<path d="M150.6,154.0 152.0,156.9 153.7,159.6 155.7,161.1 158.5,160.5 160.6,162.0 161.3,158.9 161.8,158.0 161.7,158.0 156.4,156.5 152.6,152.7 151.7,153.0Z"/>
<path d="M175.0,168.3 176.4,171.4 178.5,172.0 179.9,173.6 182.0,174.4 184.2,173.6 185.9,172.2 186.1,171.4 179.8,167.9 174.1,165.3Z"/>
<path d="M187.4,175.6 189.0,176.1 190.5,175.5 186.7,171.7 186.1,171.4 185.9,172.2 184.2,173.6 184.8,174.3Z"/>
<path d="M184.8,174.3 184.2,173.6 182.0,174.4 179.9,173.6 178.2,176.0 178.0,177.1 180.6,176.2 185.2,176.8Z"/>
<path d="M187.4,175.6 184.8,174.3 185.2,176.8 186.7,177.0 189.0,176.1Z"/>
<path d="M167.2,173.9 164.2,173.6 161.4,172.4 161.1,172.8 162.4,175.5 167.0,174.7 167.1,174.6Z"/>
<path d="M153.7,159.6 152.0,156.9 150.6,154.0 149.6,153.5 147.3,154.2 150.3,160.3 152.2,161.3Z"/>
<path d="M99.1,92.8 102.0,93.6 102.2,93.5 103.0,90.9 97.4,90.3 96.4,91.3ZM99.8,75.6 98.0,76.5 97.9,77.0 98.4,77.2 101.3,75.4Z"/>
<path d="M102.2,93.5 104.9,92.3 107.0,91.2 103.0,90.9Z"/>
<path d="M121.1,85.2 120.5,82.1 120.6,78.8 119.5,75.8 118.7,72.7 117.4,71.9 114.6,71.7 113.0,71.9 113.5,72.1 115.6,78.2 117.6,84.2 120.1,85.8Z"/>
<path d="M104.9,92.3 102.2,93.5 102.0,93.6 102.6,96.1 104.5,97.8 107.5,98.1 108.3,97.7 108.1,97.4 107.5,91.3 107.0,91.2Z"/>
<path d="M107.5,98.1 104.5,97.8 104.6,101.2 105.4,104.7 105.3,108.2 108.1,107.7 110.5,109.0 112.5,106.9 109.5,102.4 108.7,98.2 108.3,97.7Z"/>
<path d="M129.1,88.0 126.5,86.9 123.7,86.3 121.1,85.2 120.1,85.8 122.6,87.3 126.7,90.3 127.5,92.0 127.6,90.9 129.6,88.9Z"/>
<path d="M135.3,99.0 135.3,95.5 134.6,92.1 132.6,89.8 129.6,88.9 127.6,90.9 127.5,92.0 129.7,96.4 135.2,99.1Z"/>
<path d="M146.0,100.6 148.0,98.7 146.6,96.2 147.0,93.2 145.7,90.7 142.9,90.4 140.2,91.4 137.4,91.5 134.6,92.1 135.3,95.5 135.3,99.0 135.7,99.3 135.8,99.4 139.8,95.4 141.8,93.3 144.8,97.4 145.9,100.7Z"/>
<path d="M131.5,118.4 132.5,118.3 131.7,116.6 130.5,116.5Z"/>
<path d="M154.9,109.8 155.4,106.4 155.4,106.4 152.2,107.2 150.1,108.7 152.9,111.5 154.3,111.7Z"/>
<path d="M165.8,114.5 166.5,111.4 163.4,110.7 160.8,109.2 158.1,107.8 155.4,106.4 154.9,109.8 154.3,111.7 159.0,112.5 165.1,115.6 165.5,116.0Z"/>
<path d="M131.4,121.4 133.8,122.8 134.9,125.3 136.2,125.4 133.7,120.6 132.5,118.3 131.5,118.4 131.5,118.5 131.7,118.6 131.5,120.1Z"/>
<path d="M134.9,125.3 134.6,127.9 134.8,130.4 135.5,132.9 136.8,132.5 136.8,126.7 136.2,125.4Z"/>
<path d="M90.4,139.9 87.2,140.6 84.1,140.1 81.0,139.2 80.4,141.9 78.6,144.1 79.2,147.2 79.4,147.7 82.2,144.8 89.8,141.8ZM80.3,150.0 81.6,150.2 80.8,149.2 79.9,149.1Z"/>
<path d="M105.0,144.9 103.4,141.9 101.3,141.6 100.6,141.9 103.4,146.9 105.3,146.1Z"/>
<path d="M116.6,139.3 115.3,136.7 112.1,135.6 108.6,135.4 106.3,137.1 104.7,139.4 103.4,141.9 105.0,144.9 105.3,146.1 108.5,144.8 114.5,140.8 116.9,140.2Z"/>
<path d="M92.8,138.6 90.4,139.9 89.8,141.8 92.3,140.8 94.4,140.5Z"/>
<path d="M167.2,173.9 167.1,174.6 168.2,173.8ZM178.2,176.0 179.9,173.6 178.5,172.0 176.4,171.4 173.5,172.7 171.5,173.2 173.0,173.9 176.1,177.7 178.0,177.1Z"/>
<path d="M73.6,166.8 73.4,167.0 77.8,165.8 76.3,164.9Z"/>
<path d="M66.3,171.7 63.4,171.9 62.9,175.0 63.0,175.5 64.4,173.2 66.6,171.7Z"/>
<path d="M54.6,184.1 54.3,186.6 54.9,188.8 54.9,184.0Z"/>
<path d="M47.1,225.5 44.3,224.9 42.1,223.2 39.5,222.3 37.3,220.5 35.7,223.6 33.8,225.7 47.0,225.7Z"/>
<path d="M47.1,225.5 47.0,225.7 47.4,225.7 48.6,223.7Z"/>
<path d="M57.8,215.8 55.5,217.5 54.7,219.1 54.6,219.2 54.9,219.1 58.5,215.5Z"/>
<path d="M84.3,258.2 82.5,261.0 81.3,264.0 80.7,267.3 82.2,270.0 82.8,271.5 85.9,263.3 85.0,258.0Z"/>
<path d="M152.3,241.3 150.0,239.5 149.0,239.8 153.3,242.5 153.8,242.4Z"/>
<path d="M91.6,316.0 90.1,316.9 90.5,317.9 94.3,330.5 94.5,331.1 96.5,329.3 97.6,328.7 94.5,318.0 93.6,315.3Z"/>
<path d="M97.4,337.5 100.4,338.9 100.7,338.9 98.0,330.0 97.6,328.7 96.5,329.3 94.5,331.1 97.0,337.3Z"/>
<path d="M154.3,364.0 156.8,362.2 153.5,363.3Z"/>
<path d="M153.9,370.7 154.5,367.3 154.3,364.0 153.5,363.3 153.0,363.5 152.5,369.5 153.9,370.7Z"/>
<path d="M108.2,355.0 107.3,358.2 106.0,361.1 105.3,361.7 107.8,365.6 108.3,365.7 111.4,366.1 114.2,364.6 116.2,364.6 112.0,362.1 109.4,355.8 108.9,354.4Z"/>
<path d="M118.7,366.6 120.5,368.1 123.0,368.6 118.3,365.9 118.1,365.8Z"/>
<path d="M126.4,381.6 128.7,382.8 128.4,381.0 128.2,379.2Z"/>
<path d="M156.2,371.5 153.9,370.7 153.9,370.7 157.0,373.3 157.8,373.2Z"/>
<path d="M142.3,397.5 144.8,398.1 147.0,395.7 148.6,393.0 149.6,391.7 148.9,391.5 144.8,397.0 142.0,397.2Z"/>
<path d="M157.9,327.4 158.9,328.2 158.3,326.5Z"/>
<path d="M272.5,210.4 273.9,210.7 274.5,208.2 275.8,206.2 277.6,204.4 277.1,203.6 273.3,205.6 272.4,210.3Z"/>
<path d="M277.6,204.4 280.4,204.0 277.4,203.5 277.1,203.6ZM284.5,204.3 287.9,203.9 286.1,203.2 283.9,204.3Z"/>
<path d="M274.9,218.2 275.7,216.5 275.6,213.3 273.9,210.7 272.5,210.4 272.3,210.5 272.3,210.6 274.7,218.3Z"/>
<path d="M152.2,107.2 155.4,106.4 155.2,104.8 153.3,102.3 150.5,100.7 148.0,98.7 146.0,100.6 145.9,100.7 147.9,106.5 150.1,108.7Z"/>
<path d="M301.6,152.3 299.5,153.0 299.5,153.5 301.6,152.6ZM293.6,161.2 296.0,158.7 297.6,157.0 288.8,157.0 288.3,158.5 288.9,161.4 292.0,162.0 292.1,162.0Z"/>
<path d="M284.0,145.3 280.7,145.6 277.5,145.3 276.9,145.2 277.6,148.2 283.3,148.8 283.8,148.2Z"/>
<path d="M286.0,144.4 284.0,145.3 283.8,148.2 287.4,144.4 287.4,143.8ZM288.3,158.5 288.8,157.0 287.4,157.0 287.4,161.0 288.3,161.3 288.9,161.4Z"/>
<path d="M91.7,104.9 91.4,101.5 89.4,98.6 89.3,97.5 86.7,99.7 83.3,105.0 84.0,103.9 87.3,104.8 92.2,106.2Z"/>
<path d="M92.2,123.5 92.3,126.6 93.7,128.7 96.9,129.5 100.2,130.0 103.4,130.9 106.6,131.7 107.7,129.1 108.2,126.4 108.3,123.5 106.4,120.8 106.1,120.5 103.4,121.6 97.4,120.6 92.3,122.6ZM99.4,113.7 98.9,114.0 100.0,114.3Z"/>
<path d="M318.2,173.1 318.1,169.9 316.7,167.2 315.2,164.7 312.6,164.9 310.1,164.8 308.2,163.9 307.4,164.1 305.4,166.2 304.9,169.8 302.8,171.6 305.6,173.8 318.2,175.0 319.9,175.1Z"/>
<path d="M172.5,32.5 169.4,30.9 166.8,28.9 164.2,30.3 161.2,30.2 161.3,32.8 159.7,34.9 161.9,37.4 163.0,40.7 163.9,41.4 166.0,39.7 169.5,37.0 173.0,33.6 173.1,33.4Z"/>
<path d="M44.0,149.2 47.1,149.1 50.2,149.6 53.3,149.1 53.0,145.9 53.0,142.7 52.5,139.5 49.6,137.9 47.4,135.3 45.1,133.7 43.0,134.0 37.9,140.4 35.7,142.6 37.0,143.8 38.9,146.7 40.9,149.6Z"/>
<path d="M112.6,43.9 109.3,42.6 107.0,39.9 105.3,40.5 103.5,40.9 102.6,43.8 102.3,46.8 101.7,49.7 104.6,50.5 107.2,52.0 109.9,53.2 111.1,50.5 114.3,49.3 115.5,46.5 115.4,45.9Z"/>
<path d="M137.5,38.0 135.1,36.4 133.6,34.1 132.1,31.8 130.5,29.5 127.1,30.3 123.7,29.4 121.8,31.5 119.9,33.7 119.7,36.2 121.1,38.4 123.8,39.8 126.6,41.1 129.5,42.5 132.1,41.8 134.9,41.6 137.1,39.9Z"/>
<path d="M123.7,86.3 126.5,86.9 129.1,88.0 130.7,85.3 132.3,82.7 133.7,79.9 135.6,77.3 136.3,74.2 135.9,72.4 132.9,71.2 130.2,69.3 127.5,70.9 124.6,71.5 121.6,71.8 118.7,72.7 119.5,75.8 120.6,78.8 120.5,82.1 121.1,85.2Z"/>
<path d="M80.3,150.0 78.1,151.7 76.6,154.2 74.5,156.1 72.1,157.5 72.9,160.3 75.4,162.1 76.3,164.9 77.8,165.8 83.3,164.4 87.1,156.8 81.6,150.2Z"/>
<path d="M70.3,154.9 68.5,152.3 66.7,149.9 64.7,147.4 61.4,148.3 58.3,149.9 55.0,150.7 55.4,153.6 55.5,156.5 55.3,159.4 57.7,160.9 59.8,162.9 62.7,161.1 65.7,159.7 69.0,158.8 72.0,157.5Z"/>
<path d="M277.6,204.4 275.8,206.2 274.5,208.2 273.9,210.7 275.6,213.3 275.7,216.5 279.0,216.1 282.1,217.7 285.3,218.2 288.7,217.7 289.5,217.6 289.5,204.5 287.9,203.9 284.5,204.3 283.9,204.3 283.4,204.5 280.4,204.0Z"/>
<path d="M363.2,136.8 364.2,134.0 361.3,132.6 358.6,133.7 355.8,134.4 352.9,134.3 352.0,135.5 353.3,138.4 353.1,141.5 353.2,144.6 353.6,147.4 357.1,141.4 363.7,139.0ZM363.4,145.2 363.8,143.0 363.1,143.4 361.3,145.8Z"/>
<path d="M349.1,169.7 350.8,171.8 353.0,173.3 354.9,170.9 357.2,169.1 359.8,167.7 358.5,165.3 358.7,162.5 359.0,159.8 357.8,157.4 355.1,164.6 353.0,163.6 352.6,160.9 352.0,164.6 349.0,168.7 347.9,168.4Z"/>
<path d="M136.5,55.2 133.3,54.9 130.6,56.7 127.5,57.0 128.9,59.9 129.7,62.9 128.8,66.3 130.2,69.3 132.9,71.2 135.9,72.4 138.3,71.0 139.7,68.6 141.6,66.7 140.9,63.5 140.3,60.3 139.9,57.1 139.3,53.9Z"/>
<path d="M163.2,234.8 160.1,234.6 157.2,233.1 154.1,233.3 153.2,235.7 151.0,237.2 150.0,239.5 152.3,241.3 153.8,242.4 161.6,240.6 163.9,234.9Z"/>
<path d="M139.2,41.8 140.7,44.1 141.6,46.8 144.1,45.8 146.9,45.5 149.4,44.2 152.0,43.4 153.0,40.3 153.4,37.2 151.3,34.5 148.7,32.6 145.6,31.3 144.6,31.4 142.6,34.0 140.3,36.3 137.5,38.0 137.1,39.9Z"/>
<path d="M277.5,145.3 280.7,145.6 284.0,145.3 286.0,144.4 287.4,143.8 287.4,136.4 283.3,133.3 276.3,136.4 276.3,143.0 276.9,145.2Z"/>
<path d="M395.3,129.3 392.2,131.0 388.8,132.1 389.3,135.4 388.3,138.6 390.5,141.3 391.8,143.8 392.4,143.4 396.5,146.9 395.5,143.4 398.5,139.4 400.5,132.3 396.2,128.9Z"/>
<path d="M121.6,71.8 124.6,71.5 127.5,70.9 130.2,69.3 128.8,66.3 129.7,62.9 128.9,59.9 127.5,57.0 125.5,55.6 123.3,57.1 120.7,57.8 118.5,59.4 116.2,60.8 115.8,63.6 117.0,66.3 117.1,69.2 117.4,71.9 118.7,72.7Z"/>
<path d="M161.4,172.4 161.0,168.9 160.9,165.5 160.6,162.0 160.6,162.0 158.5,160.5 155.7,161.1 153.7,159.6 152.2,161.3 154.8,162.6 155.6,167.9 151.8,170.2 152.6,173.9 156.4,172.4 160.2,170.9 161.1,172.8Z"/>
<path d="M43.5,192.0 41.2,190.2 40.1,187.6 39.6,186.6 37.1,187.2 36.9,187.5 34.2,189.4 32.4,192.1 30.2,194.5 28.3,197.0 29.5,199.8 31.7,201.7 34.6,202.4 37.5,201.9 40.0,199.7 42.7,197.7 44.4,194.7Z"/>
<path d="M99.4,113.7 100.9,111.4 102.8,109.4 105.3,108.2 105.4,104.7 104.6,101.2 104.5,97.8 102.6,96.1 102.0,93.6 99.1,92.8 96.4,91.3 94.3,93.4 89.3,97.5 89.4,98.6 91.4,101.5 91.7,104.9 92.2,106.2 93.3,106.5 97.4,113.5 98.9,114.0Z"/>
<path d="M79.7,123.3 81.6,125.8 83.0,128.6 86.1,127.9 89.2,127.2 92.3,126.6 92.2,123.5 92.3,122.6 92.3,122.6 86.3,119.6 80.2,120.6 77.8,121.6Z"/>
<path d="M150.0,239.5 151.0,237.2 153.2,235.7 154.1,233.3 153.3,230.4 153.0,227.4 152.8,227.0 151.5,227.0 144.5,230.5 147.0,238.6 149.0,239.8Z"/>
<path d="M315.2,164.7 316.7,167.2 318.1,169.9 318.2,173.1 319.9,175.1 320.4,175.1 322.1,173.2 324.7,172.0 327.1,170.5 329.4,168.8 331.7,167.2 331.7,166.5 330.8,162.6 329.8,159.6 330.8,159.2 330.2,158.8 326.8,159.6 323.0,163.0 318.0,166.0 316.7,164.6 315.3,164.4Z"/>
<path d="M98.8,7.7 98.9,11.2 99.0,14.7 100.7,15.5 102.0,16.8 104.6,14.7 107.4,13.1 110.1,11.8 107.7,7.0 103.0,5.5 98.3,5.1Z"/>
<path d="M157.9,327.4 154.9,329.3 151.2,329.7 148.1,331.2 146.8,331.9 147.3,334.3 151.3,337.2 153.0,336.8 157.7,338.0 160.0,338.0 161.2,334.3 158.9,328.2Z"/>
<path d="M80.4,141.9 81.0,139.2 80.6,136.8 79.7,134.5 76.7,134.0 73.6,133.7 70.8,132.4 69.7,134.7 67.0,135.4 65.6,137.4 66.4,140.2 66.9,143.0 69.9,142.7 72.8,143.9 75.8,143.0 78.6,144.1Z"/>
<path d="M345.1,135.9 348.5,135.6 352.0,135.5 352.9,134.3 351.5,131.2 350.4,127.9 348.4,125.7 339.7,131.8 341.4,133.8 341.8,137.3Z"/>
<path d="M338.8,141.6 340.6,139.6 341.8,137.3 341.4,133.8 339.7,131.8 338.9,132.3 330.8,136.4 326.8,137.1 328.5,139.4 331.5,140.8 334.5,142.2 337.4,143.8Z"/>
<path d="M57.7,160.9 55.3,159.4 53.1,161.2 50.0,161.2 48.0,163.3 46.8,165.9 45.8,168.5 46.2,171.0 48.3,176.6 49.6,176.1 52.7,175.1 55.6,173.4 58.4,171.5 61.5,170.4 61.8,167.7 60.9,165.3 59.8,162.9Z"/>
<path d="M91.6,316.0 93.6,315.3 91.8,310.0 90.7,303.4 90.5,303.5 87.0,304.0 85.4,305.1 85.5,305.3 90.1,316.9Z"/>
<path d="M75.4,162.1 72.9,160.3 72.1,157.5 72.0,157.5 69.0,158.8 65.7,159.7 62.7,161.1 59.8,162.9 60.9,165.3 61.8,167.7 61.5,170.4 63.4,171.9 66.3,171.7 66.6,171.7 73.2,167.0 73.4,167.0 73.6,166.8 76.3,164.9Z"/>
<path d="M344.9,169.1 342.8,170.7 339.7,170.4 337.6,172.1 338.2,174.4 338.7,176.8 338.7,176.8 340.9,176.4 343.9,177.8 342.7,181.9 343.6,182.5 346.0,181.4 348.5,180.3 350.6,178.6 353.2,177.9 353.5,175.6 353.0,173.3 350.8,171.8 349.1,169.7 347.9,168.4 346.6,168.1Z"/>
<path d="M143.7,28.5 142.3,25.9 141.5,24.8 141.0,25.0 137.7,26.5 133.5,25.5 133.0,25.2 132.0,26.7 130.5,29.5 132.1,31.8 133.6,34.1 135.1,36.4 137.5,38.0 140.3,36.3 142.6,34.0 144.6,31.4Z"/>
<path d="M288.7,217.7 285.3,218.2 282.1,217.7 279.0,216.1 275.7,216.5 274.9,218.2 274.8,218.9 275.4,220.7 276.9,224.3 278.4,225.8 289.5,224.7 289.5,217.6Z"/>
<path d="M108.8,37.2 110.2,34.4 111.4,31.5 111.0,28.9 109.1,27.1 106.5,26.0 103.9,25.1 101.5,26.5 99.1,28.0 96.6,29.5 94.5,31.4 95.6,33.6 95.9,36.0 98.7,37.2 101.0,39.3 103.5,40.9 105.3,40.5 107.0,39.9Z"/>
<path d="M126.4,381.6 125.1,382.1 122.9,384.2 122.1,387.3 123.1,390.1 125.6,392.1 126.0,395.2 127.7,397.6 129.4,397.8 131.8,395.5 132.0,395.4 129.7,388.5 128.7,382.8Z"/>
<path d="M150.5,100.7 153.3,102.3 155.2,104.8 157.5,103.0 158.8,100.4 160.5,98.2 159.0,95.4 158.2,92.3 157.6,89.2 154.6,88.9 151.7,89.9 148.8,89.7 145.9,90.4 145.7,90.7 147.0,93.2 146.6,96.2 148.0,98.7Z"/>
<path d="M379.9,149.8 377.5,147.4 376.3,147.0 373.7,147.0 371.7,148.7 370.1,151.4 368.6,154.3 368.0,157.4 370.3,159.6 370.5,160.5 371.2,158.6 379.3,152.5 380.5,151.7Z"/>
<path d="M158.1,107.8 160.8,109.2 163.4,110.7 166.5,111.4 169.1,109.6 172.2,108.5 172.2,105.5 171.7,102.6 170.0,99.9 169.5,97.0 166.5,97.8 163.6,98.2 160.5,98.2 158.8,100.4 157.5,103.0 155.2,104.8 155.4,106.4 155.4,106.4Z"/>
<path d="M154.3,364.0 154.5,367.3 153.9,370.7 156.2,371.5 157.8,373.2 158.0,373.2 160.2,370.8 163.5,369.5 166.6,368.0 168.7,365.1 171.2,364.1 171.4,363.3 169.8,361.8 168.0,359.4 165.1,358.2 164.1,356.5 163.0,358.5 158.7,361.5 156.8,362.2Z"/>
<path d="M102.7,22.4 102.5,19.6 102.0,16.8 100.7,15.5 99.0,14.7 96.6,16.4 93.6,16.6 91.4,18.7 88.4,19.1 88.2,21.8 86.6,24.1 86.0,25.7 88.3,26.5 91.1,29.3 91.8,29.4 94.5,31.4 96.6,29.5 99.1,28.0 101.5,26.5 103.9,25.1Z"/>
<path d="M148.7,32.6 151.3,34.5 153.4,37.2 156.6,36.1 159.7,34.9 161.3,32.8 161.2,30.2 159.7,27.3 156.7,25.6 155.2,22.7 152.7,24.7 150.1,26.7 147.7,28.9 145.6,31.3Z"/>
<path d="M77.5,268.7 80.7,267.3 81.3,264.0 82.5,261.0 84.3,258.2 81.1,256.9 78.2,254.9 75.0,253.6 73.2,253.3 73.2,263.3 74.2,268.3Z"/>
<path d="M55.0,150.7 58.3,149.9 61.4,148.3 64.7,147.4 65.9,145.3 66.9,143.0 66.4,140.2 65.6,137.4 63.2,136.7 61.1,135.3 58.3,136.9 55.3,138.0 52.5,139.5 53.0,142.7 53.0,145.9 53.3,149.1Z"/>
<path d="M124.8,399.5 127.7,397.6 126.0,395.2 125.6,392.1 123.1,390.1 122.1,387.3 118.6,387.3 117.4,387.9 117.6,388.5 121.6,398.6 122.7,400.7Z"/>
<path d="M86.6,24.1 88.2,21.8 88.4,19.1 86.3,16.2 85.3,12.8 84.1,9.5 83.7,8.3 80.0,10.0 75.0,12.5 70.6,17.7 73.3,22.0 81.2,23.9 86.0,25.7Z"/>
<path d="M382.5,131.5 379.8,133.7 376.6,134.5 373.5,135.5 373.9,136.5 374.2,136.4 373.9,136.7 374.6,138.3 375.2,141.2 375.4,144.2 376.3,147.0 377.5,147.4 380.7,145.8 382.9,143.0 386.1,141.4 388.3,138.6 389.3,135.4 388.8,132.1 387.6,130.6 385.6,130.5Z"/>
<path d="M106.0,361.1 107.3,358.2 108.2,355.0 108.9,354.4 106.9,349.4 105.5,347.6 103.7,348.1 100.5,349.4 100.3,349.4 100.4,350.1 104.4,360.2 105.3,361.7Z"/>
<path d="M41.1,152.3 40.0,154.6 39.1,157.0 41.0,159.0 44.0,159.5 45.6,162.0 48.0,163.3 50.0,161.2 53.1,161.2 55.3,159.4 55.5,156.5 55.4,153.6 55.0,150.7 53.3,149.1 50.2,149.6 47.1,149.1 44.0,149.2 40.9,149.6Z"/>
<path d="M155.8,56.2 153.2,56.8 152.0,60.0 150.6,63.1 149.0,66.1 150.5,68.8 152.0,69.9 152.8,68.0 156.3,70.7 161.6,68.0 161.6,61.8 158.0,56.5 157.2,55.4Z"/>
<path d="M82.2,270.0 80.7,267.3 77.5,268.7 74.2,268.3 75.8,276.0 77.2,281.7 80.3,281.1 82.8,279.5 82.1,273.4 82.8,271.5Z"/>
<path d="M54.7,219.1 55.5,217.5 53.1,215.5 51.0,213.2 48.0,211.9 45.6,209.9 43.8,210.2 42.7,212.8 40.7,214.8 38.1,216.2 36.7,218.6 37.3,220.5 39.5,222.3 42.1,223.2 44.3,224.9 47.1,225.5 48.6,223.7 49.9,221.6 54.6,219.2Z"/>
<path d="M168.2,25.7 166.8,28.9 169.4,30.9 172.5,32.5 173.1,33.4 174.0,30.0 174.0,26.5 170.5,25.0 168.9,24.9Z"/>
<path d="M366.5,145.7 368.2,147.1 373.2,146.1 370.6,148.3 371.7,148.7 373.7,147.0 376.3,147.0 375.4,144.2 375.2,141.2 374.6,138.3 373.9,136.7 371.2,139.4 363.8,143.0 363.4,145.2ZM373.5,135.5 371.1,134.9 369.2,133.2 366.8,134.1 364.2,134.0 363.2,136.8 363.7,139.0 365.2,138.4 373.9,136.5Z"/>
<path d="M108.1,107.7 105.3,108.2 102.8,109.4 100.9,111.4 99.4,113.7 100.0,114.3 107.5,116.6 108.5,119.6 106.1,120.5 106.4,120.8 108.3,123.5 111.1,123.2 113.4,121.3 116.1,120.8 116.5,118.6 117.2,116.5 115.0,114.0 113.2,111.1 110.5,109.0Z"/>
<path d="M150.5,68.8 149.0,66.1 146.5,65.8 144.0,66.2 141.6,66.7 139.7,68.6 138.3,71.0 135.9,72.4 136.3,74.2 138.4,76.4 141.2,77.4 143.9,78.6 145.9,80.7 148.9,79.4 151.9,78.3 152.7,77.5 151.1,72.0 152.0,69.9Z"/>
<path d="M343.0,147.2 340.3,145.5 337.5,144.0 335.4,146.1 334.3,149.0 334.3,149.1 338.9,148.5 345.0,149.0ZM344.1,155.9 344.3,153.7 338.9,155.6 330.8,158.6 330.2,158.8 330.8,159.2 338.9,156.2 343.9,158.6 344.0,159.0 344.0,158.4 343.9,157.6 344.0,157.5Z"/>
<path d="M148.6,393.0 147.0,395.7 144.8,398.1 145.2,400.3 148.5,401.6 150.6,404.0 155.0,400.6 161.0,403.6 163.0,400.6 158.0,398.6 157.1,394.2 157.1,394.2 157.0,394.5 156.1,393.9 155.0,393.5 149.6,391.7Z"/>
<path d="M59.6,201.7 57.4,204.2 57.6,206.9 59.4,209.2 59.3,212.1 60.3,214.3 64.1,212.4 64.1,205.8 63.2,200.0 61.9,199.8Z"/>
<path d="M116.5,118.6 116.1,120.8 118.3,123.0 119.6,125.8 121.8,128.0 122.4,127.7 121.6,123.6 120.6,118.6 126.7,116.6 131.5,118.5 131.5,118.4 130.5,116.5 123.6,115.6 122.3,113.9 121.3,114.1 119.5,116.0 117.2,116.5Z"/>
<path d="M67.0,135.4 69.7,134.7 70.8,132.4 69.7,129.4 69.8,126.2 69.9,124.7 69.0,125.0 69.0,124.5 63.1,127.8 59.6,129.5 60.3,131.9 61.1,135.3 63.2,136.7 65.6,137.4Z"/>
<path d="M115.5,46.5 118.1,47.7 119.9,50.1 122.3,51.8 124.8,53.3 125.2,50.3 127.4,48.0 127.7,44.9 129.5,42.5 126.6,41.1 123.8,39.8 121.1,38.4 118.9,40.7 117.7,43.7 115.4,45.9Z"/>
<path d="M384.2,117.4 383.3,120.8 381.9,124.0 382.9,126.3 384.4,128.3 385.6,130.5 387.6,130.6 388.8,132.1 392.2,131.0 395.3,129.3 396.2,128.9 395.5,128.3 389.4,120.2 384.8,115.9Z"/>
<path d="M342.2,207.5 339.0,206.1 335.6,206.2 333.5,205.8 334.9,210.6 337.0,219.7 341.0,219.7 344.0,210.6 344.8,208.1Z"/>
<path d="M361.3,122.4 361.7,125.7 361.8,129.1 361.3,132.6 364.2,134.0 366.8,134.1 369.2,133.2 370.0,130.4 370.1,127.5 371.5,124.9 372.6,122.3 370.5,119.5 368.2,116.8 367.8,116.2 363.1,116.2 360.1,119.2Z"/>
<path d="M36.6,159.1 39.1,157.0 40.0,154.6 41.1,152.3 40.9,149.6 38.9,146.7 37.0,143.8 35.7,142.6 30.3,148.0 31.6,154.3 36.5,159.2Z"/>
<path d="M131.7,410.2 129.3,412.8 129.2,412.8 131.7,416.8 137.8,419.8 142.8,417.8 142.9,417.6 142.4,414.8 142.1,411.2 140.2,408.1 136.9,407.2 133.5,407.1Z"/>
<path d="M390.5,141.3 388.3,138.6 386.1,141.4 382.9,143.0 380.7,145.8 377.5,147.4 379.9,149.8 380.5,151.7 389.4,145.5 391.8,143.8Z"/>
<path d="M345.5,194.4 343.5,191.8 340.7,193.3 337.4,192.9 334.6,194.4 332.8,196.7 332.9,199.7 332.1,201.1 333.5,205.8 335.6,206.2 339.0,206.1 342.2,207.5 344.8,208.1 347.1,200.5 348.6,195.4Z"/>
<path d="M145.9,90.4 146.2,87.2 146.5,84.0 145.9,80.7 143.9,78.6 141.2,77.4 138.4,76.4 136.3,74.2 135.6,77.3 133.7,79.9 132.3,82.7 130.7,85.3 129.1,88.0 129.6,88.9 132.6,89.8 134.6,92.1 137.4,91.5 140.2,91.4 142.9,90.4 145.7,90.7Z"/>
<path d="M88.8,51.0 87.6,54.4 84.3,56.4 84.1,56.7 85.6,60.0 91.5,63.4 92.3,63.0 95.7,62.7 98.2,60.5 98.9,57.5 98.2,54.2 99.3,51.1 96.8,49.5 93.6,49.6 91.0,48.4Z"/>
<path d="M121.8,31.5 123.7,29.4 122.4,26.1 121.7,22.7 120.5,19.4 120.1,16.8 120.0,16.8 119.3,16.4 117.4,17.9 115.0,19.8 112.9,22.1 111.0,24.6 109.1,27.1 111.0,28.9 111.4,31.5 114.4,31.6 117.1,33.1 119.9,33.7Z"/>
<path d="M30.4,207.8 30.1,204.5 31.7,201.7 29.5,199.8 28.3,197.0 25.7,196.2 22.6,197.5 19.3,198.5 16.3,200.1 20.0,203.0 26.6,207.0 30.0,208.3Z"/>
<path d="M76.5,244.6 79.3,243.4 81.3,242.3 80.8,240.6 75.8,234.3 73.5,234.3 75.8,243.1 75.2,245.0Z"/>
<path d="M24.5,214.7 24.4,214.7 22.5,214.9 24.0,220.4 29.0,225.5 30.6,226.7 32.4,225.7 33.8,225.7 35.7,223.6 37.3,220.5 36.7,218.6 33.8,216.8 30.7,215.2 29.0,214.2 28.3,214.3 24.6,214.7Z"/>
<path d="M120.5,368.1 120.3,370.9 118.3,373.1 117.9,375.9 120.3,377.9 122.3,380.5 125.1,382.1 126.4,381.6 128.2,379.2 127.1,370.9 123.0,368.6Z"/>
<path d="M301.6,152.6 306.6,150.5 301.6,152.3ZM320.7,151.9 317.0,152.3 320.0,152.5 320.9,152.3ZM310.1,164.8 312.6,164.9 315.2,164.7 315.3,164.4 310.6,163.6 308.2,163.9ZM313.6,152.6 313.6,152.2 310.6,151.5Z"/>
<path d="M98.9,11.2 98.8,7.7 98.3,5.1 97.0,5.0 92.0,6.5 86.5,7.0 83.7,8.3 84.1,9.5 85.3,12.8 86.3,16.2 88.4,19.1 91.4,18.7 93.6,16.6 96.6,16.4 99.0,14.7Z"/>
<path d="M107.2,52.0 104.6,50.5 101.7,49.7 99.3,51.1 98.2,54.2 98.9,57.5 98.2,60.5 100.1,62.0 102.8,61.4 104.7,62.9 106.9,61.5 109.0,60.0 110.9,58.3 109.5,55.9 109.9,53.2Z"/>
<path d="M83.4,42.7 86.9,43.0 90.0,44.6 91.6,41.5 93.6,38.7 95.9,36.0 95.6,33.6 94.5,31.4 91.8,29.4 91.1,29.3 91.8,30.0 90.0,34.5 85.6,38.0 82.4,41.9Z"/>
<path d="M358.6,182.1 355.3,180.6 353.2,177.9 350.6,178.6 348.5,180.3 346.0,181.4 343.6,182.5 344.4,185.6 343.2,188.7 343.5,191.8 345.5,194.4 348.6,195.4 350.1,190.4 357.2,192.4 360.2,185.3Z"/>
<path d="M57.8,215.8 58.5,215.5 59.1,214.9 60.3,214.3 59.3,212.1 59.4,209.2 57.6,206.9 57.4,204.2 55.0,204.3 52.7,204.1 50.4,203.5 48.4,205.3 47.1,207.7 45.6,209.9 48.0,211.9 51.0,213.2 53.1,215.5 55.5,217.5Z"/>
<path d="M173.3,348.8 169.8,348.1 166.6,348.6 166.0,353.0 164.1,356.5 165.1,358.2 168.0,359.4 169.8,361.8 171.4,363.3 174.1,352.1 174.1,348.7Z"/>
<path d="M131.3,400.6 132.5,403.8 133.5,407.1 136.9,407.2 140.2,408.1 141.3,405.2 143.0,402.6 145.2,400.3 144.8,398.1 142.3,397.5 142.0,397.2 137.8,397.6 133.1,398.6 132.0,395.4 131.8,395.5 129.4,397.8Z"/>
<path d="M24.2,193.0 24.8,189.3 23.5,187.1 20.8,187.5 16.6,191.6 12.5,195.0 15.0,199.0 16.3,200.1 19.3,198.5 22.6,197.5 25.7,196.2Z"/>
<path d="M329.5,187.0 331.4,189.3 333.2,191.7 334.6,194.4 337.4,192.9 340.7,193.3 343.5,191.8 343.2,188.7 344.4,185.6 343.6,182.5 342.7,181.9 341.9,184.8 336.9,188.9 331.8,185.9 333.0,181.2 332.7,181.3 330.5,183.3 329.9,183.5 328.5,185.4Z"/>
<path d="M371.5,124.9 370.1,127.5 370.0,130.4 369.2,133.2 371.1,134.9 373.5,135.5 376.6,134.5 379.8,133.7 382.5,131.5 385.6,130.5 384.4,128.3 382.9,126.3 381.9,124.0 378.7,124.1 375.7,122.9 372.6,122.3Z"/>
<path d="M148.1,331.2 151.2,329.7 154.9,329.3 157.9,327.4 158.3,326.5 157.4,324.2 152.4,320.4 144.8,321.7 146.8,331.9Z"/>
<path d="M80.3,281.1 77.2,281.7 78.3,286.0 81.7,292.6 82.0,293.7 83.9,292.9 86.1,292.1 83.3,284.0 82.8,279.5Z"/>
<path d="M139.9,57.1 140.3,60.3 140.9,63.5 141.6,66.7 144.0,66.2 146.5,65.8 149.0,66.1 150.6,63.1 152.0,60.0 153.2,56.8 150.4,55.2 147.1,54.4 144.6,52.1 141.6,51.0 140.8,52.7 139.3,53.9Z"/>
<path d="M113.4,121.3 111.1,123.2 108.3,123.5 108.2,126.4 107.7,129.1 106.6,131.7 107.1,133.9 108.6,135.4 112.1,135.6 115.3,136.7 117.7,135.2 119.1,132.8 121.3,131.2 121.8,128.0 119.6,125.8 118.3,123.0 116.1,120.8Z"/>
<path d="M134.8,130.4 134.6,127.9 134.9,125.3 133.8,122.8 131.4,121.4 131.2,121.5 130.7,124.6 127.7,128.7 122.6,128.7 122.4,127.7 121.8,128.0 121.3,131.2 123.6,132.9 124.4,133.4 126.7,132.7 130.4,135.6 130.9,135.7 135.0,133.6 135.5,132.9Z"/>
<path d="M368.2,116.8 370.5,119.5 372.6,122.3 375.7,122.9 378.7,124.1 381.9,124.0 383.3,120.8 384.2,117.4 384.8,115.9 383.3,114.5 375.3,116.2 367.8,116.2Z"/>
<path d="M318.6,197.4 322.2,197.6 325.5,198.7 327.2,199.7 328.9,193.4 331.9,200.5 332.1,201.1 332.9,199.7 332.8,196.7 334.6,194.4 333.2,191.7 331.4,189.3 329.5,187.0 328.5,185.4 326.9,187.4 319.8,191.4 318.0,196.9Z"/>
<path d="M41.8,207.4 39.4,204.8 37.5,201.9 34.6,202.4 31.7,201.7 30.1,204.5 30.4,207.8 30.0,208.3 33.3,209.6 40.0,207.6 41.8,209.3 34.9,212.8 29.0,214.2 30.7,215.2 33.8,216.8 36.7,218.6 38.1,216.2 40.7,214.8 42.7,212.8 43.8,210.2Z"/>
<path d="M140.8,52.7 141.6,51.0 140.7,48.9 141.6,46.8 140.7,44.1 139.2,41.8 137.1,39.9 134.9,41.6 132.1,41.8 129.5,42.5 127.7,44.9 127.4,48.0 125.2,50.3 124.8,53.3 125.5,55.6 127.5,57.0 130.6,56.7 133.3,54.9 136.5,55.2 139.3,53.9Z"/>
<path d="M178.0,109.9 175.2,108.6 172.2,108.5 169.1,109.6 166.5,111.4 165.8,114.5 165.5,116.0 170.1,120.6 171.8,121.1 171.6,120.4 177.9,110.3 178.2,109.9Z"/>
<path d="M132.0,26.7 133.0,25.2 129.0,23.0 124.5,19.5 120.1,16.8 120.5,19.4 121.7,22.7 122.4,26.1 123.7,29.4 127.1,30.3 130.5,29.5Z"/>
<path d="M175.2,108.6 178.0,109.9 178.2,109.9 182.7,103.5 176.4,97.2 171.0,94.5 169.5,97.0 170.0,99.9 171.7,102.6 172.2,105.5 172.2,108.5Z"/>
<path d="M79.3,243.4 76.5,244.6 75.2,245.0 73.2,250.7 73.2,253.3 75.0,253.6 78.2,254.9 81.1,256.9 84.3,258.2 85.0,258.0 84.6,255.8 83.3,248.2 81.3,242.3Z"/>
<path d="M350.4,127.9 351.5,131.2 352.9,134.3 355.8,134.4 358.6,133.7 361.3,132.6 361.8,129.1 361.7,125.7 361.3,122.4 360.1,119.2 359.1,120.2 349.0,125.3 348.4,125.7Z"/>
<path d="M171.0,94.5 166.3,92.2 160.0,87.0 159.7,86.7 159.6,86.8 157.6,89.2 158.2,92.3 159.0,95.4 160.5,98.2 163.6,98.2 166.5,97.8 169.5,97.0Z"/>
<path d="M118.6,387.3 122.1,387.3 122.9,384.2 125.1,382.1 122.3,380.5 120.3,377.9 117.9,375.9 114.6,376.8 112.8,376.7 113.5,378.4 117.4,387.9Z"/>
<path d="M54.3,186.6 54.6,184.1 53.5,183.0 52.4,182.8 53.1,182.7 52.0,181.7 49.8,180.3 50.7,182.5 49.9,186.2 43.3,185.8 39.6,186.6 40.1,187.6 41.2,190.2 43.5,192.0 44.4,194.7 47.4,195.7 50.4,194.9 52.9,193.4 54.7,191.9 54.9,191.6 54.9,188.8Z"/>
<path d="M353.2,144.6 353.1,141.5 353.3,138.4 352.0,135.5 348.5,135.6 345.1,135.9 341.8,137.3 340.6,139.6 338.8,141.6 337.4,143.8 337.5,144.0 340.3,145.5 343.0,147.2 345.0,149.0 346.7,149.1 348.2,148.8 351.0,148.7 353.5,147.6 353.6,147.4Z"/>
<path d="M144.6,52.1 147.1,54.4 150.4,55.2 153.2,56.8 155.8,56.2 157.2,55.4 156.0,53.5 154.5,50.4 156.8,48.1 156.2,47.9 154.0,45.7 152.0,43.4 149.4,44.2 146.9,45.5 144.1,45.8 141.6,46.8 140.7,48.9 141.6,51.0Z"/>
<path d="M101.0,39.3 98.7,37.2 95.9,36.0 93.6,38.7 91.6,41.5 90.0,44.6 89.6,46.7 91.0,48.4 93.6,49.6 96.8,49.5 99.3,51.1 101.7,49.7 102.3,46.8 102.6,43.8 103.5,40.9Z"/>
<path d="M101.3,141.6 103.4,141.9 104.7,139.4 106.3,137.1 108.6,135.4 107.1,133.9 106.6,131.7 103.4,130.9 100.2,130.0 96.9,129.5 93.7,128.7 93.1,132.0 93.5,135.3 92.8,138.6 94.4,140.5 99.4,139.8 100.6,141.9Z"/>
<path d="M87.0,304.0 90.5,303.5 90.7,303.4 90.5,302.0 87.5,296.0 86.1,292.1 83.9,292.9 82.0,293.7 85.4,305.1Z"/>
<path d="M145.6,31.3 147.7,28.9 150.1,26.7 152.7,24.7 155.2,22.7 155.9,20.1 153.6,20.3 149.0,21.3 144.8,23.0 141.5,24.8 142.3,25.9 143.7,28.5 144.6,31.4Z"/>
<path d="M331.7,167.2 329.4,168.8 327.1,170.5 324.7,172.0 322.1,173.2 320.4,175.1 330.8,175.8 333.5,179.0 330.9,182.3 329.9,183.5 330.5,183.3 332.7,181.3 333.0,181.2 333.8,177.8 338.7,176.8 338.7,176.8 338.2,174.4 337.6,172.1 335.1,171.1 334.2,168.3 332.0,168.0 331.8,167.2Z"/>
<path d="M114.6,71.7 117.4,71.9 117.1,69.2 117.0,66.3 115.8,63.6 116.2,60.8 113.5,59.7 110.9,58.3 109.0,60.0 106.9,61.5 104.7,62.9 105.2,65.6 105.4,68.4 105.6,71.2 106.4,72.8 110.5,71.1 113.0,71.9Z"/>
<path d="M357.2,169.1 354.9,170.9 353.0,173.3 353.5,175.6 353.2,177.9 355.3,180.6 358.6,182.1 360.2,185.3 363.2,178.3 367.0,169.6 366.2,169.6 363.0,168.8 359.8,167.7Z"/>
<path d="M164.2,30.3 166.8,28.9 168.2,25.7 168.9,24.9 166.0,24.7 162.5,20.3 158.0,20.0 155.9,20.1 155.2,22.7 156.7,25.6 159.7,27.3 161.2,30.2Z"/>
<path d="M175.0,168.3 174.1,165.3 173.0,164.8 168.6,162.1 167.0,162.5 163.8,162.6 160.6,162.0 160.9,165.5 161.0,168.9 161.4,172.4 164.2,173.6 167.2,173.9 168.2,173.8 170.0,172.4 171.5,173.2 173.5,172.7 176.4,171.4Z"/>
<path d="M304.9,169.8 305.4,166.2 307.4,164.1 303.5,164.6 300.5,165.7 299.5,160.6 299.5,157.0 297.6,157.0 296.0,158.7 293.6,161.2 292.1,162.0 299.3,164.0 300.3,165.5 300.8,170.0 302.8,171.6Z"/>
<path d="M62.9,175.0 63.4,171.9 61.5,170.4 58.4,171.5 55.6,173.4 52.7,175.1 49.6,176.1 48.3,176.6 48.3,176.7 49.8,180.3 52.0,181.7 53.1,182.7 55.6,182.2 60.6,179.5 63.0,175.5ZM54.6,184.1 54.9,184.0 54.9,183.3 53.5,183.0Z"/>
<path d="M142.1,411.2 142.4,414.8 142.9,417.6 146.9,410.7 149.9,404.6 150.6,404.0 148.5,401.6 145.2,400.3 143.0,402.6 141.3,405.2 140.2,408.1Z"/>
<path d="M105.6,71.2 105.4,68.4 105.2,65.6 104.7,62.9 102.8,61.4 100.1,62.0 98.2,60.5 95.7,62.7 92.3,63.0 91.5,63.4 91.8,63.6 98.0,68.0 100.6,70.7 98.0,76.5 98.0,76.5 99.8,75.6 101.3,75.4 103.4,74.1 106.4,72.8Z"/>
<path d="M320.9,152.3 325.8,151.5 330.8,149.5 334.3,149.1 334.3,149.0 335.4,146.1 337.5,144.0 337.4,143.8 334.5,142.2 331.5,140.8 328.5,139.4 326.8,137.1 324.7,137.4 323.7,140.4 327.8,146.5 324.7,151.5 320.7,151.9Z"/>
<path d="M24.8,189.3 24.2,193.0 25.7,196.2 28.3,197.0 30.2,194.5 32.4,192.1 34.2,189.4 36.9,187.5 37.1,187.2 35.8,187.5 27.5,186.6 23.5,187.1Z"/>
<path d="M114.3,49.3 111.1,50.5 109.9,53.2 109.5,55.9 110.9,58.3 113.5,59.7 116.2,60.8 118.5,59.4 120.7,57.8 123.3,57.1 125.5,55.6 124.8,53.3 122.3,51.8 119.9,50.1 118.1,47.7 115.5,46.5Z"/>
<path d="M110.5,109.0 113.2,111.1 115.0,114.0 117.2,116.5 119.5,116.0 121.3,114.1 122.3,113.9 120.6,111.5 116.6,109.5 115.8,108.3 112.9,107.5 112.5,106.9Z"/>
<path d="M79.2,147.2 78.6,144.1 75.8,143.0 72.8,143.9 69.9,142.7 66.9,143.0 65.9,145.3 64.7,147.4 66.7,149.9 68.5,152.3 70.3,154.9 72.0,157.5 72.1,157.5 74.5,156.1 76.6,154.2 78.1,151.7 80.3,150.0 79.9,149.1 78.2,148.9 79.4,147.7Z"/>
<path d="M52.9,193.4 50.4,194.9 47.4,195.7 48.7,198.2 49.6,200.8 50.4,203.5 52.7,204.1 55.0,204.3 57.4,204.2 59.6,201.7 61.9,199.8 58.2,199.1 51.6,196.6 54.7,191.9Z"/>
<path d="M358.1,156.7 361.4,156.7 364.7,156.8 368.0,157.4 368.6,154.3 370.1,151.4 371.7,148.7 370.6,148.3 369.2,149.5 362.1,151.5 358.1,156.6 358.1,156.7ZM366.5,145.7 363.4,145.2 361.3,145.8 360.1,147.5 366.2,147.5 368.2,147.1Z"/>
<path d="M153.0,227.4 153.3,230.4 154.1,233.3 157.2,233.1 160.1,234.6 163.2,234.8 163.9,234.9 164.1,234.3 161.6,226.7 152.8,227.0Z"/>
<path d="M117.7,43.7 118.9,40.7 121.1,38.4 119.7,36.2 119.9,33.7 117.1,33.1 114.4,31.6 111.4,31.5 110.2,34.4 108.8,37.2 107.0,39.9 109.3,42.6 112.6,43.9 115.4,45.9Z"/>
<path d="M92.8,138.6 93.5,135.3 93.1,132.0 93.7,128.7 92.3,126.6 89.2,127.2 86.1,127.9 83.0,128.6 80.6,131.2 79.7,134.5 80.6,136.8 81.0,139.2 84.1,140.1 87.2,140.6 90.4,139.9Z"/>
<path d="M47.1,207.7 48.4,205.3 50.4,203.5 49.6,200.8 48.7,198.2 47.4,195.7 44.4,194.7 42.7,197.7 40.0,199.7 37.5,201.9 39.4,204.8 41.8,207.4 43.8,210.2 45.6,209.9Z"/>
<path d="M107.4,13.1 104.6,14.7 102.0,16.8 102.5,19.6 102.7,22.4 103.9,25.1 106.5,26.0 109.1,27.1 111.0,24.6 112.9,22.1 115.0,19.8 117.4,17.9 119.3,16.4 115.0,14.0 110.4,12.4 110.1,11.8Z"/>
<path d="M118.7,366.6 118.1,365.8 116.2,364.6 114.2,364.6 111.4,366.1 108.3,365.7 107.8,365.6 109.5,368.3 112.8,376.7 114.6,376.8 117.9,375.9 118.3,373.1 120.3,370.9 120.5,368.1Z"/>
<path d="M370.3,159.6 368.0,157.4 364.7,156.8 361.4,156.7 358.1,156.7 358.0,156.8 357.8,157.4 359.0,159.8 358.7,162.5 358.5,165.3 359.8,167.7 363.0,168.8 366.2,169.6 367.0,169.6 368.2,166.7 370.5,160.5Z"/>
<path d="M47.4,135.3 49.6,137.9 52.5,139.5 55.3,138.0 58.3,136.9 61.1,135.3 60.3,131.9 59.6,129.5 53.0,132.8 45.1,133.7Z"/>
<path d="M325.5,198.7 322.2,197.6 318.6,197.4 318.0,196.9 317.8,197.5 320.8,204.5 325.9,204.5 327.2,199.7Z"/>
<path d="M151.9,78.3 148.9,79.4 145.9,80.7 146.5,84.0 146.2,87.2 145.9,90.4 148.8,89.7 151.7,89.9 154.6,88.9 157.6,89.2 159.6,86.8 159.7,86.7 153.6,80.8 152.7,77.5Z"/>
<path d="M36.6,159.1 36.5,159.2 37.9,160.6 41.7,166.5 45.8,170.0 46.2,171.0 45.8,168.5 46.8,165.9 48.0,163.3 45.6,162.0 44.0,159.5 41.0,159.0 39.1,157.0Z"/>
<path d="M69.8,126.2 69.7,129.4 70.8,132.4 73.6,133.7 76.7,134.0 79.7,134.5 80.6,131.2 83.0,128.6 81.6,125.8 79.7,123.3 77.8,121.6 73.0,123.5 69.9,124.7Z"/>
<path d="M351.0,148.7 348.2,148.8 346.7,149.1 351.0,149.5 344.9,153.5 344.3,153.7 344.1,155.9 344.0,157.5 349.0,154.5 352.2,157.7 352.0,156.6 347.0,152.9 353.0,148.5 353.5,147.6Z"/>
<path d="M84.3,56.4 87.6,54.4 88.8,51.0 91.0,48.4 89.6,46.7 90.0,44.6 86.9,43.0 83.4,42.7 82.4,41.9 82.0,42.4 83.9,47.7 83.0,53.0 84.0,56.5 84.1,56.7Z"/>
<path d="M335.1,171.1 337.6,172.1 339.7,170.4 342.8,170.7 344.9,169.1 346.6,168.1 344.9,167.7 344.6,164.8 341.9,166.7 336.9,161.6 332.3,162.4 332.3,162.4 336.0,161.8 339.9,165.0 338.0,168.7 334.2,168.3Z"/>
<path d="M100.5,349.4 103.7,348.1 105.5,347.6 101.9,343.1 100.7,338.9 100.4,338.9 97.4,337.5 97.0,337.3 99.3,343.1 100.3,349.4Z"/>
<path d="M169.8,348.1 173.3,348.8 174.1,348.7 174.1,344.0 170.2,340.5 169.8,341.3 167.0,345.5 166.6,348.6Z"/>
<path d="M168.7,365.1 166.6,368.0 163.5,369.5 160.2,370.8 158.0,373.2 161.0,372.8 168.2,374.0 171.0,365.0 171.2,364.1Z"/>
<path d="M129.3,412.8 131.7,410.2 133.5,407.1 132.5,403.8 131.3,400.6 129.4,397.8 127.7,397.6 124.8,399.5 122.7,400.7 126.7,408.7 129.2,412.8Z"/>
<path d="M163.0,40.7 161.9,37.4 159.7,34.9 156.6,36.1 153.4,37.2 153.0,40.3 152.0,43.4 154.0,45.7 156.2,47.9 156.8,48.1 159.0,46.0 162.5,42.5 163.9,41.4Z"/>
</g>
<path d="M111.2,71.5 113.9,69.8 118.3,65.4 121.9,61.0 127.2,59.2 130.7,63.6 136.0,66.3 143.0,65.4 148.4,68.0 152.8,68.0 161.6,68.0 161.6,61.8 158.0,56.5 156.0,53.5 154.5,50.4 159.0,46.0 162.5,42.5 166.0,39.7 169.5,37.0 173.0,33.6 174.0,30.0 174.0,26.5 170.5,25.0 166.0,24.7 162.5,20.3 158.0,20.0 153.6,20.3 149.0,21.3 144.8,23.0 141.0,25.0 137.7,26.5 133.5,25.5 129.0,23.0 124.5,19.5 120.0,16.8 115.0,14.0 110.4,12.4 107.7,7.0 103.0,5.5 97.0,5.0 92.0,6.5 86.5,7.0 80.0,10.0 75.0,12.5 70.6,17.7 73.3,22.0 81.2,23.9 88.3,26.5 91.8,30.0 90.0,34.5 85.6,38.0 82.0,42.4 83.9,47.7 83.0,53.0 84.0,56.5 85.6,60.0 91.8,63.6 98.0,68.0 100.6,70.7Z" fill="#6b6b6b" stroke="#484848" stroke-width="0.5"/>
<g stroke="#666" stroke-width="0.6">
<path d="M73.0,123.5 80.2,120.6 86.3,119.6 92.3,122.6 97.4,120.6 103.4,121.6 108.5,119.6 107.5,116.6 97.4,113.5 93.3,106.5 87.3,104.8 84.0,103.9 83.3,105.0 75.8,117.7 73.2,122.2 69.0,124.5 69.0,125.0Z" fill="#ff5434"/>
<path d="M121.6,123.6 122.6,128.7 127.7,128.7 130.7,124.6 131.7,118.6 126.7,116.6 120.6,118.6Z" fill="#ff0000"/>
<path d="M299.5,160.6 300.5,165.7 303.5,164.6 310.6,163.6 316.7,164.6 313.6,160.6 314.6,152.9 310.6,151.5 306.6,150.5 299.5,153.5Z" fill="#ff6846"/>
<path d="M313.6,160.6 316.7,164.6 318.0,166.0 323.0,163.0 326.8,159.6 325.8,151.5 320.0,152.5 317.0,152.3 314.6,152.5 313.6,152.2Z" fill="#ffd9cb"/>
<path d="M326.8,159.6 330.8,158.6 338.9,155.6 344.9,153.5 351.0,149.5 338.9,148.5 330.8,149.5 325.8,151.5Z" fill="#af9bd0"/>
<path d="M330.8,162.6 336.9,161.6 341.9,166.7 344.9,164.6 343.9,158.6 338.9,156.2 329.8,159.6Z" fill="#ffded2"/>
<path d="M344.9,167.7 349.0,168.7 352.0,164.6 353.0,158.6 349.0,154.5 343.9,157.6Z" fill="#ffffff"/>
<path d="M332.0,168.0 338.0,168.7 339.9,165.0 336.0,161.8 330.8,162.6Z" fill="#ffffff"/>
<path d="M352.0,156.6 353.0,163.6 355.1,164.6 358.1,156.6 362.1,151.5 369.2,149.5 373.2,146.1 366.2,147.5 360.1,147.5 363.1,143.4 371.2,139.4 374.2,136.4 365.2,138.4 357.1,141.4 353.0,148.5 347.0,152.9Z" fill="#ff0000"/>
<path d="M331.8,185.9 336.9,188.9 341.9,184.8 343.9,177.8 340.9,176.4 333.8,177.8Z" fill="#ff7958"/>
<path d="M132.2,316.6 136.0,317.9 146.1,320.4 152.4,317.9 151.1,306.5 141.0,307.3 130.9,310.3Z" fill="#ff230f"/>
<path d="M149.5,343.9 148.6,348.3 146.8,353.6 150.4,353.6 153.0,349.2 160.1,348.3 166.3,345.7 169.8,341.3 169.0,339.5 168.8,339.3 168.8,339.1 168.1,337.4 160.1,338.6 153.0,336.8 146.0,338.6Z" fill="#ff0000"/>
<path d="M134.3,390.5 133.1,398.6 137.8,397.6 144.8,396.6 148.9,390.5 146.9,383.4 139.8,383.4 133.7,385.5Z" fill="#140683"/>
<path d="M141.8,381.4 146.9,383.4 149.9,389.5 157.0,394.5 157.1,394.2 157.0,393.5 158.0,392.5 159.0,390.5 154.9,381.4 162.0,377.4 159.0,373.3 148.9,374.3 140.8,377.4Z" fill="#ffffff"/>
<path d="M154.9,381.4 159.0,390.5 161.0,389.5 168.1,388.5 168.1,374.3 162.0,377.4Z" fill="#9a82c3"/>
<path d="M112.7,350.7 115.8,353.7 120.8,352.0 122.1,345.7 117.0,343.1 112.0,346.9Z" fill="#55399d"/>
<path d="M166.1,138.8 170.1,135.8 174.1,130.7 173.1,128.7 165.1,131.7 162.0,136.8Z" fill="#492d96"/>
<path d="M160.4,221.7 164.1,224.2 169.2,219.1 171.7,212.8 167.9,209.0 161.6,211.6Z" fill="#ff4628"/>
<path d="M147.7,220.4 150.3,225.5 157.8,226.7 160.4,221.7 160.4,211.6 154.0,210.3 149.0,214.1Z" fill="#b5a1d3"/>
<path d="M56.6,190.0 61.6,191.6 68.2,192.5 74.9,190.0 76.5,185.8 69.9,185.8 63.2,182.5 54.9,183.3Z" fill="#ff3e22"/>
<path d="M64.1,205.8 64.1,212.4 59.1,214.9 60.7,217.4 66.6,218.3 69.1,213.3 73.2,208.3 75.7,202.4 71.5,200.8 66.6,203.3 63.2,200.0Z" fill="#ff1b0a"/>
<path d="M109.5,102.4 112.9,107.5 116.6,108.5 117.6,103.4 113.5,96.4 108.5,97.4Z" fill="#7357ad"/>
<path d="M279.0,168.0 283.1,173.7 283.3,173.7 287.4,172.7 281.0,159.5 282.5,158.5 284.7,160.6 284.8,160.6 284.0,157.5 280.0,158.0Z" fill="#af9bd0"/>
</g>
<path d="M70.6,17.7 73.3,22.0 81.2,23.9 88.3,26.5 91.8,30.0 90.0,34.5 85.6,38.0 82.0,42.4 83.9,47.7 83.0,53.0 84.0,56.5 85.6,60.0 91.8,63.6 98.0,68.0 100.6,70.7 98.0,76.5 96.8,80.8 99.3,88.4 94.3,93.4 86.7,99.7 83.3,105.0 75.8,117.7 73.2,122.2 63.1,127.8 53.0,132.8 43.0,134.0 37.9,140.4 30.3,148.0 31.6,154.3 37.9,160.6 41.7,166.5 45.8,170.0 48.3,176.7 50.7,182.5 49.9,186.2 43.3,185.8 35.8,187.5 27.5,186.6 20.8,187.5 16.6,191.6 12.5,195.0 15.0,199.0 20.0,203.0 26.6,207.0 33.3,209.6 40.0,207.6 41.8,209.3 34.9,212.8 28.3,214.3 22.5,214.9 24.0,220.4 29.0,225.5 35.4,230.5 45.5,236.8 54.3,236.8 61.9,233.0 66.9,226.7 66.2,220.4 70.7,224.2 73.2,233.0 75.8,243.1 73.2,250.7 73.2,263.3 75.8,276.0 78.3,286.0 81.7,292.6 85.5,305.3 90.5,317.9 94.3,330.5 99.3,343.1 100.4,350.1 104.4,360.2 109.5,368.3 113.5,378.4 117.6,388.5 121.6,398.6 126.7,408.7 131.7,416.8 137.8,419.8 142.8,417.8 146.9,410.7 149.9,404.6 155.0,400.6 161.0,403.6 163.0,400.6 158.0,398.6 157.0,393.5 161.0,389.5 168.1,388.5 168.1,374.3 171.0,365.0 174.1,352.1 174.1,344.0 168.8,339.3 171.3,328.0 173.8,315.4 182.9,310.0 189.2,303.6 198.1,299.8 201.9,293.5 208.2,286.0 215.8,277.1 223.3,272.1 230.9,264.5 237.2,259.4 246.1,253.1 254.9,246.8 262.5,239.2 263.7,232.9 268.8,225.4 274.3,221.7 278.4,225.8 289.5,224.7 289.5,204.5 284.4,202.5 285.5,193.4 283.4,187.4 277.4,182.3 279.4,174.2 283.3,173.7 287.4,172.7 281.0,159.5 282.5,158.5 284.7,160.6 292.0,162.0 299.3,164.0 300.3,165.5 300.8,170.0 305.6,173.8 318.2,175.0 330.8,175.8 333.5,179.0 330.9,182.3 326.9,187.4 319.8,191.4 317.8,197.5 320.8,204.5 325.9,204.5 328.9,193.4 331.9,200.5 334.9,210.6 337.0,219.7 341.0,219.7 344.0,210.6 347.1,200.5 350.1,190.4 357.2,192.4 363.2,178.3 368.2,166.7 371.2,158.6 379.3,152.5 389.4,145.5 392.4,143.4 396.5,146.9 395.5,143.4 398.5,139.4 400.5,132.3 395.5,128.3 389.4,120.2 383.3,114.5 375.3,116.2 363.1,116.2 359.1,120.2 349.0,125.3 338.9,132.3 330.8,136.4 324.7,137.4 323.7,140.4 327.8,146.5 324.7,151.5 314.6,152.5 306.6,150.5 299.5,153.0 290.4,150.5 283.9,149.4 287.4,144.4 287.4,136.4 283.3,133.3 276.3,136.4 276.3,143.0 277.6,148.2 273.8,154.5 266.3,155.8 253.6,154.5 246.1,153.2 237.2,148.2 227.1,141.9 215.8,141.9 203.1,139.3 194.3,134.3 185.5,129.2 177.9,126.7 172.8,124.2 171.6,120.4 177.9,110.3 182.7,103.5 176.4,97.2 166.3,92.2 160.0,87.0 153.6,80.8 151.1,72.0 152.8,68.0 156.3,70.7 161.6,68.0 161.6,61.8 158.0,56.5 156.0,53.5 154.5,50.4 159.0,46.0 162.5,42.5 166.0,39.7 169.5,37.0 173.0,33.6 174.0,30.0 174.0,26.5 170.5,25.0 166.0,24.7 162.5,20.3 158.0,20.0 153.6,20.3 149.0,21.3 144.8,23.0 141.0,25.0 137.7,26.5 133.5,25.5 129.0,23.0 124.5,19.5 120.0,16.8 115.0,14.0 110.4,12.4 107.7,7.0 103.0,5.5 97.0,5.0 92.0,6.5 86.5,7.0 80.0,10.0 75.0,12.5Z" fill="none" stroke="#4a4a4a" stroke-width="0.7"/>
</g>
<g stroke-linejoin="round">
<path d="M466.1,21.0 468.7,25.1 476.3,27.0 483.1,29.5 486.5,32.9 484.8,37.3 480.5,40.7 477.1,44.9 478.9,50.1 478.0,55.2 479.0,58.6 480.5,62.0 486.5,65.5 492.5,69.8 495.0,72.4 492.5,78.0 491.3,82.2 493.7,89.5 488.9,94.4 481.6,100.5 478.3,105.6 471.1,118.0 468.6,122.3 458.9,127.8 449.1,132.6 439.5,133.8 434.6,140.0 427.3,147.4 428.5,153.5 434.6,159.6 438.2,165.3 442.2,168.7 444.6,175.2 446.9,180.8 446.1,184.4 439.8,184.0 432.6,185.7 424.6,184.8 418.1,185.7 414.0,189.7 410.1,193.0 412.5,196.8 417.3,200.7 423.7,204.6 430.1,207.1 436.6,205.2 438.3,206.8 431.7,210.2 425.3,211.7 419.7,212.3 421.2,217.6 426.0,222.5 432.2,227.4 441.9,233.5 450.4,233.5 457.7,229.8 462.5,223.7 461.8,217.6 466.2,221.3 468.6,229.8 471.1,239.6 468.6,247.0 468.6,259.2 471.1,271.5 473.5,281.2 476.8,287.6 480.4,299.9 485.3,312.2 488.9,324.4 493.7,336.6 494.8,343.4 498.7,353.2 503.6,361.1 507.4,370.8 511.4,380.6 515.2,390.4 520.2,400.2 525.0,408.1 530.8,411.0 535.7,409.1 539.6,402.2 542.5,396.3 547.4,392.4 553.2,395.3 555.1,392.4 550.3,390.4 549.4,385.5 553.2,381.6 560.0,380.6 560.0,366.9 562.8,357.9 565.8,345.3 565.8,337.5 560.7,332.9 563.1,322.0 565.5,309.7 574.3,304.5 580.4,298.3 589.0,294.6 592.6,288.5 598.7,281.2 606.0,272.6 613.2,267.7 620.6,260.4 626.6,255.4 635.2,249.3 643.7,243.2 651.0,235.8 652.2,229.7 657.1,222.4 662.4,218.8 666.3,222.8 677.0,221.8 677.0,202.2 672.1,200.2 673.2,191.4 671.2,185.6 665.4,180.6 667.3,172.8 671.1,172.3 675.0,171.3 668.8,158.5 670.3,157.5 672.4,159.6 679.5,160.9 686.5,162.9 687.4,164.3 687.9,168.7 692.6,172.4 704.7,173.6 716.8,174.3 719.4,177.4 716.9,180.6 713.1,185.6 706.2,189.5 704.3,195.4 707.2,202.2 712.1,202.2 715.0,191.4 717.9,198.3 720.8,208.1 722.8,216.9 726.7,216.9 729.6,208.1 732.6,198.3 735.4,188.5 742.3,190.4 748.1,176.8 752.9,165.5 755.8,157.6 763.6,151.7 773.3,144.9 776.2,142.9 780.2,146.3 779.2,142.9 782.1,139.0 784.0,132.1 779.2,128.3 773.3,120.4 767.4,114.9 759.7,116.5 748.0,116.5 744.1,120.4 734.4,125.3 724.6,132.1 716.8,136.1 711.0,137.1 710.0,140.0 714.0,145.9 711.0,150.8 701.2,151.7 693.5,149.8 686.7,152.2 677.9,149.8 671.6,148.7 675.0,143.9 675.0,136.1 671.1,133.1 664.3,136.1 664.3,142.5 665.6,147.6 661.9,153.7 654.7,154.9 642.4,153.7 635.2,152.4 626.6,147.6 616.9,141.4 606.0,141.4 593.8,138.9 585.3,134.1 576.8,129.1 569.5,126.7 564.6,124.3 563.4,120.6 569.5,110.8 574.1,104.2 568.0,98.1 558.3,93.2 552.2,88.2 546.1,82.2 543.7,73.6 545.3,69.8 548.7,72.4 553.8,69.8 553.8,63.7 550.3,58.6 548.4,55.7 546.9,52.7 551.3,48.4 554.7,45.0 558.0,42.3 561.4,39.7 564.8,36.4 565.7,32.9 565.7,29.5 562.4,28.1 558.0,27.8 554.7,23.5 550.3,23.2 546.1,23.5 541.6,24.5 537.6,26.1 533.9,28.1 530.8,29.5 526.7,28.5 522.4,26.1 518.0,22.7 513.7,20.1 508.9,17.4 504.4,15.8 501.8,10.6 497.3,9.1 491.5,8.6 486.7,10.1 481.4,10.6 475.1,13.5 470.3,15.9Z" fill="#6b6b6b" stroke="#484848" stroke-width="0.9"/>
<g stroke="#585858" stroke-width="0.7">
<path d="M489.3,105.7 490.6,107.7 492.3,109.5 493.4,111.7 496.1,111.0 498.9,110.3 501.7,110.2 504.2,108.6 503.7,105.6 502.6,102.8 501.5,99.9 501.3,99.1 501.0,99.1 493.4,104.2 489.8,105.1Z" fill="#ffffff"/>
<path d="M507.7,98.0 501.3,99.1 501.5,99.9 502.6,102.8 503.7,105.6 504.2,108.6 505.6,110.3 507.7,110.5 509.0,107.4 510.7,105.2 508.7,98.2Z" fill="#baa8d6"/>
<path d="M509.0,107.4 507.7,110.5 508.4,112.1 511.4,112.4 513.9,114.4 516.8,114.9 516.8,114.9 518.2,112.3 518.4,109.5 518.4,106.6 519.0,103.8 518.3,103.4 514.9,104.2 511.1,106.7 510.7,105.2Z" fill="#ff6846"/>
<path d="M519.0,103.8 521.7,105.0 524.8,105.0 526.8,106.4 528.8,100.4 525.0,95.5 521.2,96.6 520.0,103.0 518.3,103.4Z" fill="#ff6846"/>
<path d="M524.8,105.0 521.7,105.0 519.0,103.8 518.4,106.6 518.4,109.5 518.2,112.3 516.8,114.9 518.6,115.4 520.3,115.6 523.0,113.7 525.1,111.0 526.5,109.5 526.3,108.0 526.8,106.4Z" fill="#ffe2d8"/>
<path d="M473.9,119.0 477.3,120.2 479.7,122.6 483.1,121.9 486.7,122.1 490.0,121.0 493.4,120.1 493.4,117.3 493.8,114.5 493.4,111.7 492.3,109.5 490.6,107.7 489.3,105.7 488.1,105.5 483.3,106.7 481.5,105.8 479.0,106.1 478.2,105.9 471.5,117.2Z" fill="#ffad93"/>
<path d="M503.6,120.0 506.3,117.9 506.2,114.4 508.4,112.1 507.7,110.5 505.6,110.3 504.2,108.6 501.7,110.2 498.9,110.3 496.1,111.0 493.4,111.7 493.8,114.5 493.4,117.3 493.4,120.1 495.7,121.7 497.5,123.8 500.1,122.6 503.0,123.1Z" fill="#ffb7a0"/>
<path d="M513.9,114.4 511.4,112.4 508.4,112.1 506.2,114.4 506.3,117.9 503.6,120.0 503.0,123.1 505.3,125.1 507.9,126.8 510.9,127.8 512.5,127.5 513.4,124.3 514.9,121.3 515.5,118.0 516.8,114.9Z" fill="#ffded2"/>
<path d="M524.4,123.9 525.1,121.9 524.0,119.4 522.0,117.7 520.3,115.6 518.6,115.4 516.8,114.9 516.8,114.9 515.5,118.0 514.9,121.3 513.4,124.3 512.5,127.5 515.7,128.9 519.0,129.9 521.7,127.8 524.7,126.1Z" fill="#f4f1f9"/>
<path d="M527.2,127.5 529.8,128.8 532.5,130.0 535.2,128.9 536.1,126.1 536.6,123.1 537.3,120.2 537.6,119.2 536.4,119.3 531.9,117.4 530.4,118.9 527.3,119.6 525.1,121.9 524.4,123.9 524.7,126.1Z" fill="#efeaf6"/>
<path d="M536.6,130.6 538.8,130.7 541.3,129.7 543.7,128.2 546.5,128.2 545.6,125.5 544.4,122.8 544.4,119.8 543.5,118.5 537.6,119.2 537.3,120.2 536.6,123.1 536.1,126.1 535.2,128.9Z" fill="#ffffff"/>
<path d="M552.3,128.7 554.9,126.5 556.2,124.4 556.2,122.6 551.5,121.9 546.5,118.1 543.5,118.5 544.4,119.8 544.4,122.8 545.6,125.5 546.5,128.2 548.9,129.4Z" fill="#ffe2d8"/>
<path d="M557.0,129.0 559.0,131.6 561.2,134.1 563.0,133.6 564.9,133.5 565.6,130.1 568.1,127.4 568.3,126.1 564.6,124.3 564.0,122.4 562.5,121.7 560.6,120.8 559.1,123.1 556.2,122.6 556.2,124.4 554.9,126.5Z" fill="#aa95cd"/>
<path d="M566.9,135.2 569.2,136.7 571.5,135.7 574.1,135.8 576.5,134.9 578.3,132.1 579.7,130.8 576.8,129.1 569.5,126.7 568.3,126.1 568.1,127.4 565.6,130.1 564.9,133.5Z" fill="#c5b5dc"/>
<path d="M586.8,142.7 586.5,139.1 587.4,135.8 587.6,135.4 585.3,134.1 579.7,130.8 578.3,132.1 576.5,134.9 578.1,137.4 578.4,140.3 578.4,143.4 580.1,145.8 582.7,146.7 585.3,145.8Z" fill="#ffe2d8"/>
<path d="M587.4,135.8 586.5,139.1 586.8,142.7 585.3,145.8 586.8,147.2 588.5,148.4 590.5,148.4 592.4,146.3 594.6,144.5 597.2,143.3 599.0,141.0 600.1,140.2 593.8,138.9 587.6,135.4Z" fill="#ffffff"/>
<path d="M599.0,141.0 597.2,143.3 594.6,144.5 592.4,146.3 590.5,148.4 593.0,150.6 595.2,153.1 598.1,154.8 600.0,155.2 602.0,155.1 602.7,152.0 601.7,148.8 603.2,145.8 603.1,142.6 602.2,141.0 602.0,140.6 600.1,140.2Z" fill="#ffd9cb"/>
<path d="M572.1,145.7 575.0,146.7 578.0,147.1 580.1,145.8 578.4,143.4 578.4,140.3 578.1,137.4 576.5,134.9 574.1,135.8 571.5,135.7 569.2,136.7 569.6,139.4 568.6,142.2 569.2,144.9Z" fill="#dfd6ec"/>
<path d="M557.4,142.6 558.4,144.7 561.1,145.3 563.8,146.5 566.7,146.8 569.2,144.9 568.6,142.2 569.6,139.4 569.2,136.7 566.9,135.2 564.9,133.5 563.0,133.6 561.2,134.1 559.8,136.3 557.8,138.0 556.6,140.3Z" fill="#cfc2e3"/>
<path d="M549.7,132.5 548.4,135.7 549.0,138.8 551.4,139.7 554.1,139.6 556.6,140.3 557.8,138.0 559.8,136.3 561.2,134.1 559.0,131.6 557.0,129.0 554.9,126.5 552.3,128.7 548.9,129.4Z" fill="#ffffff"/>
<path d="M546.5,128.2 543.7,128.2 541.3,129.7 538.8,130.7 539.3,133.2 540.7,135.5 541.3,137.9 544.5,138.7 547.8,139.5 549.0,138.8 548.4,135.7 549.7,132.5 548.9,129.4Z" fill="#ffe7de"/>
<path d="M531.6,133.0 530.5,135.9 530.2,139.0 532.7,140.8 535.6,141.7 538.9,140.5 541.3,137.9 540.7,135.5 539.3,133.2 538.8,130.7 536.6,130.6 535.2,128.9 532.5,130.0Z" fill="#e4ddef"/>
<path d="M521.7,127.8 519.0,129.9 519.6,132.1 519.9,134.4 521.8,136.7 523.4,139.2 526.1,140.6 528.1,139.6 530.2,139.0 530.5,135.9 531.6,133.0 532.5,130.0 529.8,128.8 527.2,127.5 524.7,126.1Z" fill="#ffe2d8"/>
<path d="M463.4,128.9 465.6,131.5 466.6,134.7 468.4,137.5 471.7,137.8 474.5,139.5 476.3,136.8 479.1,135.0 481.3,132.7 480.3,129.4 479.4,126.1 479.7,122.6 477.3,120.2 473.9,119.0 471.5,117.2 471.1,118.0 468.6,122.3 461.3,126.4Z" fill="#ffb7a0"/>
<path d="M496.1,131.9 495.5,128.9 497.2,126.6 497.5,123.8 495.7,121.7 493.4,120.1 490.0,121.0 486.7,122.1 483.1,121.9 479.7,122.6 479.4,126.1 480.3,129.4 481.3,132.7 484.3,134.3 487.5,135.6 490.7,136.5 492.9,135.5 494.9,134.4Z" fill="#ffb7a0"/>
<path d="M504.5,138.5 506.8,138.6 507.3,135.7 508.7,133.1 510.5,130.7 510.9,127.8 507.9,126.8 505.3,125.1 503.0,123.1 500.1,122.6 497.5,123.8 497.2,126.6 495.5,128.9 496.1,131.9 494.9,134.4 496.9,136.8 500.3,137.0 502.4,139.4Z" fill="#ff8e6f"/>
<path d="M515.7,128.9 512.5,127.5 510.9,127.8 510.5,130.7 508.7,133.1 507.3,135.7 506.8,138.6 509.3,140.6 512.0,142.5 514.2,140.7 516.3,138.8 517.9,136.4 519.9,134.4 519.6,132.1 519.0,129.9Z" fill="#ffb299"/>
<path d="M517.9,136.4 516.3,138.8 514.2,140.7 512.0,142.5 512.5,145.4 514.2,147.7 515.1,148.1 518.0,147.6 521.0,147.4 523.8,146.3 525.7,143.8 526.1,140.6 523.4,139.2 521.8,136.7 519.9,134.4Z" fill="#ff9475"/>
<path d="M434.3,140.5 436.3,143.3 438.3,146.1 438.7,149.6 440.4,152.6 442.7,153.3 445.0,154.0 447.2,154.9 448.4,152.4 449.3,149.7 449.9,146.9 452.5,145.0 452.8,142.0 451.8,138.8 449.3,136.2 448.0,133.1 447.9,132.8 439.5,133.8 434.6,140.0 434.3,140.2Z" fill="#ffded2"/>
<path d="M467.5,156.0 469.9,154.0 472.5,152.4 474.9,150.3 477.6,148.8 476.7,145.7 475.2,142.7 474.5,139.5 471.7,137.8 468.4,137.5 466.5,139.5 464.9,141.7 463.1,143.8 460.8,145.4 462.4,148.0 463.1,150.9 464.2,153.7 464.4,156.8Z" fill="#ffb7a0"/>
<path d="M483.7,148.5 486.1,147.0 488.9,146.0 489.7,142.9 489.3,139.5 490.7,136.5 487.5,135.6 484.3,134.3 481.3,132.7 479.1,135.0 476.3,136.8 474.5,139.5 475.2,142.7 476.7,145.7 477.6,148.8 479.9,148.9 481.5,150.5Z" fill="#ffad93"/>
<path d="M500.4,148.4 501.4,145.5 501.2,142.3 502.4,139.4 500.3,137.0 496.9,136.8 494.9,134.4 492.9,135.5 490.7,136.5 489.3,139.5 489.7,142.9 488.9,146.0 491.6,147.0 494.0,148.9 496.9,149.6 499.3,151.3Z" fill="#ff9e81"/>
<path d="M499.6,151.8 501.9,152.9 504.5,152.4 506.8,153.2 509.5,151.7 511.5,149.2 514.2,147.7 512.5,145.4 512.0,142.5 509.3,140.6 506.8,138.6 504.5,138.5 502.4,139.4 501.2,142.3 501.4,145.5 500.4,148.4 499.3,151.3Z" fill="#ff9475"/>
<path d="M496.9,149.6 494.0,148.9 491.6,147.0 488.9,146.0 486.1,147.0 483.7,148.5 481.5,150.5 482.4,152.9 482.9,155.5 484.0,157.9 486.1,159.2 489.3,158.9 492.1,157.7 495.1,156.8 497.8,155.3 498.0,153.3 499.6,151.8 499.3,151.3Z" fill="#ffad93"/>
<path d="M467.4,159.2 470.4,159.5 472.8,161.6 475.4,163.1 478.5,163.4 480.4,161.6 482.2,159.8 484.0,157.9 482.9,155.5 482.4,152.9 481.5,150.5 479.9,148.9 477.6,148.8 474.9,150.3 472.5,152.4 469.9,154.0 467.5,156.0 464.4,156.8 464.0,157.6 464.7,158.0Z" fill="#ffbca6"/>
<path d="M461.3,165.1 461.4,162.0 462.0,159.0 458.7,159.3 455.6,158.3 452.3,158.7 449.2,157.4 447.3,160.2 446.7,163.5 448.4,166.2 450.5,168.7 450.6,172.3 452.8,174.7 454.7,174.4 456.8,172.5 458.9,170.4 460.5,168.0Z" fill="#ffe2d8"/>
<path d="M441.0,166.4 444.3,165.7 446.7,163.5 447.3,160.2 449.2,157.4 447.2,154.9 445.0,154.0 442.7,153.3 440.4,152.6 438.4,155.3 435.6,157.4 433.9,158.9 434.6,159.6 438.2,165.3 440.1,166.9Z" fill="#ffe2d8"/>
<path d="M464.0,157.6 462.0,159.0 461.4,162.0 461.3,165.1 460.5,168.0 462.3,170.4 464.6,172.1 467.6,172.8 469.1,175.6 471.9,176.7 472.5,174.1 474.5,172.4 472.8,169.4 470.8,166.5 468.9,163.6 466.1,161.2 464.7,158.0Z" fill="#ffbca6"/>
<path d="M478.1,166.7 477.9,170.1 480.6,171.3 483.7,171.2 486.5,172.3 488.3,169.3 489.6,166.1 488.7,163.7 488.0,161.1 486.1,159.2 484.0,157.9 482.2,159.8 480.4,161.6 478.5,163.4Z" fill="#ffad93"/>
<path d="M488.0,161.1 488.7,163.7 489.6,166.1 492.7,166.7 495.9,166.2 499.0,166.1 499.2,165.8 498.7,163.2 499.4,160.5 498.0,158.0 497.8,155.3 495.1,156.8 492.1,157.7 489.3,158.9 486.1,159.2Z" fill="#ff8e6f"/>
<path d="M498.0,153.3 497.8,155.3 498.0,158.0 499.4,160.5 498.7,163.2 499.2,165.8 501.9,165.3 504.6,164.3 507.5,164.2 510.0,162.6 510.2,162.3 509.3,159.1 508.0,156.2 506.8,153.2 504.5,152.4 501.9,152.9 499.6,151.8Z" fill="#ff8464"/>
<path d="M508.0,156.2 509.3,159.1 510.2,162.3 513.0,160.7 516.2,160.7 519.2,159.9 519.0,156.7 517.8,153.8 516.7,150.8 515.1,148.1 514.2,147.7 511.5,149.2 509.5,151.7 506.8,153.2Z" fill="#ffa88d"/>
<path d="M521.0,147.4 518.0,147.6 515.1,148.1 516.7,150.8 517.8,153.8 519.0,156.7 519.2,159.9 520.1,160.3 522.5,158.9 525.0,157.8 526.2,155.1 525.0,152.1 526.1,149.4 525.5,147.4 523.8,146.3Z" fill="#ff9e81"/>
<path d="M528.1,139.6 526.1,140.6 525.7,143.8 523.8,146.3 525.5,147.4 526.1,149.4 529.0,149.1 531.6,150.6 534.5,150.9 537.3,151.3 537.9,150.6 537.6,147.5 537.1,144.5 535.6,141.7 532.7,140.8 530.2,139.0Z" fill="#ffd9cb"/>
<path d="M538.9,140.5 535.6,141.7 537.1,144.5 537.6,147.5 537.9,150.6 540.9,150.0 542.9,148.7 545.0,147.6 546.2,145.4 546.4,142.3 547.8,139.5 544.5,138.7 541.3,137.9Z" fill="#eae4f2"/>
<path d="M546.4,142.3 546.2,145.4 548.6,147.8 551.3,149.9 554.0,152.0 554.9,151.8 555.7,149.2 557.9,147.5 558.4,144.7 557.4,142.6 556.6,140.3 554.1,139.6 551.4,139.7 549.0,138.8 547.8,139.5Z" fill="#e4ddef"/>
<path d="M566.8,152.3 565.9,149.5 566.7,146.8 563.8,146.5 561.1,145.3 558.4,144.7 557.9,147.5 555.7,149.2 554.9,151.8 557.3,154.3 559.8,156.7 562.0,155.9 564.2,155.0 566.7,155.0Z" fill="#cfc2e3"/>
<path d="M576.9,152.5 577.9,149.9 578.0,147.1 575.0,146.7 572.1,145.7 569.2,144.9 566.7,146.8 565.9,149.5 566.8,152.3 566.7,155.0 568.2,156.9 570.5,157.9 573.6,157.2 576.0,155.1Z" fill="#d4c9e6"/>
<path d="M578.4,157.5 581.6,158.7 584.3,160.5 585.5,159.8 586.2,156.9 587.1,154.1 588.5,151.4 588.5,148.4 586.8,147.2 585.3,145.8 582.7,146.7 580.1,145.8 578.0,147.1 577.9,149.9 576.9,152.5 576.0,155.1Z" fill="#e4ddef"/>
<path d="M595.2,153.1 593.0,150.6 590.5,148.4 588.5,148.4 588.5,151.4 587.1,154.1 586.2,156.9 585.5,159.8 588.8,159.9 591.7,161.3 594.0,159.3 596.6,157.6 598.1,154.8Z" fill="#ffffff"/>
<path d="M572.5,164.2 575.4,164.5 577.6,166.2 580.0,165.3 582.5,164.9 582.8,162.5 584.3,160.5 581.6,158.7 578.4,157.5 576.0,155.1 573.6,157.2 570.5,157.9 570.8,160.0 570.5,162.2Z" fill="#dacfe9"/>
<path d="M570.8,160.0 570.5,157.9 568.2,156.9 566.7,155.0 564.2,155.0 562.0,155.9 559.8,156.7 558.4,159.6 558.3,162.8 559.9,164.6 561.8,166.2 564.3,165.7 566.5,164.0 569.1,163.8 570.5,162.2Z" fill="#ffe2d8"/>
<path d="M558.4,159.6 559.8,156.7 557.3,154.3 554.9,151.8 554.0,152.0 551.7,153.8 549.3,155.7 548.8,158.0 550.4,159.9 552.0,161.9 553.2,164.1 555.8,163.8 558.3,162.8Z" fill="#ffffff"/>
<path d="M537.9,150.6 537.3,151.3 537.0,153.8 538.5,156.5 540.0,159.2 542.1,161.4 544.4,160.3 546.2,158.4 548.8,158.0 549.3,155.7 547.0,153.1 543.6,152.1 540.9,150.0Z" fill="#ffe7de"/>
<path d="M533.8,164.5 536.4,166.3 539.4,164.6 541.9,162.3 542.1,161.4 540.0,159.2 538.5,156.5 537.0,153.8 535.3,156.2 533.2,158.3 530.8,160.0 531.4,162.5Z" fill="#ffded2"/>
<path d="M528.2,166.9 529.3,164.3 531.4,162.5 530.8,160.0 527.7,159.5 525.0,157.8 522.5,158.9 520.1,160.3 521.3,163.5 521.8,166.8 524.1,167.5 526.1,168.8Z" fill="#ffbca6"/>
<path d="M521.3,163.5 520.1,160.3 519.2,159.9 516.2,160.7 513.0,160.7 510.2,162.3 510.0,162.6 510.0,165.7 511.5,168.4 512.4,171.2 512.8,174.2 513.8,174.5 516.1,172.9 518.0,170.9 519.4,168.3 521.8,166.8Z" fill="#ffb7a0"/>
<path d="M499.3,168.9 500.9,171.5 500.2,174.5 500.5,175.3 503.5,176.5 502.8,177.5 503.3,177.6 506.7,177.2 509.7,175.4 512.8,174.2 512.4,171.2 511.5,168.4 510.0,165.7 510.0,162.6 507.5,164.2 504.6,164.3 501.9,165.3 499.2,165.8 499.0,166.1Z" fill="#ffcfbf"/>
<path d="M500.2,174.5 500.9,171.5 499.3,168.9 499.0,166.1 495.9,166.2 492.7,166.7 489.6,166.1 488.3,169.3 486.5,172.3 487.7,174.8 487.8,175.2 497.2,174.0 500.5,175.3Z" fill="#ff7e5e"/>
<path d="M487.7,174.8 486.5,172.3 483.7,171.2 480.6,171.3 477.9,170.1 475.8,170.8 474.5,172.4 472.5,174.1 471.9,176.7 471.3,179.9 471.6,183.1 474.3,182.3 477.2,182.7 480.1,182.9 482.9,182.5 485.7,181.6 487.9,180.0 487.9,179.9 487.1,175.3 487.8,175.2Z" fill="#ffb299"/>
<path d="M539.6,172.8 542.8,174.0 545.3,171.7 547.0,168.7 545.6,166.4 543.7,164.4 541.9,162.3 539.4,164.6 536.4,166.3 535.8,169.6 536.2,172.8Z" fill="#ffffff"/>
<path d="M562.1,169.4 561.8,166.2 559.9,164.6 558.3,162.8 555.8,163.8 553.2,164.1 551.8,166.1 550.6,168.3 553.1,170.7 554.1,173.6 557.7,172.0 561.6,172.5Z" fill="#ffffff"/>
<path d="M570.6,175.0 571.0,172.1 570.7,169.3 569.6,166.6 569.1,163.8 566.5,164.0 564.3,165.7 561.8,166.2 562.1,169.4 561.6,172.5 567.8,173.2 570.6,175.1Z" fill="#eae4f2"/>
<path d="M575.5,175.6 576.7,177.2 578.9,175.5 581.4,174.4 584.2,174.4 586.5,173.0 585.1,170.4 583.2,168.0 582.5,164.9 580.0,165.3 577.6,166.2 576.8,169.4 574.5,172.0 573.6,175.2Z" fill="#ffffff"/>
<path d="M583.2,168.0 585.1,170.4 586.5,173.0 588.3,173.9 590.6,172.6 592.1,170.3 592.5,167.5 594.6,165.7 593.6,163.2 591.7,161.3 588.8,159.9 585.5,159.8 584.3,160.5 582.8,162.5 582.5,164.9Z" fill="#ffffff"/>
<path d="M596.6,157.6 594.0,159.3 591.7,161.3 593.6,163.2 594.6,165.7 597.0,165.5 599.3,166.1 601.6,165.8 602.2,163.1 604.9,161.4 605.4,158.7 604.7,157.4 603.9,155.6 602.0,155.1 600.0,155.2 598.1,154.8Z" fill="#ffe2d8"/>
<path d="M438.7,149.6 438.3,146.1 436.3,143.3 434.3,140.5 434.3,140.2 427.3,147.4 428.5,153.5 433.9,158.9 435.6,157.4 438.4,155.3 440.4,152.6Z" fill="#ffded2"/>
<path d="M464.4,156.8 464.2,153.7 463.1,150.9 462.4,148.0 460.8,145.4 458.1,144.3 455.3,143.6 452.8,142.0 452.5,145.0 449.9,146.9 449.3,149.7 448.4,152.4 447.2,154.9 449.2,157.4 452.3,158.7 455.6,158.3 458.7,159.3 462.0,159.0 464.0,157.6Z" fill="#ffcab8"/>
<path d="M448.0,133.1 449.3,136.2 451.8,138.8 452.8,142.0 455.3,143.6 458.1,144.3 460.8,145.4 463.1,143.8 464.9,141.7 466.5,139.5 468.4,137.5 466.6,134.7 465.6,131.5 463.4,128.9 461.3,126.4 458.9,127.8 449.1,132.6 447.9,132.8Z" fill="#ffc6b2"/>
<path d="M440.3,200.6 438.4,197.9 437.8,194.5 435.3,192.1 435.1,188.6 432.2,186.4 432.2,185.6 424.6,184.8 424.5,184.8 424.7,186.5 425.2,189.7 424.3,192.9 425.6,196.1 425.6,199.3 425.2,202.5 428.8,202.3 432.2,202.5 435.6,203.8 438.7,202.8Z" fill="#ffded2"/>
<path d="M421.9,203.4 425.2,202.5 425.6,199.3 425.6,196.1 424.3,192.9 425.2,189.7 424.7,186.5 424.5,184.8 418.1,185.7 414.0,189.7 414.0,189.7 415.5,194.5 411.5,195.2 412.5,196.8 417.3,200.7 421.8,203.5Z" fill="#ffe2d8"/>
<path d="M432.2,186.4 435.1,188.6 435.3,192.1 437.8,194.5 438.4,197.9 440.3,200.6 443.2,198.7 446.4,197.4 449.5,195.8 450.1,193.9 450.0,191.9 449.8,188.7 447.6,186.2 446.8,183.1 446.6,182.3 446.1,184.4 439.8,184.0 432.6,185.7 432.2,185.6Z" fill="#ffe2d8"/>
<path d="M444.3,165.7 441.0,166.4 440.1,166.9 442.2,168.7 444.6,175.2 446.5,179.9 448.8,178.9 450.6,176.6 452.8,174.7 450.6,172.3 450.5,168.7 448.4,166.2 446.7,163.5Z" fill="#ffe2d8"/>
<path d="M471.6,183.1 471.3,179.9 471.9,176.7 469.1,175.6 467.6,172.8 464.6,172.1 462.3,170.4 460.5,168.0 458.9,170.4 456.8,172.5 454.7,174.4 457.0,176.4 459.0,178.8 461.9,180.3 463.4,183.1 466.7,184.2 470.2,184.2 471.0,184.1Z" fill="#ffad93"/>
<path d="M446.8,183.1 447.6,186.2 449.8,188.7 450.0,191.9 453.0,190.6 455.1,188.0 458.1,186.7 460.9,185.2 463.4,183.1 461.9,180.3 459.0,178.8 457.0,176.4 454.7,174.4 452.8,174.7 450.6,176.6 448.8,178.9 446.5,179.9 446.9,180.8 446.6,182.3Z" fill="#ffa88d"/>
<path d="M466.1,161.2 468.9,163.6 470.8,166.5 472.8,169.4 474.5,172.4 475.8,170.8 477.9,170.1 478.1,166.7 478.5,163.4 475.4,163.1 472.8,161.6 470.4,159.5 467.4,159.2 464.7,158.0Z" fill="#ffb7a0"/>
<path d="M535.8,169.6 536.4,166.3 533.8,164.5 531.4,162.5 529.3,164.3 528.2,166.9 526.1,168.8 527.3,171.5 528.9,174.0 530.7,174.9 532.5,175.5 534.3,174.1 536.2,172.8Z" fill="#fff1eb"/>
<path d="M530.7,174.9 528.9,174.0 525.9,174.7 523.9,177.3 520.7,177.5 518.3,179.4 518.5,180.6 520.4,182.5 522.6,184.1 524.3,186.2 524.5,186.3 528.1,185.9 528.5,185.4 530.9,183.9 533.0,182.0 532.9,178.7 532.5,175.5Z" fill="#ffded2"/>
<path d="M515.5,186.5 516.5,183.2 518.5,180.6 518.3,179.4 515.8,177.2 513.8,174.5 512.8,174.2 509.7,175.4 506.7,177.2 503.3,177.6 504.5,180.6 506.4,183.2 507.3,186.4 509.2,189.0 510.3,189.1 512.6,187.8 514.4,187.6Z" fill="#ffb7a0"/>
<path d="M506.5,190.7 509.2,189.0 507.3,186.4 506.4,183.2 504.5,180.6 503.3,177.6 502.8,177.5 499.7,181.6 498.4,182.2 498.6,185.0 497.3,188.2 496.3,191.4 496.8,192.0 499.6,191.9 502.3,192.3 503.8,192.9 503.8,192.8 506.0,191.5Z" fill="#ff9e81"/>
<path d="M482.9,182.5 480.1,182.9 477.2,182.7 474.3,182.3 471.6,183.1 471.0,184.1 471.5,186.9 473.2,189.1 475.2,191.1 476.2,193.7 478.7,194.1 481.3,194.3 483.8,194.4 485.7,191.8 487.0,191.0 487.1,190.4 487.8,186.6 486.0,184.6 485.7,181.6Z" fill="#ffa88d"/>
<path d="M486.9,210.7 486.9,207.7 488.4,205.4 487.5,202.5 485.4,200.2 485.5,197.0 483.8,194.4 481.3,194.3 478.7,194.1 476.2,193.7 474.5,196.0 474.6,199.1 473.6,201.7 472.7,204.4 471.0,206.8 473.6,208.4 476.9,208.5 479.6,209.8 482.4,211.0 484.9,212.8Z" fill="#ff9e81"/>
<path d="M466.4,208.1 468.8,208.0 471.0,206.8 472.7,204.4 473.6,201.7 474.6,199.1 474.5,196.0 476.2,193.7 475.2,191.1 473.2,189.1 471.5,186.9 471.0,184.1 470.2,184.2 467.8,186.7 466.7,190.0 465.3,193.2 463.1,195.8 461.2,198.6 458.9,201.2 461.3,203.0 461.6,206.4 464.0,208.3Z" fill="#ffd9cb"/>
<path d="M466.7,184.2 463.4,183.1 460.9,185.2 458.1,186.7 455.1,188.0 453.0,190.6 450.0,191.9 450.1,193.9 449.5,195.8 452.2,196.6 454.6,197.8 456.9,199.1 458.9,201.2 461.2,198.6 463.1,195.8 465.3,193.2 466.7,190.0 467.8,186.7 470.2,184.2Z" fill="#ffded2"/>
<path d="M464.0,208.3 461.6,206.4 461.3,203.0 458.9,201.2 456.9,199.1 454.6,197.8 452.2,196.6 449.5,195.8 446.4,197.4 443.2,198.7 440.3,200.6 438.7,202.8 440.5,205.5 442.8,207.9 443.0,211.5 445.7,213.7 447.1,216.6 449.9,217.0 452.3,214.6 455.1,213.0 458.4,212.2 461.0,210.3 463.9,208.6Z" fill="#ff9e81"/>
<path d="M444.6,218.3 447.1,216.6 445.7,213.7 443.0,211.5 442.8,207.9 440.5,205.5 438.7,202.8 435.6,203.8 435.0,205.7 436.6,205.2 438.3,206.8 434.5,208.8 434.5,210.8 433.5,214.1 431.7,217.3 431.2,220.8 434.1,221.6 437.1,220.4 440.0,221.1 442.9,220.8Z" fill="#ff9e81"/>
<path d="M435.6,203.8 432.2,202.5 428.8,202.3 425.2,202.5 421.9,203.4 421.8,203.5 423.7,204.6 430.1,207.1 435.0,205.7ZM428.5,223.0 431.2,220.8 431.7,217.3 433.5,214.1 434.5,210.8 434.5,208.8 431.7,210.2 425.3,211.7 419.7,212.3 421.2,217.6 426.0,222.5 427.5,223.7Z" fill="#ffd9cb"/>
<path d="M455.4,229.7 454.9,226.1 453.7,222.8 451.9,219.9 449.9,217.0 447.1,216.6 444.6,218.3 442.9,220.8 443.0,224.0 443.5,227.3 442.2,230.6 443.4,233.5 450.4,233.5 456.1,230.6Z" fill="#ff6d4c"/>
<path d="M442.2,230.6 443.5,227.3 443.0,224.0 442.9,220.8 440.0,221.1 437.1,220.4 434.1,221.6 431.2,220.8 428.5,223.0 427.5,223.7 432.2,227.4 441.9,233.5 443.4,233.5Z" fill="#ff8464"/>
<path d="M465.7,220.0 464.8,217.2 464.9,214.3 463.7,211.6 463.9,208.6 461.0,210.3 458.4,212.2 455.1,213.0 452.3,214.6 449.9,217.0 451.9,219.9 453.7,222.8 454.9,226.1 455.4,229.7 456.1,230.6 457.7,229.8 462.5,223.7 461.8,217.6 465.4,220.6Z" fill="#ffa387"/>
<path d="M484.9,212.8 482.4,211.0 479.6,209.8 476.9,208.5 473.6,208.4 471.0,206.8 468.8,208.0 466.4,208.1 464.0,208.3 463.9,208.6 463.7,211.6 464.9,214.3 464.8,217.2 465.7,220.0 467.8,222.0 470.5,222.7 472.9,223.9 475.2,221.8 478.2,220.6 480.8,218.9 483.7,217.5 486.0,215.2Z" fill="#ffb7a0"/>
<path d="M482.7,228.1 483.3,224.9 484.2,221.7 485.1,218.6 486.2,215.4 486.0,215.2 483.7,217.5 480.8,218.9 478.2,220.6 475.2,221.8 472.9,223.9 473.7,225.5 475.8,225.8 482.4,230.2Z" fill="#ffb299"/>
<path d="M500.7,204.2 497.9,202.6 494.8,201.6 492.3,202.2 490.5,204.0 488.4,205.4 486.9,207.7 486.9,210.7 484.9,212.8 486.0,215.2 486.2,215.4 488.9,216.9 491.9,217.7 494.5,219.5 497.5,220.2 501.0,220.1 504.0,218.4 506.1,216.5 507.0,213.8 507.2,211.4 507.2,211.1 502.5,208.0 501.3,204.5Z" fill="#ffffff"/>
<path d="M506.1,216.5 504.0,218.4 505.3,221.0 508.1,222.4 509.2,225.2 510.5,227.8 512.9,229.6 515.2,229.6 517.4,229.6 519.3,227.7 520.6,225.2 523.4,224.3 524.9,222.1 523.8,219.6 521.5,218.1 520.2,215.7 518.1,213.9 515.3,214.5 512.6,213.5 509.8,214.3 507.0,213.8Z" fill="#ffd9cb"/>
<path d="M495.1,236.1 496.2,237.4 499.5,238.5 503.0,238.5 506.4,239.1 507.3,238.8 508.2,236.2 509.7,234.0 512.2,232.3 512.9,229.6 510.5,227.8 509.2,225.2 508.1,222.4 505.3,221.0 504.0,218.4 501.0,220.1 497.5,220.2 497.2,223.4 497.3,226.5 496.8,229.6 496.0,232.7 494.9,235.6Z" fill="#d4c9e6"/>
<path d="M485.7,231.7 488.7,233.1 492.0,233.8 494.9,235.6 496.0,232.7 496.8,229.6 497.3,226.5 497.2,223.4 497.5,220.2 494.5,219.5 491.9,217.7 488.9,216.9 486.2,215.4 485.1,218.6 484.2,221.7 483.3,224.9 482.7,228.1 482.4,230.2 483.3,230.8 483.0,231.5Z" fill="#ffe2d8"/>
<path d="M525.0,222.1 524.9,222.1 523.4,224.3 520.6,225.2 519.3,227.7 517.4,229.6 519.6,231.8 521.6,234.1 523.0,237.0 525.9,236.2 528.9,235.6 531.6,234.0 534.8,234.5 537.7,233.3 538.0,232.4 537.8,230.6 535.3,228.7 533.1,226.5 529.9,225.8 528.9,224.5 527.8,224.4 527.3,223.0Z" fill="#ffffff"/>
<path d="M530.1,247.0 532.3,245.0 534.2,242.6 535.7,239.9 538.2,238.2 538.7,235.7 537.7,233.3 534.8,234.5 531.6,234.0 528.9,235.6 525.9,236.2 523.0,237.0 523.2,239.8 522.6,242.5 521.4,245.0 523.2,247.0 525.5,248.0 527.8,248.9Z" fill="#ffffff"/>
<path d="M522.6,242.5 523.2,239.8 523.0,237.0 521.6,234.1 519.6,231.8 517.4,229.6 515.2,229.6 512.9,229.6 512.2,232.3 509.7,234.0 508.2,236.2 507.3,238.8 509.3,241.1 511.4,243.2 513.5,245.4 516.3,246.7 518.8,245.7 521.4,245.0Z" fill="#ffe2d8"/>
<path d="M479.7,244.9 481.3,247.4 482.3,250.2 484.7,250.6 487.4,249.2 489.4,246.8 492.6,246.2 494.8,244.1 496.3,240.9 496.2,237.4 495.1,236.1 492.4,238.3 489.0,239.2 486.0,241.0 483.3,243.1 480.0,244.2Z" fill="#ffd9cb"/>
<path d="M503.1,250.0 504.0,247.3 505.0,244.6 505.0,241.7 506.4,239.1 503.0,238.5 499.5,238.5 496.2,237.4 496.3,240.9 494.8,244.1 496.4,246.7 497.3,249.6 499.0,252.1 500.9,252.8 503.0,252.9Z" fill="#ffe7de"/>
<path d="M525.5,248.0 523.2,247.0 521.4,245.0 518.8,245.7 516.3,246.7 514.7,249.1 514.0,251.9 515.7,254.3 516.8,256.9 518.5,259.3 519.2,262.2 522.0,262.4 524.6,263.1 525.8,260.4 527.3,257.8 528.0,254.9 529.1,252.1 527.8,248.9Z" fill="#eae4f2"/>
<path d="M503.9,257.4 504.1,260.2 505.4,263.1 504.8,266.0 506.8,267.1 508.9,268.0 511.3,266.1 514.5,265.7 516.8,263.9 519.2,262.2 518.5,259.3 516.8,256.9 515.7,254.3 514.0,251.9 511.0,253.0 507.7,252.9 504.8,254.5Z" fill="#ffded2"/>
<path d="M503.0,252.9 500.9,252.8 499.0,252.1 496.3,253.1 494.7,255.6 492.2,256.7 491.5,259.5 492.6,262.2 492.2,265.0 493.9,266.5 494.1,268.8 496.7,267.9 499.5,267.8 502.0,266.1 504.8,266.0 505.4,263.1 504.1,260.2 503.9,257.4 504.8,254.5Z" fill="#ffe7de"/>
<path d="M489.2,255.3 486.9,253.1 484.7,250.6 482.3,250.2 481.5,253.1 479.1,255.0 477.9,257.6 478.2,260.2 481.1,260.9 483.7,262.4 486.4,263.8 489.6,263.6 492.2,265.0 492.6,262.2 491.5,259.5 492.2,256.7Z" fill="#ffece5"/>
<path d="M538.5,254.1 535.5,252.5 532.3,252.5 529.1,252.1 528.0,254.9 527.3,257.8 525.8,260.4 524.6,263.1 527.3,265.1 528.6,268.1 530.5,267.4 532.5,266.9 534.7,264.4 537.2,262.3 539.3,259.7 539.6,259.5 536.6,256.0 539.1,254.1Z" fill="#ffe7de"/>
<path d="M482.2,273.3 484.9,272.5 487.5,270.8 490.3,270.4 493.2,270.6 494.1,268.8 493.9,266.5 492.2,265.0 489.6,263.6 486.4,263.8 483.7,262.4 481.1,260.9 478.2,260.2 477.6,261.1 478.9,267.9 480.0,273.0Z" fill="#ffe2d8"/>
<path d="M548.8,168.0 547.0,168.7 545.3,171.7 542.8,174.0 543.4,175.6 544.2,173.9 546.7,170.1 550.5,175.2 554.1,173.6 553.1,170.7 550.6,168.3Z" fill="#ffffff"/>
<path d="M480.4,238.5 480.3,241.3 480.0,244.2 483.3,243.1 486.0,241.0 489.0,239.2 492.4,238.3 495.1,236.1 494.9,235.6 492.0,233.8 488.7,233.1 485.7,231.7 483.0,231.5 480.8,237.1 480.0,237.3Z" fill="#ffded2"/>
<path d="M497.3,249.6 496.4,246.7 494.8,244.1 492.6,246.2 489.4,246.8 487.4,249.2 484.7,250.6 486.9,253.1 489.2,255.3 492.2,256.7 494.7,255.6 496.3,253.1 499.0,252.1Z" fill="#ffe2d8"/>
<path d="M507.7,252.9 511.0,253.0 514.0,251.9 514.7,249.1 516.3,246.7 513.5,245.4 511.4,243.2 509.3,241.1 507.3,238.8 506.4,239.1 505.0,241.7 505.0,244.6 504.0,247.3 503.1,250.0 503.0,252.9 504.8,254.5Z" fill="#ffece5"/>
<path d="M545.6,248.3 543.8,245.7 542.1,243.1 540.5,240.4 538.2,238.2 535.7,239.9 534.2,242.6 532.3,245.0 530.1,247.0 527.8,248.9 529.1,252.1 532.3,252.5 535.5,252.5 538.5,254.1 539.1,254.1 541.7,252.2 545.2,249.4Z" fill="#ffffff"/>
<path d="M539.3,259.7 537.2,262.3 534.7,264.4 532.5,266.9 535.8,267.5 538.8,269.4 542.1,270.2 545.0,272.2 548.5,272.7 549.3,269.7 549.9,268.7 549.2,268.6 542.9,263.5 539.6,259.5Z" fill="#fff5f2"/>
<path d="M493.2,275.6 493.1,273.1 493.2,270.6 490.3,270.4 487.5,270.8 484.9,272.5 482.2,273.3 480.0,273.0 481.5,280.5 483.6,284.6 485.9,282.7 488.5,280.7 492.0,280.3 494.3,278.0Z" fill="#ffffff"/>
<path d="M502.0,266.1 499.5,267.8 496.7,267.9 494.1,268.8 493.2,270.6 493.1,273.1 493.2,275.6 494.3,278.0 496.1,280.6 498.2,282.9 500.4,285.3 503.1,284.0 506.1,284.0 509.0,284.1 511.7,282.8 512.7,280.6 511.6,277.5 511.3,274.2 509.4,271.3 508.9,268.0 506.8,267.1 504.8,266.0Z" fill="#efeaf6"/>
<path d="M509.4,271.3 511.3,274.2 511.6,277.5 512.7,280.6 515.5,278.8 518.7,278.2 522.1,278.0 524.7,275.6 527.9,274.9 527.6,271.4 528.6,268.1 527.3,265.1 524.6,263.1 522.0,262.4 519.2,262.2 516.8,263.9 514.5,265.7 511.3,266.1 508.9,268.0Z" fill="#ffe7de"/>
<path d="M528.8,276.1 532.2,276.7 535.8,276.5 539.1,277.4 542.7,277.3 546.0,278.6 548.2,276.6 548.1,274.6 548.5,272.7 545.0,272.2 542.1,270.2 538.8,269.4 535.8,267.5 532.5,266.9 530.5,267.4 528.6,268.1 527.6,271.4 527.9,274.9Z" fill="#ffded2"/>
<path d="M562.2,267.8 561.0,267.5 554.7,269.5 549.9,268.7 549.3,269.7 548.5,272.7 548.1,274.6 548.2,276.6 550.6,278.0 553.0,279.5 555.7,280.5 557.6,282.8 560.2,283.8 561.5,281.6 563.1,279.6 564.5,277.4 564.5,277.0 561.0,280.5 553.4,279.2 548.4,275.5 554.7,270.4 561.0,267.9 562.2,268.1Z" fill="#c5b5dc"/>
<path d="M499.6,287.6 500.4,285.3 498.2,282.9 496.1,280.6 494.3,278.0 492.0,280.3 488.5,280.7 485.9,282.7 483.6,284.6 485.5,288.6 486.3,289.2 487.4,291.5 488.7,293.8 490.8,292.0 493.8,292.4 495.8,290.3 498.4,289.8Z" fill="#eae4f2"/>
<path d="M506.1,303.3 508.5,303.7 510.8,301.1 512.6,298.2 514.8,295.5 517.2,292.9 515.5,290.6 513.8,288.2 512.9,285.4 511.7,282.8 509.0,284.1 506.1,284.0 503.1,284.0 500.4,285.3 499.6,287.6 498.4,289.8 500.4,292.6 501.1,296.0 502.4,299.1 504.0,302.1Z" fill="#ffad93"/>
<path d="M511.7,282.8 512.9,285.4 513.8,288.2 515.5,290.6 517.2,292.9 520.0,293.2 522.8,293.7 525.5,294.6 526.8,291.5 528.8,288.9 530.6,286.2 530.2,282.8 529.0,279.5 528.8,276.1 527.9,274.9 524.7,275.6 522.1,278.0 518.7,278.2 515.5,278.8 512.7,280.6Z" fill="#ffded2"/>
<path d="M529.0,279.5 530.2,282.8 530.6,286.2 533.6,286.9 536.6,287.8 539.7,287.3 542.8,287.6 543.6,284.5 544.2,281.3 546.0,278.6 542.7,277.3 539.1,277.4 535.8,276.5 532.2,276.7 528.8,276.1Z" fill="#ffa387"/>
<path d="M528.8,288.9 526.8,291.5 525.5,294.6 527.5,296.8 528.9,299.4 531.8,298.7 534.8,298.6 537.8,299.7 540.8,299.9 543.8,299.9 546.8,299.4 545.7,296.5 544.6,293.6 544.3,290.4 542.8,287.6 539.7,287.3 536.6,287.8 533.6,286.9 530.6,286.2Z" fill="#ffe2d8"/>
<path d="M557.6,282.8 555.7,280.5 553.0,279.5 550.6,278.0 548.2,276.6 546.0,278.6 544.2,281.3 543.6,284.5 542.8,287.6 544.3,290.4 544.6,293.6 545.7,296.5 546.8,299.4 547.6,300.1 548.0,300.0 549.6,297.2 551.8,295.0 554.7,293.4 556.4,290.8 558.5,288.5 560.9,286.5 560.2,283.8Z" fill="#ffd9cb"/>
<path d="M560.9,286.5 558.5,288.5 556.4,290.8 554.7,293.4 551.8,295.0 549.6,297.2 548.0,300.0 550.8,301.4 553.7,302.8 556.9,303.4 560.3,303.4 562.8,305.8 566.1,305.9 569.0,307.3 568.9,303.8 569.1,300.3 568.7,296.9 566.8,293.6 566.9,292.0 561.0,288.1 561.6,286.9Z" fill="#ffd9cb"/>
<path d="M495.4,305.5 498.6,305.2 501.2,303.4 504.0,302.1 502.4,299.1 501.1,296.0 500.4,292.6 498.4,289.8 495.8,290.3 493.8,292.4 490.8,292.0 488.7,293.8 488.4,294.6 491.6,303.2 492.8,306.5Z" fill="#ffded2"/>
<path d="M514.8,295.5 512.6,298.2 510.8,301.1 508.5,303.7 509.4,306.6 510.8,309.3 513.7,309.5 515.9,311.5 518.6,312.3 521.2,313.3 523.6,311.8 526.2,310.8 526.5,307.9 527.9,305.2 527.6,302.2 528.9,299.4 527.5,296.8 525.5,294.6 522.8,293.7 520.0,293.2 517.2,292.9Z" fill="#ff9e81"/>
<path d="M499.1,316.5 502.1,317.9 505.2,317.4 507.5,315.0 508.5,311.7 510.8,309.3 509.4,306.6 508.5,303.7 506.1,303.3 504.0,302.1 501.2,303.4 498.6,305.2 495.4,305.5 492.8,306.5 495.4,313.3 497.6,316.7Z" fill="#fff1eb"/>
<path d="M543.8,299.9 540.8,299.9 537.8,299.7 534.8,298.6 531.8,298.7 528.9,299.4 527.6,302.2 527.9,305.2 526.5,307.9 526.2,310.8 529.4,311.6 532.0,313.5 534.5,315.5 537.4,316.9 539.9,314.8 542.8,313.4 545.4,311.6 546.8,308.9 545.7,305.7 547.3,303.0 547.6,300.1 546.8,299.4Z" fill="#ffd4c5"/>
<path d="M569.0,307.3 566.1,305.9 562.8,305.8 560.3,303.4 556.9,303.4 553.7,302.8 550.8,301.4 548.0,300.0 547.6,300.1 547.3,303.0 545.7,305.7 546.8,308.9 545.4,311.6 548.1,313.2 550.5,315.0 552.0,317.9 554.6,319.7 557.9,319.0 561.2,317.8 564.1,315.8 564.3,315.8 565.5,309.7 569.2,307.5Z" fill="#ffd9cb"/>
<path d="M508.5,311.7 507.5,315.0 505.2,317.4 505.1,320.1 506.6,322.3 509.7,323.7 513.2,324.1 516.4,325.2 518.4,324.4 520.3,323.5 521.2,320.2 520.9,316.7 521.2,313.3 518.6,312.3 515.9,311.5 513.7,309.5 510.8,309.3Z" fill="#ffded2"/>
<path d="M523.6,311.8 521.2,313.3 520.9,316.7 521.2,320.2 520.3,323.5 523.0,325.1 524.7,327.8 527.0,329.8 529.8,329.5 531.9,327.7 534.6,327.0 536.8,325.4 536.2,322.5 536.8,319.7 537.4,316.9 534.5,315.5 532.0,313.5 529.4,311.6 526.2,310.8Z" fill="#f4f1f9"/>
<path d="M542.8,313.4 539.9,314.8 537.4,316.9 536.8,319.7 536.2,322.5 536.8,325.4 538.9,327.2 540.9,329.1 543.7,328.5 546.5,329.5 549.4,329.6 552.2,329.1 553.7,326.2 554.3,323.0 554.6,319.7 552.0,317.9 550.5,315.0 548.1,313.2 545.4,311.6Z" fill="#ff997b"/>
<path d="M564.1,315.8 561.2,317.8 557.9,319.0 554.6,319.7 554.3,323.0 553.7,326.2 552.2,329.1 552.8,330.0 555.1,331.6 557.9,332.1 559.9,333.3 559.7,329.7 561.4,329.7 563.1,322.0 564.3,315.8Z" fill="#ffe2d8"/>
<path d="M514.8,335.8 517.5,337.0 519.7,339.0 521.4,336.8 523.6,335.1 526.2,333.9 526.3,331.8 527.0,329.8 524.7,327.8 523.0,325.1 520.3,323.5 518.4,324.4 516.4,325.2 515.2,328.3 513.3,331.0 512.4,334.2Z" fill="#ffb7a0"/>
<path d="M536.5,339.7 539.9,338.5 540.0,335.3 540.8,332.3 540.9,329.1 538.9,327.2 536.8,325.4 534.6,327.0 531.9,327.7 529.8,329.5 527.0,329.8 526.3,331.8 526.2,333.9 528.5,335.6 529.6,337.3 529.7,337.2 534.7,340.2 534.4,341.7Z" fill="#ffe7de"/>
<path d="M542.2,340.2 544.6,341.8 547.4,342.8 550.1,340.8 551.3,338.3 551.9,335.5 551.3,332.5 552.8,330.0 552.2,329.1 549.4,329.6 546.5,329.5 543.7,328.5 540.9,329.1 540.8,332.3 540.0,335.3 539.9,338.5Z" fill="#ffded2"/>
<path d="M551.3,332.5 551.9,335.5 551.3,338.3 550.1,340.8 553.3,342.2 556.6,343.0 558.2,340.8 560.2,338.8 561.2,336.2 561.4,336.0 560.0,336.0 559.9,333.3 557.9,332.1 555.1,331.6 552.8,330.0Z" fill="#ffe7de"/>
<path d="M534.0,345.3 532.8,348.3 535.8,349.8 539.2,350.6 542.1,352.3 545.5,352.9 546.4,352.0 546.5,348.9 546.6,345.8 547.4,342.8 544.6,341.8 542.2,340.2 539.9,338.5 536.5,339.7 534.4,341.7 534.0,343.8Z" fill="#efeaf6"/>
<path d="M546.6,345.8 546.5,348.9 546.4,352.0 549.5,352.5 552.5,352.3 555.6,352.1 558.6,352.4 561.6,352.6 560.0,350.5 559.0,347.9 558.4,345.2 556.6,343.0 553.3,342.2 550.1,340.8 547.4,342.8Z" fill="#ffe2d8"/>
<path d="M590.6,260.5 593.7,262.4 595.3,265.5 598.1,263.6 601.6,263.3 604.6,261.8 605.2,259.8 606.9,258.5 605.1,256.3 603.1,254.4 600.4,253.1 599.1,250.5 597.0,252.9 593.6,253.4 591.6,256.0 588.8,257.4 588.8,257.6 588.8,257.6Z" fill="#ffe2d8"/>
<path d="M596.4,272.2 598.1,275.4 600.6,277.8 601.2,278.2 606.0,272.6 607.2,271.8 607.0,271.3 606.1,268.2 606.1,264.8 604.6,261.8 601.6,263.3 598.1,263.6 595.3,265.5 593.8,267.6 593.5,270.1Z" fill="#ffe7de"/>
<path d="M620.1,260.8 617.3,259.3 614.2,258.6 611.3,257.4 609.1,258.2 606.9,258.5 605.2,259.8 604.6,261.8 606.1,264.8 606.1,268.2 607.0,271.3 607.2,271.8 613.2,267.7 620.1,260.8Z" fill="#eae4f2"/>
<path d="M591.6,256.0 593.6,253.4 597.0,252.9 599.1,250.5 599.5,248.4 598.5,246.5 596.6,244.3 593.7,243.8 591.3,242.6 586.3,247.7 586.3,247.7 588.8,255.3 588.8,257.4 588.8,257.4Z" fill="#ffe2d8"/>
<path d="M601.3,244.8 598.5,246.5 599.5,248.4 599.1,250.5 600.4,253.1 603.1,254.4 605.1,256.3 606.9,258.5 609.1,258.2 611.3,257.4 611.1,254.5 611.8,251.9 612.8,249.3 613.2,246.9 606.1,243.3 602.4,243.3Z" fill="#ffe7de"/>
<path d="M612.8,249.3 611.8,251.9 611.1,254.5 611.3,257.4 614.2,258.6 617.3,259.3 620.1,260.8 620.1,260.8 620.6,260.4 626.6,255.4 628.2,254.3 628.0,253.9 625.1,251.7 624.6,248.1 622.1,245.8 621.0,243.4 613.6,247.1 613.2,246.9Z" fill="#ffe2d8"/>
<path d="M583.2,289.8 586.2,290.9 589.3,290.7 591.0,291.1 592.6,288.5 594.3,286.5 592.5,284.3 591.2,281.4 589.2,279.0 586.9,276.8 586.0,275.8 581.2,280.5 583.0,289.7Z" fill="#f4f1f9"/>
<path d="M600.6,277.8 598.1,275.4 596.4,272.2 593.5,270.1 590.2,270.8 587.5,272.7 587.2,272.9 586.3,275.5 586.0,275.8 586.9,276.8 589.2,279.0 591.2,281.4 592.5,284.3 594.3,286.5 598.7,281.2 601.2,278.2Z" fill="#ffe7de"/>
<path d="M510.6,334.3 512.4,334.2 513.3,331.0 515.2,328.3 516.4,325.2 513.2,324.1 509.7,323.7 506.6,322.3 504.6,325.2 504.1,327.6 504.4,328.1 509.8,334.4Z" fill="#ffd4c5"/>
<path d="M561.2,336.2 560.2,338.8 558.2,340.8 556.6,343.0 558.4,345.2 559.0,347.9 560.0,350.5 561.6,352.6 563.6,354.5 565.8,345.3 565.8,337.5 562.6,334.6 562.6,334.6 564.2,336.0 561.4,336.0Z" fill="#ffd9cb"/>
<path d="M531.4,350.4 530.1,350.8 529.7,352.3 529.0,352.3 529.1,354.0 528.3,356.9 528.4,359.8 531.0,360.8 532.6,363.1 535.3,364.1 537.2,366.0 539.3,364.5 542.0,364.2 544.0,362.7 545.4,359.5 545.7,356.2 545.5,352.9 542.1,352.3 539.2,350.6 535.8,349.8 532.8,348.3Z" fill="#eae4f2"/>
<path d="M545.7,356.2 545.4,359.5 544.0,362.7 546.0,364.6 548.5,365.5 551.0,366.7 554.2,366.7 556.9,364.6 560.2,365.2 560.6,365.0 562.8,357.9 563.6,354.5 561.6,352.6 558.6,352.4 555.6,352.1 552.5,352.3 549.5,352.5 546.4,352.0 545.5,352.9Z" fill="#ffad93"/>
<path d="M516.6,357.7 518.0,359.3 520.6,360.4 520.7,361.0 521.4,361.3 524.4,361.8 526.5,361.1 528.4,359.8 528.3,356.9 529.1,354.0 529.0,352.3 522.6,352.3 515.8,349.8 515.6,351.1 514.0,354.1 513.5,357.4 513.7,357.5Z" fill="#ffece5"/>
<path d="M522.4,375.1 524.4,377.0 526.9,377.1 529.7,375.2 533.2,374.9 535.8,372.9 536.9,370.7 537.4,368.4 537.2,366.0 535.3,364.1 532.6,363.1 531.0,360.8 528.4,359.8 526.5,361.1 524.4,361.8 523.0,364.9 521.6,367.9 521.5,368.0 521.6,368.5 521.0,375.0Z" fill="#dfd6ec"/>
<path d="M542.0,364.2 539.3,364.5 537.2,366.0 537.4,368.4 536.9,370.7 535.8,372.9 537.0,375.7 540.0,377.2 541.5,379.8 544.7,380.0 547.8,378.5 550.1,375.9 549.7,372.8 550.0,369.7 551.0,366.7 548.5,365.5 546.0,364.6 544.0,362.7Z" fill="#fff1eb"/>
<path d="M560.2,365.2 556.9,364.6 554.2,366.7 551.0,366.7 550.0,369.7 549.7,372.8 550.1,375.9 553.6,376.9 556.2,379.4 558.6,380.8 560.0,380.6 560.0,366.9 560.6,365.0Z" fill="#ffffff"/>
<path d="M527.4,378.9 527.7,377.6 533.7,375.6 540.8,378.6 540.5,380.9 541.5,379.8 540.0,377.2 537.0,375.7 535.8,372.9 533.2,374.9 529.7,375.2 526.9,377.1ZM530.3,390.4 532.5,391.2 534.8,390.9 537.2,388.6 537.3,388.2 535.8,389.7 529.6,388.8Z" fill="#a48ec9"/>
<path d="M536.7,393.7 539.8,395.1 541.4,398.1 541.6,398.2 542.5,396.3 547.4,392.4 553.2,395.3 553.7,394.6 552.1,391.7 551.8,391.0 550.3,390.4 549.7,387.3 548.3,386.0 546.4,383.1 544.7,380.0 541.5,379.8 540.5,380.9 539.8,385.7 537.3,388.2 537.2,388.6 534.8,390.9Z" fill="#e4ddef"/>
<path d="M541.4,398.1 539.8,395.1 536.7,393.7 534.8,390.9 532.5,391.2 530.3,390.4 529.7,390.8 528.7,393.8 527.0,396.6 526.0,398.2 525.7,400.8 526.5,402.8 527.2,403.0 529.8,405.3 532.8,406.4 536.2,406.6 536.8,407.0 539.6,402.2 541.6,398.2Z" fill="#c5b5dc"/>
<path d="M552.1,391.7 553.7,394.6 555.1,392.4 551.8,391.0ZM556.2,379.4 553.6,376.9 550.1,375.9 547.8,378.5 544.7,380.0 546.4,383.1 548.3,386.0 549.7,387.3 549.4,385.5 553.2,381.6 558.6,380.8Z" fill="#fff5f2"/>
<path d="M603.2,145.8 601.7,148.8 602.7,152.0 602.0,155.1 603.9,155.6 604.7,157.4 606.3,154.6 608.2,152.0 610.2,149.5 612.4,147.1 609.2,145.9 606.5,143.6 603.1,142.6Z" fill="#ffd9cb"/>
<path d="M612.4,147.1 610.2,149.5 608.2,152.0 606.3,154.6 604.7,157.4 605.4,158.7 608.2,158.6 610.7,159.8 613.2,160.8 613.5,160.3 612.0,159.3 615.8,154.3 613.2,149.2 612.8,147.1Z" fill="#ffe2d8"/>
<path d="M543.6,152.1 547.0,153.1 549.3,155.7 551.7,153.8 554.0,152.0 551.3,149.9 548.6,147.8 546.2,145.4 545.0,147.6 542.9,148.7 540.9,150.0Z" fill="#d4c9e6"/>
<path d="M615.2,163.1 613.2,160.8 610.7,159.8 608.2,158.6 605.4,158.7 604.9,161.4 602.2,163.1 601.6,165.8 602.7,168.0 603.0,170.4 605.6,171.2 606.9,172.0 610.7,168.2 616.6,165.7Z" fill="#eae4f2"/>
<path d="M592.5,167.5 592.1,170.3 590.6,172.6 593.7,173.8 596.9,174.0 600.2,174.3 602.0,172.7 603.0,170.4 602.7,168.0 601.6,165.8 599.3,166.1 597.0,165.5 594.6,165.7Z" fill="#ffe2d8"/>
<path d="M574.5,172.0 576.8,169.4 577.6,166.2 575.4,164.5 572.5,164.2 570.5,162.2 569.1,163.8 569.6,166.6 570.7,169.3 571.0,172.1 570.6,175.0 573.6,175.2Z" fill="#ffd9cb"/>
<path d="M552.0,161.9 550.4,159.9 548.8,158.0 546.2,158.4 544.4,160.3 542.1,161.4 541.9,162.3 543.7,164.4 545.6,166.4 547.0,168.7 548.8,168.0 550.6,168.3 551.8,166.1 553.2,164.1Z" fill="#ffffff"/>
<path d="M577.4,179.9 578.5,182.6 578.5,183.2 589.2,180.8 589.9,181.2 589.6,179.8 589.6,176.7 588.3,173.9 586.5,173.0 584.2,174.4 581.4,174.4 578.9,175.5 576.7,177.2Z" fill="#eae4f2"/>
<path d="M594.8,182.3 598.2,182.0 600.4,179.9 600.2,177.1 600.2,174.3 596.9,174.0 593.7,173.8 590.6,172.6 588.3,173.9 589.6,176.7 589.6,179.8 589.9,181.2 593.6,183.4Z" fill="#ffded2"/>
<path d="M603.5,181.1 600.4,179.9 598.2,182.0 594.8,182.3 593.6,183.4 595.6,184.6 599.3,190.9 603.1,188.4 604.2,181.8Z" fill="#ffc1ac"/>
<path d="M540.1,217.9 540.3,219.6 541.7,223.1 543.1,223.1 544.3,222.6 547.4,221.6 550.3,220.9 551.1,219.4 551.6,217.8 551.3,214.5 552.1,212.8 551.4,210.7 551.0,210.4 549.5,209.4 546.5,210.5 543.4,210.9 540.5,212.3 540.0,212.3 539.2,216.1Z" fill="#ffcab8"/>
<path d="M623.2,219.8 624.1,217.0 623.4,214.2 620.9,213.0 613.6,213.0 611.1,214.5 611.3,216.8 610.7,219.9 611.1,220.6 618.7,219.3 623.4,220.7Z" fill="#eae4f2"/>
<path d="M638.1,229.4 641.3,229.0 640.2,224.4 636.4,219.3 635.5,219.1 633.6,220.4 630.6,220.9 629.2,222.7 631.3,226.9 635.2,229.8Z" fill="#ffd4c5"/>
<path d="M538.0,232.4 537.7,233.3 538.7,235.7 538.2,238.2 540.5,240.4 542.1,243.1 543.8,245.7 545.6,248.3 546.6,248.2 548.0,247.1 545.5,240.8 540.4,233.2 540.4,233.2Z" fill="#ffefe9"/>
<path d="M592.9,236.6 593.7,234.1 593.4,233.2 592.6,236.8Z" fill="#ffd0bf"/>
<path d="M514.0,354.1 515.6,351.1 515.8,349.8 514.5,349.3 510.5,351.3 513.5,357.4 513.5,357.4Z" fill="#ffe3d8"/>
<path d="M477.9,257.6 479.1,255.0 481.5,253.1 482.3,250.2 481.3,247.4 479.7,244.9 477.5,245.0 476.4,255.3 476.7,257.0Z" fill="#ffc1ac"/>
<path d="M630.6,220.9 633.6,220.4 635.5,219.1 630.1,218.1 628.8,221.9 629.2,222.7ZM623.4,214.2 624.1,217.0 623.2,219.8 623.4,220.7 627.5,221.9 628.8,216.8 624.0,213.2Z" fill="#ffe6dc"/>
<path d="M507.2,211.4 507.0,213.8 509.8,214.3 512.6,213.5 515.3,214.5 518.1,213.9 518.2,213.7 515.2,211.8 510.1,213.0 507.2,211.1Z" fill="#ffe6dd"/>
<path d="M566.8,293.6 568.7,296.9 569.1,300.3 568.9,303.8 569.0,307.3 569.2,307.5 574.3,304.5 574.7,304.1 573.6,300.7 568.6,293.1 566.9,292.0Z" fill="#ffe3d9"/>
<path d="M564.5,277.4 563.1,279.6 561.5,281.6 560.2,283.8 560.9,286.5 561.6,286.9 564.8,280.5 565.7,276.9Z" fill="#ffded2"/>
<path d="M524.3,186.2 522.6,184.1 520.4,182.5 518.5,180.6 516.5,183.2 515.5,186.5 514.4,187.6 522.7,186.5 524.5,186.3Z" fill="#f7f5fa"/>
<path d="M635.0,248.5 625.0,247.1 621.2,243.3 621.0,243.4 622.1,245.8 624.6,248.1 625.1,251.7 628.0,253.9 628.2,254.3 634.9,249.5Z" fill="#ffdbcf"/>
<path d="M529.9,225.8 533.1,226.5 535.3,228.7 537.8,230.6 538.7,228.2 538.7,228.2 537.9,225.7 528.9,224.5ZM525.0,222.1 527.3,223.0 526.3,220.7ZM540.1,217.9 539.2,216.1 539.1,216.8 540.3,219.6Z" fill="#ffece5"/>
<path d="M600.2,177.1 600.4,179.9 603.5,181.1 604.2,181.8 604.4,180.8 605.7,173.2 606.9,172.0 605.6,171.2 603.0,170.4 602.0,172.7 600.2,174.3Z" fill="#ffe5db"/>
<path d="M527.0,396.6 528.7,393.8 529.7,390.8 526.5,390.1 526.0,390.0 526.7,392.7 526.0,398.2Z" fill="#fff8f6"/>
<path d="M549.5,209.4 551.0,210.4 551.4,210.7 550.5,208.0 548.9,208.4Z" fill="#ffe5dc"/>
<path d="M521.6,367.9 523.0,364.9 524.4,361.8 521.4,361.3 520.7,361.0 521.5,368.0ZM516.6,357.7 513.7,357.5 518.0,359.3Z" fill="#ffdcd0"/>
<path d="M545.6,248.3 545.2,249.4 546.6,248.2Z" fill="#ffede7"/>
<path d="M479.0,106.1 481.5,105.8 479.0,104.5 478.3,105.6 478.2,105.9ZM489.3,105.7 489.8,105.1 488.1,105.5Z" fill="#fff6f2"/>
<path d="M593.7,243.8 596.6,244.3 598.5,246.5 601.3,244.8 602.4,243.3 597.2,243.3 593.7,234.1 592.9,236.6 592.6,236.8 591.3,242.6 591.3,242.6Z" fill="#ffeee8"/>
<path d="M562.5,121.7 564.0,122.4 563.4,120.6 564.8,118.4 561.6,119.3 560.6,120.8Z" fill="#ffc4b0"/>
<path d="M502.3,192.3 499.6,191.9 496.8,192.0 495.6,195.1 495.9,198.5 494.8,201.6 497.9,202.6 500.7,204.2 501.3,204.5 500.0,200.4 503.8,192.9Z" fill="#fff8f5"/>
<path d="M538.7,228.2 537.8,230.6 538.0,232.4 540.4,233.2 538.7,228.2ZM547.4,221.6 544.3,222.6 543.1,223.1 549.2,223.1 550.3,220.9Z" fill="#fffbf9"/>
<path d="M542.8,174.0 539.6,172.8 536.2,172.8 534.3,174.1 532.5,175.5 532.9,178.7 533.0,182.0 536.1,182.8 536.6,183.4 540.4,181.5 543.4,175.6Z" fill="#fff4f0"/>
<path d="M487.4,291.5 486.3,289.2 485.5,288.6 487.8,293.1 488.4,294.6 488.7,293.8Z" fill="#ffccbb"/>
<path d="M613.2,160.8 615.2,163.1 616.6,165.7 619.5,164.4 613.5,160.3Z" fill="#fff4f0"/>
<path d="M528.5,335.6 526.2,333.9 523.6,335.1 521.4,336.8 519.7,339.0 519.6,339.4 524.6,340.2 529.6,337.3ZM531.4,350.4 532.8,348.3 534.0,345.3 534.0,343.8 533.7,345.3 530.7,348.3 530.1,350.8Z" fill="#ffeee8"/>
<path d="M536.1,182.8 533.0,182.0 530.9,183.9 528.5,185.4 528.1,185.9 532.8,185.3 536.6,183.4Z" fill="#ffdacd"/>
<path d="M504.6,325.2 506.6,322.3 505.1,320.1 505.2,317.4 502.1,317.9 499.1,316.5 497.6,316.7 500.4,320.9 504.1,327.6Z" fill="#ffded2"/>
<path d="M518.1,213.9 520.2,215.7 521.5,218.1 523.8,219.6 524.9,222.1 525.0,222.1 526.3,220.7 525.3,218.1 518.2,213.7Z" fill="#faf8fc"/>
<path d="M578.5,182.6 577.4,179.9 576.7,177.2 575.5,175.6 573.6,175.2 570.6,175.0 570.6,175.1 575.4,178.3 577.9,183.3 578.5,183.2Z" fill="#fff2ed"/>
<path d="M638.1,229.4 635.2,229.8 636.4,230.7 641.4,229.4 641.3,229.0Z" fill="#ffc3af"/>
<path d="M486.0,184.6 487.8,186.6 488.4,182.8 487.9,179.9 487.9,180.0 485.7,181.6ZM496.3,191.4 497.3,188.2 498.6,185.0 498.4,182.2 494.7,184.1 496.0,190.4 494.7,191.4Z" fill="#ffdfd4"/>
<path d="M536.2,406.6 532.8,406.4 529.8,405.3 527.2,403.0 526.5,402.8 528.7,408.9 529.5,410.3 525.0,408.1 530.8,411.0 535.7,409.1 536.8,407.0Z" fill="#ffe4db"/>
<path d="M472.9,223.9 470.5,222.7 467.8,222.0 465.7,220.0 465.4,220.6 466.2,221.3 467.1,224.5 473.7,225.5Z" fill="#fefefe"/>
<path d="M551.3,214.5 551.6,217.8 551.1,219.4 553.0,215.6 552.1,212.8Z" fill="#ffc8b5"/>
<path d="M587.5,272.7 590.2,270.8 593.5,270.1 593.8,267.6 595.3,265.5 593.7,262.4 590.6,260.5 588.8,257.6 588.8,267.9 587.2,272.9Z" fill="#ffd1c1"/>
<path d="M509.2,189.0 506.5,190.7 506.0,191.5 510.3,189.1Z" fill="#ffc2ae"/>
<path d="M479.7,244.9 480.0,244.2 480.3,241.3 480.4,238.5 480.0,237.3 476.0,238.4 477.7,242.6 477.5,245.0Z" fill="#ffd2c2"/>
<path d="M527.3,171.5 526.1,168.8 524.1,167.5 521.8,166.8 519.4,168.3 518.0,170.9 516.1,172.9 513.8,174.5 515.8,177.2 518.3,179.4 520.7,177.5 523.9,177.3 525.9,174.7 528.9,174.0Z" fill="#ffd2c3"/>
<path d="M537.3,151.3 534.5,150.9 531.6,150.6 529.0,149.1 526.1,149.4 525.0,152.1 526.2,155.1 525.0,157.8 527.7,159.5 530.8,160.0 533.2,158.3 535.3,156.2 537.0,153.8Z" fill="#ffdbcf"/>
<path d="M526.5,390.1 529.7,390.8 530.3,390.4 529.6,388.8 528.7,388.7 526.7,382.6 527.4,378.9 526.9,377.1 524.4,377.0 522.4,375.1 521.0,375.0 520.6,378.6 524.6,384.6 526.0,390.0Z" fill="#fff6f2"/>
<path d="M623.4,214.2 624.0,213.2 623.7,213.0 620.9,213.0Z" fill="#ffcdbc"/>
<path d="M478.2,260.2 477.9,257.6 476.7,257.0 477.6,261.1Z" fill="#ffe4db"/>
<path d="M519.7,339.0 517.5,337.0 514.8,335.8 512.4,334.2 510.6,334.3 509.8,334.4 510.5,335.2 518.6,339.2 519.6,339.4Z" fill="#ffeee7"/>
<path d="M485.7,191.8 483.8,194.4 485.5,197.0 485.4,200.2 487.5,202.5 488.4,205.4 490.5,204.0 492.3,202.2 494.8,201.6 495.9,198.5 495.6,195.1 496.8,192.0 496.3,191.4 494.7,191.4 490.9,194.2 489.6,200.5 485.9,199.2 487.0,191.0Z" fill="#ffd3c4"/>
<path d="M540.5,212.3 543.4,210.9 546.5,210.5 549.5,209.4 548.9,208.4 540.4,210.5 540.0,212.3Z" fill="#ffdacd"/>
<path d="M610.7,219.9 611.3,216.8 611.1,214.5 607.3,216.8 610.4,219.9Z" fill="#ffcebd"/>
<path d="M562.2,268.1 564.8,268.5 562.2,267.8ZM564.5,277.4 565.7,276.9 566.1,275.5 564.5,277.0ZM568.5,269.5 568.6,269.1 566.1,275.5 568.6,269.5Z" fill="#ffe6dd"/>
<path d="M589.3,290.7 586.2,290.9 583.2,289.8 583.0,289.7 583.7,293.1 585.3,296.2 589.0,294.6 591.0,291.1Z" fill="#ffbda7"/>
<path d="M525.1,111.0 523.0,113.7 520.3,115.6 522.0,117.7 524.0,119.4 525.1,121.9 527.3,119.6 530.4,118.9 531.9,117.4 527.5,115.6 526.5,109.5Z" fill="#e2daee"/>
<path d="M634.9,249.5 635.2,249.3 636.1,248.7 635.0,248.5Z" fill="#ffd0c0"/>
<path d="M602.2,141.0 603.1,142.6 606.5,143.6 609.2,145.9 612.4,147.1 612.8,147.1 612.0,142.9 612.0,141.4 606.0,141.4 602.0,140.6Z" fill="#ffd8cb"/>
</g>
<g fill="#6b6b6b" stroke="#484848" stroke-width="0.5">
<path d="M495.7,95.8 493.4,97.8 493.0,101.1 491.2,103.4 489.8,105.1 493.4,104.2 501.0,99.1 501.3,99.1 500.8,97.0 499.1,95.7Z"/>
<path d="M506.4,97.8 503.6,97.8 500.8,97.0 501.3,99.1 507.7,98.0ZM511.0,104.7 512.7,101.8 515.2,99.4 515.0,98.4 512.2,97.4 509.3,98.3 508.7,98.2 510.7,105.2Z"/>
<path d="M516.4,102.2 515.2,99.4 512.7,101.8 511.0,104.7 510.7,105.2 511.1,106.7 514.9,104.2 518.3,103.4Z"/>
<path d="M527.4,106.8 530.4,107.1 531.5,106.8 532.3,104.3 533.8,102.0 531.8,100.0 531.0,97.2 529.4,95.0 527.2,93.2 524.5,94.8 521.7,96.0 518.7,96.7 515.6,97.1 515.0,98.4 515.2,99.4 516.4,102.2 518.3,103.4 520.0,103.0 521.2,96.6 525.0,95.5 528.8,100.4 526.8,106.4Z"/>
<path d="M527.4,108.6 530.4,107.1 527.4,106.8 526.8,106.4 526.3,108.0 526.5,109.5Z"/>
<path d="M485.8,105.2 482.4,105.7 481.5,105.8 483.3,106.7 488.1,105.5Z"/>
<path d="M538.2,117.3 535.5,115.5 532.6,116.6 531.9,117.4 536.4,119.3 537.6,119.2Z"/>
<path d="M542.8,117.3 540.5,118.0 538.2,117.3 537.6,119.2 543.5,118.5Z"/>
<path d="M556.2,121.9 554.2,119.8 551.9,118.1 549.8,116.1 547.1,115.0 544.7,115.8 542.8,117.3 543.5,118.5 546.5,118.1 551.5,121.9 556.2,122.6Z"/>
<path d="M559.6,120.2 558.3,121.8 556.2,121.9 556.2,122.6 559.1,123.1 560.6,120.8Z"/>
<path d="M501.2,177.2 502.8,177.5 503.5,176.5 500.5,175.3Z"/>
<path d="M488.6,177.5 491.3,178.4 494.1,177.0 496.7,178.5 499.4,178.3 501.2,177.2 500.5,175.3 497.2,174.0 487.8,175.2Z"/>
<path d="M488.6,177.5 487.8,175.2 487.1,175.3 487.9,179.9Z"/>
<path d="M554.2,174.1 556.5,176.6 558.9,176.2 561.4,175.9 561.5,172.6 561.6,172.5 557.7,172.0 554.1,173.6Z"/>
<path d="M561.5,172.6 561.4,175.9 562.7,177.4 564.7,177.6 567.5,176.0 570.6,175.1 567.8,173.2 561.6,172.5Z"/>
<path d="M415.5,194.5 414.0,189.7 410.1,193.0 411.5,195.2Z"/>
<path d="M526.7,187.5 528.1,185.9 524.5,186.3Z"/>
<path d="M511.1,189.2 513.1,188.9 514.4,187.6 512.6,187.8 510.3,189.1Z"/>
<path d="M501.2,177.2 499.4,178.3 498.4,181.5 498.4,182.2 499.7,181.6 502.8,177.5ZM504.9,193.4 506.0,191.5 503.8,192.8 503.8,192.9Z"/>
<path d="M488.5,190.0 488.2,187.0 487.8,186.6 487.1,190.4 487.0,191.0Z"/>
<path d="M474.0,226.2 472.9,228.7 473.9,230.9 476.6,232.7 479.9,232.8 482.3,231.4 482.4,230.2 475.8,225.8 473.7,225.5Z"/>
<path d="M507.6,209.0 506.7,206.7 503.6,205.6 501.3,204.5 502.5,208.0 507.2,211.1Z"/>
<path d="M483.0,231.5 483.3,230.8 482.4,230.2 482.3,231.4Z"/>
<path d="M527.9,223.3 527.3,223.0 527.8,224.4 528.9,224.5Z"/>
<path d="M542.0,257.8 541.7,254.4 539.1,254.1 536.6,256.0 539.6,259.5Z"/>
<path d="M476.6,262.5 476.0,265.3 476.5,268.1 477.8,270.6 479.3,273.0 480.0,273.0 478.9,267.9 477.6,261.1Z"/>
<path d="M543.8,176.8 545.0,179.5 546.8,181.8 548.3,184.2 548.5,184.3 550.9,182.8 552.6,180.5 554.0,177.9 556.5,176.6 554.2,174.1 554.1,173.6 550.5,175.2 546.7,170.1 544.2,173.9 543.4,175.6Z"/>
<path d="M479.5,235.7 480.0,237.3 480.8,237.1 483.0,231.5 482.3,231.4 479.9,232.8Z"/>
<path d="M541.7,254.4 542.4,252.0 544.7,250.6 545.2,249.4 541.7,252.2 539.1,254.1Z"/>
<path d="M539.6,259.5 542.9,263.5 549.2,268.6 549.9,268.7 551.0,267.1 549.0,264.6 546.1,262.9 544.1,260.3 542.0,257.8Z"/>
<path d="M479.3,273.0 478.0,275.5 479.3,278.6 480.8,281.6 482.5,284.5 483.4,284.7 483.6,284.6 481.5,280.5 480.0,273.0Z"/>
<path d="M562.0,266.9 559.8,265.5 557.8,263.9 555.3,264.6 553.3,266.1 551.0,267.1 549.9,268.7 554.7,269.5 561.0,267.5 562.2,267.8Z"/>
<path d="M483.4,284.7 484.1,287.4 485.5,288.6 483.6,284.6Z"/>
<path d="M567.0,290.1 565.0,288.8 562.9,287.8 561.6,286.9 561.0,288.1 566.9,292.0Z"/>
<path d="M487.3,296.8 488.2,299.5 489.9,301.7 490.6,304.5 492.5,306.6 492.8,306.5 491.6,303.2 488.4,294.6Z"/>
<path d="M492.2,308.9 490.9,310.8 492.6,312.9 494.2,315.0 496.1,316.9 497.6,316.7 495.4,313.3 492.8,306.5 492.5,306.6Z"/>
<path d="M560.3,333.6 561.8,333.9 560.7,332.9 561.4,329.7 559.7,329.7 559.9,333.3Z"/>
<path d="M530.1,338.0 532.6,339.5 534.0,342.2 534.4,341.7 534.7,340.2 529.7,337.2 529.6,337.3Z"/>
<path d="M562.6,334.6 561.8,333.9 560.3,333.6 559.9,333.3 560.0,336.0 561.4,336.0Z"/>
<path d="M534.0,342.2 534.0,343.8 534.4,341.7Z"/>
<path d="M591.2,242.6 589.0,241.0 588.7,241.0 587.3,243.4 586.6,246.0 586.3,247.7 591.3,242.6ZM586.1,248.8 584.9,251.2 585.8,253.5 587.2,255.5 588.8,257.4 588.8,255.3 586.3,247.7Z"/>
<path d="M610.2,245.0 607.8,242.8 605.8,240.1 603.2,242.1 602.4,243.3 606.1,243.3 613.2,246.9 613.2,246.5Z"/>
<path d="M620.7,242.8 618.0,243.7 615.3,244.5 613.2,246.5 613.2,246.9 613.6,247.1 621.0,243.4Z"/>
<path d="M581.2,275.2 578.9,277.2 578.7,280.3 578.2,283.4 577.5,286.5 578.9,287.9 580.1,289.4 583.0,289.7 581.2,280.5 586.0,275.8 584.7,274.5 584.2,274.5Z"/>
<path d="M584.7,274.5 586.0,275.8 586.3,275.5 587.2,272.9Z"/>
<path d="M509.8,334.4 504.4,328.1 504.1,327.6 503.9,328.7 505.1,331.0 507.2,332.6 508.8,334.6Z"/>
<path d="M561.4,336.0 564.2,336.0 562.6,334.6Z"/>
<path d="M529.0,351.1 529.0,352.3 529.7,352.3 530.1,350.8Z"/>
<path d="M518.7,360.1 520.7,361.0 520.6,360.4 518.0,359.3ZM529.0,351.1 526.3,350.2 524.0,348.4 521.4,347.4 518.8,346.2 516.2,347.8 515.8,349.8 522.6,352.3 529.0,352.3Z"/>
<path d="M519.8,375.0 521.0,375.0 521.6,368.5 521.5,368.0 520.5,371.1 519.0,374.1Z"/>
<path d="M525.3,399.3 524.0,402.3 526.5,402.8 525.7,400.8 526.0,398.2Z"/>
<path d="M615.4,158.2 616.4,155.0 618.3,152.2 616.8,149.2 614.3,146.9 612.8,147.1 613.2,149.2 615.8,154.3 612.0,159.3 613.5,160.3Z"/>
<path d="M607.9,172.7 610.6,173.0 612.7,170.7 614.2,167.8 616.6,165.7 616.6,165.7 610.7,168.2 606.9,172.0Z"/>
<path d="M578.7,185.4 579.7,186.0 582.5,185.6 585.0,184.4 587.6,183.4 590.2,182.7 589.9,181.2 589.2,180.8 578.5,183.2Z"/>
<path d="M590.2,182.7 592.5,184.4 593.6,183.4 589.9,181.2Z"/>
<path d="M602.2,190.7 605.2,189.1 606.9,186.2 609.4,184.1 606.1,183.5 604.2,181.8 603.1,188.4 599.3,190.9 595.6,184.6 593.6,183.4 592.5,184.4 593.5,187.6 594.2,190.8 597.3,192.4 600.6,193.6Z"/>
<path d="M540.4,221.0 541.3,223.9 543.1,223.1 541.7,223.1 540.3,219.6ZM537.3,212.4 538.8,215.1 539.2,216.1 540.0,212.3ZM552.6,211.5 551.4,210.7 552.1,212.8ZM550.6,220.8 551.1,219.4 550.3,220.9Z"/>
<path d="M620.8,213.0 618.6,211.0 616.2,209.4 614.2,209.4 612.4,210.5 611.0,213.5 611.1,214.5 613.6,213.0 620.9,213.0ZM611.8,221.9 613.4,223.7 616.1,224.0 618.7,223.9 621.2,222.5 623.9,222.6 623.4,220.7 618.7,219.3 611.1,220.6Z"/>
<path d="M626.7,226.6 627.6,229.2 628.0,231.9 631.4,231.0 634.6,229.9 635.2,229.8 631.3,226.9 629.2,222.7 628.6,223.4 625.7,224.0ZM641.5,229.0 641.0,225.6 641.0,222.1 640.4,218.7 638.4,217.1 636.0,218.8 635.5,219.1 636.4,219.3 640.2,224.4 641.3,229.0Z"/>
<path d="M638.0,179.6 637.7,176.6 635.7,174.9 634.0,172.8 631.1,174.4 627.6,174.3 624.6,175.6 623.7,178.5 625.0,181.5 625.7,184.8 627.7,187.5 630.0,186.2 631.9,184.3 634.4,183.2 636.9,182.4Z"/>
<path d="M576.2,214.7 574.9,212.1 574.0,209.3 571.0,209.0 568.1,208.5 565.2,208.0 562.4,207.1 560.6,208.0 559.9,209.8 560.3,212.8 561.6,215.3 562.7,218.0 564.0,220.5 566.6,220.6 568.5,222.7 571.1,222.5 572.6,220.6 574.8,219.5 576.4,217.6Z"/>
<path d="M540.7,25.5 540.2,28.8 539.0,32.1 538.6,35.4 541.0,36.9 543.2,38.7 546.0,39.3 548.4,38.7 550.6,37.5 553.1,36.9 551.0,34.1 549.7,30.8 548.2,27.7 545.9,24.9 545.8,23.6 541.6,24.5 540.7,24.8Z"/>
<path d="M548.1,248.1 550.6,247.6 552.0,246.3 553.2,244.8 552.9,242.1 553.5,239.3 553.5,236.6 553.2,233.9 550.2,233.3 547.0,234.1 544.0,233.7 541.0,233.4 540.4,233.2 540.4,233.2 545.5,240.8 548.0,247.1 546.6,248.2Z"/>
<path d="M526.4,37.7 523.5,38.8 520.4,39.4 521.1,42.1 520.9,45.0 521.3,47.8 523.9,48.7 526.4,50.1 528.7,48.8 531.6,48.6 533.6,46.7 534.0,43.7 533.1,40.7 532.8,37.7 531.0,36.5 528.9,35.7Z"/>
<path d="M574.4,262.7 573.1,264.7 571.3,266.4 572.7,268.7 573.1,271.5 574.5,273.7 576.2,275.8 578.9,277.2 581.2,275.2 584.2,274.5 582.9,271.7 582.6,268.7 581.7,265.8 581.8,262.7 579.2,262.7 577.2,261.1 575.0,260.3Z"/>
<path d="M502.0,42.9 500.3,44.3 498.9,46.0 500.0,48.7 500.3,51.7 501.9,54.2 503.7,56.6 503.9,59.7 507.0,58.6 510.2,58.1 513.4,57.4 514.3,55.0 514.7,52.4 512.3,50.8 510.7,48.5 508.1,47.1 506.7,44.5 504.8,42.4Z"/>
<path d="M612.9,233.8 616.2,234.9 619.3,236.5 622.5,237.9 624.5,235.9 627.2,234.9 628.0,231.9 627.6,229.2 626.7,226.6 625.7,224.0 623.9,222.6 621.2,222.5 618.7,223.9 616.1,224.0 613.4,223.7 612.1,226.4 611.1,229.1 610.0,231.9Z"/>
<path d="M593.5,187.6 592.5,184.4 590.2,182.7 587.6,183.4 585.0,184.4 582.5,185.6 579.7,186.0 580.4,188.6 580.0,191.3 581.4,193.7 583.8,194.0 585.7,195.9 588.1,196.4 590.6,195.1 592.3,192.8 594.2,190.8Z"/>
<path d="M773.8,143.1 773.2,139.6 771.2,136.7 768.9,136.3 766.7,135.6 764.3,137.4 762.7,139.8 760.7,142.0 762.5,145.0 762.7,148.4 764.2,151.3 773.3,144.9 774.4,144.2Z"/>
<path d="M583.3,238.6 586.4,239.0 588.7,241.0 589.0,241.0 590.3,238.3 592.6,236.8 593.4,233.2 593.7,234.1 593.9,233.7 595.4,231.3 597.6,229.3 596.4,226.3 595.2,223.4 592.5,222.8 590.4,220.9 587.6,220.5 586.2,223.6 584.7,226.6 582.7,229.4 581.8,232.6 580.4,235.7 580.9,236.8Z"/>
<path d="M512.5,35.3 509.5,37.3 507.8,40.5 504.8,42.4 506.7,44.5 508.1,47.1 510.7,48.5 512.3,50.8 514.7,52.4 516.5,50.4 518.9,49.1 521.3,47.8 520.9,45.0 521.1,42.1 520.4,39.4 518.1,38.4 516.1,37.1 514.3,35.3Z"/>
<path d="M503.4,356.2 506.9,355.6 509.8,357.0 512.8,357.9 513.5,357.5 513.5,357.4 513.5,357.4 510.5,351.3 514.5,349.3 515.8,349.8 516.2,347.8 512.8,347.2 509.4,346.6 506.5,344.8 504.9,347.3 503.9,350.2 502.2,352.6 500.5,355.0Z"/>
<path d="M548.6,60.6 545.6,61.6 542.5,61.8 539.6,63.0 536.5,63.0 536.1,63.3 535.8,66.1 536.4,68.8 535.9,71.5 538.5,73.4 541.4,75.0 544.3,76.5 544.5,76.6 543.7,73.6 545.3,69.8 548.7,72.4 553.8,69.8 553.8,63.7 551.6,60.5Z"/>
<path d="M724.9,186.5 727.3,188.6 730.3,189.9 731.8,193.1 733.8,194.0 735.4,188.5 736.5,188.8 736.7,188.3 738.4,185.5 738.7,182.2 739.4,179.0 738.5,177.5 735.2,176.9 732.1,175.3 728.7,175.0 725.9,177.1 723.9,179.9 721.4,182.3 722.2,184.8Z"/>
<path d="M755.3,127.5 753.1,129.6 750.8,131.5 748.0,132.7 746.0,135.0 748.0,137.7 750.9,139.5 753.0,142.0 755.6,141.3 758.2,142.4 760.7,142.0 762.7,139.8 764.3,137.4 766.7,135.6 765.2,133.0 764.8,130.0 763.5,127.4 760.6,127.6 758.0,126.2Z"/>
<path d="M558.9,28.1 556.3,30.6 554.7,33.8 553.2,37.0 555.9,39.3 558.4,41.7 558.6,41.9 561.4,39.7 564.8,36.4 565.7,32.9 565.7,29.5 562.4,28.1 559.0,27.8Z"/>
<path d="M658.3,179.2 656.0,180.2 654.0,181.9 654.6,185.1 655.9,188.1 655.4,191.5 656.6,194.5 658.2,195.9 660.4,195.8 663.1,194.0 666.0,192.5 667.2,189.6 666.2,186.6 666.4,183.7 666.8,181.9 665.5,180.7 663.8,180.6 660.9,179.0Z"/>
<path d="M644.1,175.4 641.1,176.7 637.7,176.6 638.0,179.6 636.9,182.4 639.0,184.3 641.0,186.4 643.6,187.7 645.9,184.9 649.7,184.2 652.0,181.4 650.7,178.8 649.5,176.1 647.1,174.2Z"/>
<path d="M471.6,255.6 474.9,255.9 476.7,257.0 476.4,255.3 477.5,245.0 476.3,245.0 473.0,244.0 469.7,243.7 469.7,243.7 468.6,247.0 468.6,254.9Z"/>
<path d="M636.0,218.8 638.4,217.1 637.2,214.6 637.2,211.7 634.7,210.4 632.0,209.9 629.3,209.2 627.3,210.8 624.9,211.9 624.0,213.2 628.8,216.8 627.5,221.9 623.4,220.7 623.9,222.6 625.7,224.0 628.6,223.4 629.2,222.7 628.8,221.9 630.1,218.1 635.5,219.1Z"/>
<path d="M519.5,210.9 521.9,208.6 523.8,205.9 521.0,204.3 518.0,202.8 515.8,200.3 513.1,200.6 510.6,201.6 508.4,203.4 508.3,205.5 506.7,206.7 507.6,209.0 507.2,211.1 510.1,213.0 515.2,211.8 518.2,213.7Z"/>
<path d="M487.6,312.1 490.9,310.8 492.2,308.9 492.5,306.6 490.6,304.5 489.9,301.7 488.2,299.5 487.3,296.8 484.2,298.3 480.7,298.2 480.0,298.3 480.4,299.9 485.3,312.2 485.6,313.2Z"/>
<path d="M742.6,180.2 745.7,181.9 745.9,181.9 748.1,176.8 751.0,169.8 748.2,169.8 745.2,171.1 742.0,171.3 740.9,173.3 740.2,175.7 738.5,177.5 739.4,179.0Z"/>
<path d="M598.2,221.9 595.2,223.4 596.4,226.3 597.6,229.3 600.3,231.3 603.2,232.8 606.4,233.9 608.5,233.5 610.0,231.9 611.1,229.1 612.1,226.4 613.4,223.7 611.8,221.9 611.1,220.6 611.1,220.6 610.4,219.9 608.1,220.0 605.4,220.4 602.8,219.9 600.2,219.2Z"/>
<path d="M562.4,207.1 565.2,208.0 568.1,208.5 571.0,209.0 574.0,209.3 575.6,207.6 576.8,205.5 575.8,203.2 575.9,200.8 575.7,198.4 573.1,197.7 571.0,196.4 568.9,194.8 567.9,197.6 565.7,199.5 564.4,202.1 562.2,203.9Z"/>
<path d="M725.8,151.1 726.1,154.5 726.9,157.6 728.8,160.4 732.0,160.7 735.2,160.6 738.3,159.5 740.4,156.8 743.3,155.1 741.4,152.1 739.7,149.1 738.7,145.7 736.5,143.0 733.7,144.7 730.8,146.3 727.5,146.6 724.5,147.9 724.4,148.2Z"/>
<path d="M518.7,96.7 521.7,96.0 524.5,94.8 527.2,93.2 526.9,90.5 527.7,88.0 528.3,85.4 525.2,84.8 522.0,84.9 518.8,84.9 515.6,85.0 512.5,83.8 513.3,87.1 513.9,90.5 515.7,93.6 515.6,97.1Z"/>
<path d="M537.1,208.5 537.3,205.3 537.6,202.1 538.4,199.0 536.4,196.6 533.2,195.5 529.9,195.8 529.3,198.7 527.3,200.8 526.2,203.3 524.8,205.8 527.9,207.2 530.9,209.0 533.3,211.7 535.7,211.4Z"/>
<path d="M489.1,45.3 488.5,42.5 487.1,40.0 486.6,37.2 485.1,36.6 484.8,37.3 480.5,40.7 477.1,44.9 477.5,46.0 479.8,46.2 482.6,48.2 486.0,48.1 489.0,49.6 490.8,47.6Z"/>
<path d="M599.0,205.7 596.0,206.0 593.0,205.7 590.1,206.5 590.3,209.4 589.5,212.1 588.7,214.9 588.3,217.7 587.5,220.4 587.6,220.5 590.4,220.9 592.5,222.8 595.2,223.4 598.2,221.9 600.2,219.2 600.5,215.8 600.7,212.3 601.2,208.9 602.0,205.6Z"/>
<path d="M556.1,244.1 559.2,244.5 562.1,243.6 565.0,243.5 564.2,240.6 565.2,237.7 565.0,234.8 562.1,233.9 559.3,232.6 556.7,230.8 555.3,232.7 553.2,233.9 553.5,236.6 553.5,239.3 552.9,242.1 553.2,244.8Z"/>
<path d="M500.2,78.2 502.4,79.9 504.1,82.4 506.6,83.8 509.3,83.2 512.0,83.4 513.7,80.9 513.0,77.7 514.0,75.0 515.6,72.5 512.4,71.4 509.3,69.7 506.1,68.6 502.5,68.4 501.5,71.4 498.9,73.6 497.7,76.7Z"/>
<path d="M538.4,199.0 541.4,198.7 544.2,200.1 547.2,200.1 549.6,198.4 551.6,196.4 553.0,193.7 553.2,191.8 552.3,188.9 549.3,187.3 548.5,184.3 548.3,184.2 546.0,185.6 543.3,185.4 540.9,186.6 540.5,189.4 539.4,191.9 538.2,194.4 536.4,196.6Z"/>
<path d="M706.3,191.1 709.2,192.5 711.7,194.4 713.7,196.4 715.0,191.4 717.2,196.6 717.5,196.1 718.5,193.2 720.2,190.6 721.1,187.6 722.2,184.8 721.4,182.3 718.3,181.9 716.7,180.9 713.1,185.6 706.2,189.5 705.9,190.4Z"/>
<path d="M744.2,134.6 742.6,136.5 740.0,137.1 738.1,138.7 736.8,140.6 736.5,143.0 738.7,145.7 739.7,149.1 741.4,152.1 743.3,155.1 745.4,155.7 747.4,155.0 748.3,152.2 749.8,149.8 750.7,147.1 751.6,144.4 753.0,142.0 750.9,139.5 748.0,137.7 746.0,135.0Z"/>
<path d="M666.9,149.7 667.9,147.2 668.6,144.6 669.6,142.1 670.6,139.5 667.7,137.6 665.3,135.7 664.3,136.1 664.3,142.5 665.6,147.6 664.2,149.8Z"/>
<path d="M478.9,27.6 479.6,24.6 481.2,22.2 478.5,20.0 475.6,18.1 472.5,16.4 471.7,15.3 470.3,15.9 466.1,21.0 468.7,25.1 476.3,27.0 478.6,27.8Z"/>
<path d="M702.0,163.5 705.3,163.0 708.6,164.6 711.9,163.7 711.6,160.5 710.7,157.5 710.0,154.4 710.3,151.1 710.0,150.8 703.0,151.6 702.3,152.6 700.0,154.7 697.5,156.5 695.4,158.8 696.7,161.6 698.8,164.0Z"/>
<path d="M565.6,244.1 568.4,243.9 571.3,244.0 574.1,245.0 575.6,242.9 577.9,241.2 579.1,238.7 580.9,236.8 580.4,235.7 577.6,233.7 574.2,232.7 571.4,230.6 569.5,232.3 567.1,233.3 565.0,234.8 565.2,237.7 564.2,240.6 565.0,243.5Z"/>
<path d="M647.7,171.6 647.9,168.9 648.4,166.3 647.4,164.5 644.0,164.1 641.4,162.0 638.3,160.9 637.1,162.3 635.3,162.7 634.2,166.0 634.3,169.4 634.0,172.8 635.7,174.9 637.7,176.6 641.1,176.7 644.1,175.4 647.1,174.2Z"/>
<path d="M503.7,56.6 501.9,54.2 500.3,51.7 500.0,48.7 498.9,46.0 496.3,46.9 493.4,46.9 490.8,47.6 489.0,49.6 487.6,52.6 487.9,55.9 489.2,58.6 491.2,60.9 493.8,61.5 496.5,61.3 499.1,61.7 501.7,62.7 502.7,61.1 503.9,59.7Z"/>
<path d="M638.9,157.7 639.3,154.5 639.4,153.1 635.2,152.4 627.7,148.2 626.2,149.6 624.5,152.3 625.4,155.4 626.1,158.4 627.7,161.2 630.4,160.9 632.8,162.0 635.3,162.7 637.1,162.3 638.3,160.9Z"/>
<path d="M732.5,197.7 729.7,199.4 726.2,199.3 723.3,200.7 720.6,202.5 719.2,202.7 720.8,208.1 721.0,208.8 722.3,209.1 725.7,209.6 728.6,211.0 729.6,208.1 732.6,198.3 732.8,197.6Z"/>
<path d="M575.1,288.0 572.5,289.0 569.6,289.0 567.0,290.1 566.9,292.0 568.6,293.1 573.6,300.7 574.7,304.1 579.6,299.1 579.6,299.0 579.6,295.8 579.6,292.6 580.1,289.4 578.9,287.9 577.5,286.5Z"/>
<path d="M562.9,287.8 565.0,288.8 567.0,290.1 569.6,289.0 572.5,289.0 575.1,288.0 577.5,286.5 578.2,283.4 578.7,280.3 578.9,277.2 576.2,275.8 573.4,276.9 570.3,276.5 567.3,276.2 565.7,276.9 564.8,280.5 561.6,286.9Z"/>
<path d="M639.3,154.5 638.9,157.7 638.3,160.9 641.4,162.0 644.0,164.1 647.4,164.5 649.0,161.4 650.4,158.2 652.5,155.4 652.8,154.7 642.4,153.7 639.4,153.1Z"/>
<path d="M558.1,93.8 557.4,96.7 556.3,99.5 555.8,102.4 555.4,105.4 557.6,106.9 559.7,108.4 561.8,109.9 565.3,110.1 568.7,109.4 570.5,109.4 574.1,104.2 568.0,98.1 558.5,93.3Z"/>
<path d="M517.0,388.5 518.1,385.2 519.0,381.9 518.4,378.2 519.8,375.0 519.0,374.1 517.7,373.8 514.5,375.2 511.6,377.1 510.2,377.7 511.4,380.6 515.2,390.3Z"/>
<path d="M605.2,206.6 607.6,207.8 609.9,209.4 612.4,210.5 614.2,209.4 616.2,209.4 617.6,206.8 618.9,204.2 619.8,201.4 619.1,198.0 616.9,195.3 614.1,196.1 612.0,198.3 608.9,198.5 606.5,200.0 603.9,201.2 604.1,203.1 603.1,204.8Z"/>
<path d="M637.2,199.3 637.8,202.0 639.3,204.3 640.5,206.8 643.4,207.1 646.1,206.0 648.8,205.4 648.8,202.7 649.3,200.0 650.2,197.5 647.8,196.0 645.3,194.5 643.1,192.7 640.7,193.9 638.5,195.4 636.2,196.7Z"/>
<path d="M676.4,212.3 673.4,213.7 671.0,216.0 671.6,219.2 671.0,222.4 671.0,222.4 677.0,221.8 677.0,211.6Z"/>
<path d="M502.1,15.4 499.6,17.2 499.3,20.3 500.0,23.4 499.2,26.4 501.9,27.0 504.7,26.9 507.4,27.6 509.0,24.9 511.2,22.5 512.2,19.5 512.3,19.3 508.9,17.4 504.4,15.8 504.4,15.8Z"/>
<path d="M603.1,204.8 604.1,203.1 603.9,201.2 602.8,198.6 602.3,195.9 600.6,193.6 597.3,192.4 594.2,190.8 592.3,192.8 590.6,195.1 588.1,196.4 588.4,199.2 587.7,202.2 588.7,205.0 590.1,206.5 593.0,205.7 596.0,206.0 599.0,205.7 602.0,205.6Z"/>
<path d="M524.5,186.3 522.7,186.5 514.4,187.6 513.1,188.9 514.1,191.1 516.4,192.3 517.6,194.3 520.5,193.1 523.5,192.4 526.5,191.8 526.5,189.7 526.7,187.5Z"/>
<path d="M751.9,118.4 753.6,121.3 755.7,123.8 758.0,126.2 760.6,127.6 763.5,127.4 764.7,124.0 767.7,121.8 768.6,118.2 769.9,117.2 767.4,114.9 759.7,116.5 750.6,116.5Z"/>
<path d="M558.5,261.3 557.8,263.9 559.8,265.5 562.0,266.9 565.1,267.0 568.2,267.0 571.3,266.4 573.1,264.7 574.4,262.7 575.0,260.3 573.8,257.1 570.9,255.7 567.8,254.9 564.5,255.0 561.6,256.4 559.2,258.6Z"/>
<path d="M696.7,170.0 697.7,167.0 698.8,164.0 696.7,161.6 695.4,158.8 692.1,158.3 688.8,157.7 687.0,160.0 685.2,162.4 685.2,162.5 686.5,162.9 687.4,164.3 687.9,168.7 692.6,172.4 695.8,172.7Z"/>
<path d="M500.7,93.4 502.5,91.2 504.3,89.0 504.6,85.9 506.6,83.8 504.1,82.4 502.4,79.9 500.2,78.2 497.7,76.7 494.4,77.7 492.4,78.4 491.3,82.2 493.7,89.5 492.1,91.2 493.8,93.0 495.7,95.8 499.1,95.7Z"/>
<path d="M472.5,16.4 475.6,18.1 478.5,20.0 481.2,22.2 484.2,21.3 485.8,18.9 486.8,16.2 485.1,13.1 485.0,10.3 481.4,10.6 475.1,13.5 471.7,15.3Z"/>
<path d="M543.1,85.6 544.8,83.3 545.3,80.2 545.5,80.0 544.5,76.6 544.3,76.5 541.4,75.0 538.5,73.4 535.9,71.5 534.0,73.2 531.4,73.9 529.9,76.0 530.3,79.1 528.7,81.9 528.7,84.9 532.0,85.8 535.3,86.4 538.5,87.4 541.7,88.2Z"/>
<path d="M710.0,154.4 710.7,157.5 711.6,160.5 711.9,163.7 712.6,164.7 716.0,165.2 719.3,164.8 722.6,163.9 725.9,164.4 727.3,162.4 728.8,160.4 726.9,157.6 726.1,154.5 725.8,151.1 724.4,148.2 721.7,149.6 718.9,150.0 716.0,150.4 713.1,150.6 710.3,151.1Z"/>
<path d="M731.8,193.1 730.3,189.9 727.3,188.6 724.9,186.5 722.2,184.8 721.1,187.6 720.2,190.6 718.5,193.2 717.5,196.1 717.2,196.6 717.9,198.3 719.2,202.7 720.6,202.5 723.3,200.7 726.2,199.3 729.7,199.4 732.5,197.7 732.8,197.6 733.8,194.0Z"/>
<path d="M718.3,181.9 721.4,182.3 723.9,179.9 725.9,177.1 728.7,175.0 727.5,172.5 726.7,169.9 725.8,167.3 725.9,164.4 722.6,163.9 719.3,164.8 716.0,165.2 712.6,164.7 712.0,167.5 710.8,170.2 710.6,173.2 710.5,173.9 716.8,174.3 719.4,177.4 716.9,180.6 716.7,180.9Z"/>
<path d="M713.1,150.6 716.0,150.4 718.9,150.0 721.7,149.6 724.4,148.2 724.5,147.9 722.9,144.8 722.5,141.3 721.1,138.1 720.6,134.6 720.6,134.2 716.8,136.1 711.0,137.1 710.0,140.0 714.0,145.9 711.0,150.8 710.0,150.8 710.3,151.1Z"/>
<path d="M635.0,248.5 634.6,245.1 634.2,241.6 632.2,239.1 629.1,237.6 627.2,234.9 624.5,235.9 622.5,237.9 621.4,240.3 620.7,242.8 621.0,243.4 621.2,243.3 625.0,247.1 635.0,248.5Z"/>
<path d="M740.2,175.7 740.9,173.3 742.0,171.3 741.6,168.2 740.1,165.4 739.2,162.5 738.3,159.5 735.2,160.6 732.0,160.7 728.8,160.4 727.3,162.4 725.9,164.4 725.8,167.3 726.7,169.9 727.5,172.5 728.7,175.0 732.1,175.3 735.2,176.9 738.5,177.5Z"/>
<path d="M542.2,101.9 545.3,103.2 547.0,106.3 550.1,107.6 553.0,107.1 555.4,105.4 555.8,102.4 556.3,99.5 557.4,96.7 558.1,93.8 555.1,94.1 552.1,93.8 549.0,94.2 546.0,92.9 543.0,93.3 542.3,95.6 540.6,97.5 539.8,99.8Z"/>
<path d="M527.9,223.3 528.9,224.5 537.9,225.7 538.7,228.2 540.3,226.2 541.3,223.9 540.4,221.0 540.3,219.6 539.1,216.8 539.2,216.1 538.8,215.1 537.3,212.4 535.7,211.4 533.3,211.7 531.4,214.4 528.9,216.7 527.3,219.7 526.3,220.7 527.3,223.0Z"/>
<path d="M720.6,134.6 721.1,138.1 722.5,141.3 722.9,144.8 724.5,147.9 727.5,146.6 730.8,146.3 733.7,144.7 736.5,143.0 736.8,140.6 738.1,138.7 735.4,137.1 733.4,134.6 731.0,132.7 728.1,131.4 726.4,130.9 724.6,132.1 720.6,134.2Z"/>
<path d="M649.5,176.1 650.7,178.8 652.0,181.4 654.0,181.9 656.0,180.2 658.3,179.2 660.9,179.0 661.3,176.1 660.3,173.2 659.5,170.4 659.7,167.4 656.8,168.0 654.1,166.9 651.3,166.1 648.4,166.3 647.9,168.9 647.7,171.6 647.1,174.2Z"/>
<path d="M558.9,176.2 556.5,176.6 554.0,177.9 552.6,180.5 550.9,182.8 548.5,184.3 549.3,187.3 552.3,188.9 553.2,191.8 556.5,191.1 559.8,189.9 563.0,188.9 566.4,188.3 566.1,185.6 566.2,182.9 565.8,180.2 564.7,177.6 562.7,177.4 561.4,175.9Z"/>
<path d="M606.1,183.5 609.4,184.1 609.9,184.0 611.7,182.7 612.0,180.5 611.2,178.1 611.5,175.4 610.6,173.0 607.9,172.7 606.9,172.0 605.7,173.2 604.4,180.8 604.2,181.8Z"/>
<path d="M502.7,61.1 501.7,62.7 502.7,65.4 502.5,68.4 506.1,68.6 509.3,69.7 512.4,71.4 515.6,72.5 517.8,70.8 518.9,68.5 518.4,66.0 518.5,63.6 516.2,62.0 514.5,59.9 513.4,57.4 510.2,58.1 507.0,58.6 503.9,59.7Z"/>
<path d="M523.4,389.5 520.1,389.6 517.0,388.5 515.2,390.3 515.2,390.4 520.2,400.2 521.8,402.9 524.0,402.3 525.3,399.3 526.0,398.2 526.7,392.7 526.0,390.0Z"/>
<path d="M538.2,117.3 540.5,118.0 542.8,117.3 544.7,115.8 547.1,115.0 547.6,112.3 549.0,110.0 550.1,107.6 547.0,106.3 545.3,103.2 542.2,101.9 539.8,99.8 536.8,100.8 533.8,102.0 532.3,104.3 531.5,106.8 532.5,109.9 534.0,112.7 535.5,115.5Z"/>
<path d="M616.9,195.3 619.1,198.0 619.8,201.4 622.2,202.6 625.0,202.4 627.5,203.1 629.3,200.6 631.1,198.2 633.3,196.2 631.6,193.4 629.9,190.5 627.5,188.2 624.7,188.9 622.6,191.1 619.7,191.6 617.3,193.4Z"/>
<path d="M547.4,203.3 548.0,206.5 548.9,208.4 550.5,208.0 551.4,210.7 552.6,211.5 555.0,210.7 557.3,209.8 559.9,209.8 560.6,208.0 562.4,207.1 562.2,203.9 559.7,201.6 558.2,198.3 555.0,196.5 553.0,193.7 551.6,196.4 549.6,198.4 547.2,200.1Z"/>
<path d="M528.7,81.9 530.3,79.1 529.9,76.0 527.0,74.4 524.1,72.9 520.8,72.2 517.8,70.8 515.6,72.5 514.0,75.0 513.0,77.7 513.7,80.9 512.0,83.4 512.5,83.8 515.6,85.0 518.8,84.9 522.0,84.9 525.2,84.8 528.3,85.4 528.7,84.9Z"/>
<path d="M512.6,360.9 511.2,363.6 510.7,366.6 513.2,368.8 515.2,371.6 517.7,373.8 519.0,374.1 520.5,371.1 521.5,368.0 520.7,361.0 518.7,360.1 518.0,359.3 513.7,357.5 513.5,357.5 512.8,357.9Z"/>
<path d="M657.4,208.7 655.1,209.7 652.7,209.5 652.4,212.3 651.4,214.8 650.3,217.3 652.0,219.3 653.5,221.5 654.5,224.1 655.5,224.8 657.1,222.4 661.7,219.3 662.6,218.0 663.9,215.0 662.9,212.7 661.8,210.4 659.8,208.7Z"/>
<path d="M637.2,214.6 638.4,217.1 640.4,218.7 643.8,218.8 646.9,217.2 650.3,217.3 651.4,214.8 652.4,212.3 652.7,209.5 651.1,207.2 648.8,205.4 646.1,206.0 643.4,207.1 640.5,206.8 639.4,209.6 637.2,211.7Z"/>
<path d="M474.5,276.1 478.0,275.5 479.3,273.0 477.8,270.6 476.5,268.1 476.0,265.3 472.7,265.4 470.0,265.9 471.1,271.5 472.6,277.6Z"/>
<path d="M547.4,51.9 544.7,50.6 542.3,48.7 539.2,49.8 538.6,53.1 537.9,56.4 536.8,59.6 536.5,63.0 539.6,63.0 542.5,61.8 545.6,61.6 548.6,60.6 551.6,60.5 550.3,58.6 548.4,55.7 546.9,52.7 547.7,52.0Z"/>
<path d="M548.1,248.1 546.6,248.2 545.2,249.4 544.7,250.6 542.4,252.0 541.7,254.4 542.0,257.8 544.1,260.3 546.1,262.9 549.0,264.6 551.0,267.1 553.3,266.1 555.3,264.6 557.8,263.9 558.5,261.3 559.2,258.6 557.0,255.9 555.6,252.6 552.5,250.6 550.6,247.6Z"/>
<path d="M660.6,154.5 662.2,157.6 662.8,160.9 663.0,164.3 665.7,164.9 668.5,165.2 671.3,165.3 672.3,165.7 668.8,158.5 670.3,157.5 672.4,159.6 674.4,160.0 674.4,159.6 674.2,156.2 674.3,152.9 671.8,151.9 669.0,151.5 666.9,149.7 664.2,149.8 661.9,153.7 660.5,153.9Z"/>
<path d="M674.9,203.9 671.8,205.2 668.7,204.5 665.6,204.5 662.6,204.1 660.6,206.1 659.8,208.7 661.8,210.4 662.9,212.7 663.9,215.0 666.2,216.1 668.7,215.3 671.0,216.0 673.4,213.7 676.4,212.3 677.0,211.6 677.0,203.9Z"/>
<path d="M649.7,184.2 645.9,184.9 643.6,187.7 642.9,190.1 643.1,192.7 645.3,194.5 647.8,196.0 650.2,197.5 652.1,195.9 654.2,194.8 656.6,194.5 655.4,191.5 655.9,188.1 654.6,185.1 654.0,181.9 652.0,181.4Z"/>
<path d="M493.8,93.0 492.1,91.2 488.9,94.4 481.6,100.5 479.0,104.5 481.5,105.8 482.4,105.7 485.8,105.2 488.1,105.5 489.8,105.1 491.2,103.4 493.0,101.1 493.4,97.8 495.7,95.8Z"/>
<path d="M603.2,242.1 605.8,240.1 605.4,237.0 606.4,233.9 603.2,232.8 600.3,231.3 597.6,229.3 595.4,231.3 593.9,233.7 593.7,234.1 597.2,243.3 602.4,243.3ZM590.3,238.3 589.0,241.0 591.2,242.6 591.3,242.6 591.3,242.6 592.6,236.8Z"/>
<path d="M568.7,109.4 565.3,110.1 561.8,109.9 561.4,112.5 560.5,115.0 560.1,117.6 559.6,120.2 560.6,120.8 561.6,119.3 564.8,118.4 569.5,110.8 570.5,109.4Z"/>
<path d="M507.2,332.6 505.1,331.0 503.9,328.7 500.9,329.4 497.9,330.6 494.6,329.7 491.7,331.1 491.6,331.2 493.7,336.6 494.0,338.5 495.3,338.4 498.4,340.1 501.9,340.2 505.1,341.6 506.7,339.5 507.3,336.8 508.8,334.6Z"/>
<path d="M506.8,201.2 506.7,198.4 505.3,196.1 504.9,193.4 503.8,192.9 500.0,200.4 501.3,204.5 503.6,205.6 506.7,206.7 508.3,205.5 508.4,203.4Z"/>
<path d="M646.9,217.2 643.8,218.8 640.4,218.7 641.0,222.1 641.0,225.6 641.5,229.0 642.6,229.9 645.6,229.7 648.4,229.1 651.3,228.5 653.9,227.1 655.5,224.8 654.5,224.1 653.5,221.5 652.0,219.3 650.3,217.3Z"/>
<path d="M519.0,26.2 517.5,29.3 515.7,32.2 514.3,35.3 516.1,37.1 518.1,38.4 520.4,39.4 523.5,38.8 526.4,37.7 528.9,35.7 529.4,32.2 528.1,28.9 526.7,28.5 522.4,26.1 520.6,24.7Z"/>
<path d="M541.3,223.9 540.3,226.2 538.7,228.2 540.4,233.2 541.0,233.4 544.0,233.7 547.0,234.1 550.2,233.3 553.2,233.9 555.3,232.7 556.7,230.8 556.4,228.6 556.4,226.3 555.0,223.9 552.9,222.2 550.6,220.8 550.3,220.9 549.2,223.1 543.1,223.1Z"/>
<path d="M546.8,181.8 545.0,179.5 543.8,176.8 543.4,175.6 540.4,181.5 536.6,183.4 538.1,185.4 540.9,186.6 543.3,185.4 546.0,185.6 548.3,184.2Z"/>
<path d="M552.5,250.6 555.6,252.6 557.0,255.9 559.2,258.6 561.6,256.4 564.5,255.0 565.4,252.3 564.9,249.5 565.0,246.8 565.6,244.1 565.0,243.5 562.1,243.6 559.2,244.5 556.1,244.1 553.2,244.8 552.0,246.3 550.6,247.6Z"/>
<path d="M762.7,148.4 762.5,145.0 760.7,142.0 758.2,142.4 755.6,141.3 753.0,142.0 751.6,144.4 750.7,147.1 749.8,149.8 748.3,152.2 747.4,155.0 749.9,157.2 752.9,158.8 755.0,159.7 755.8,157.6 763.6,151.7 764.2,151.3Z"/>
<path d="M497.1,27.9 499.2,26.4 500.0,23.4 499.3,20.3 499.6,17.2 497.2,16.1 495.5,14.1 492.5,14.4 489.6,15.1 486.8,16.2 485.8,18.9 484.2,21.3 485.9,23.9 488.3,25.8 490.7,27.8 493.4,29.5 495.3,29.5Z"/>
<path d="M553.2,37.0 554.7,33.8 556.3,30.6 558.9,28.1 559.0,27.8 558.0,27.8 554.7,23.5 550.3,23.2 546.1,23.5 545.8,23.6 545.9,24.9 548.2,27.7 549.7,30.8 551.0,34.1 553.1,36.9Z"/>
<path d="M484.1,287.4 483.4,284.7 482.5,284.5 480.1,286.9 476.9,287.9 480.0,298.3 480.7,298.2 484.2,298.3 487.3,296.8 488.4,294.6 487.8,293.1 485.5,288.6Z"/>
<path d="M558.4,41.7 555.9,39.3 553.2,37.0 553.1,36.9 550.6,37.5 548.4,38.7 546.0,39.3 544.5,42.3 543.0,45.3 542.3,48.7 544.7,50.6 547.4,51.9 547.7,52.0 551.3,48.4 554.7,45.0 558.0,42.3 558.6,41.9Z"/>
<path d="M520.8,72.2 524.1,72.9 527.0,74.4 529.9,76.0 531.4,73.9 534.0,73.2 535.9,71.5 536.4,68.8 535.8,66.1 536.1,63.3 533.7,61.7 531.0,60.7 528.3,59.7 525.7,60.5 523.6,62.2 521.2,63.3 518.5,63.6 518.4,66.0 518.9,68.5 517.8,70.8Z"/>
<path d="M685.2,162.4 687.0,160.0 688.8,157.7 687.0,154.8 685.0,152.0 684.9,151.7 679.8,150.3 679.2,150.8 676.5,151.3 674.3,152.9 674.2,156.2 674.4,159.6 674.4,160.0 679.5,160.9 685.2,162.5Z"/>
<path d="M671.3,165.3 668.5,165.2 665.7,164.9 663.0,164.3 661.9,166.4 659.7,167.4 659.5,170.4 660.3,173.2 661.3,176.1 660.9,179.0 663.8,180.6 665.5,180.7 665.4,180.6 667.3,172.8 671.1,172.3 675.0,171.3 672.3,165.7Z"/>
<path d="M611.6,186.5 613.2,189.1 616.0,190.6 617.3,193.4 619.7,191.6 622.6,191.1 624.7,188.9 627.5,188.2 627.7,187.5 625.7,184.8 625.0,181.5 623.7,178.5 620.8,179.1 617.8,179.2 615.0,180.5 612.0,180.5 611.7,182.7 609.9,184.0Z"/>
<path d="M752.9,158.8 749.9,157.2 747.4,155.0 745.4,155.7 743.3,155.1 740.4,156.8 738.3,159.5 739.2,162.5 740.1,165.4 741.6,168.2 742.0,171.3 745.2,171.1 748.2,169.8 751.0,169.8 752.9,165.5 755.0,159.7Z"/>
<path d="M631.1,198.2 629.3,200.6 627.5,203.1 627.9,206.3 629.3,209.2 632.0,209.9 634.7,210.4 637.2,211.7 639.4,209.6 640.5,206.8 639.3,204.3 637.8,202.0 637.2,199.3 636.2,196.7 633.3,196.2Z"/>
<path d="M581.8,232.6 582.7,229.4 584.7,226.6 586.2,223.6 587.6,220.5 587.5,220.4 584.9,218.8 581.8,219.5 579.2,218.0 576.4,217.6 574.8,219.5 572.6,220.6 571.1,222.5 570.9,225.3 571.8,227.9 571.4,230.6 574.2,232.7 577.6,233.7 580.4,235.7Z"/>
<path d="M486.6,37.2 489.3,35.0 490.8,31.7 493.4,29.5 490.7,27.8 488.3,25.8 485.9,23.9 484.2,21.3 481.2,22.2 479.6,24.6 478.9,27.6 478.6,27.8 483.1,29.5 486.5,32.9 485.1,36.6Z"/>
<path d="M510.9,32.7 509.6,29.9 507.4,27.6 504.7,26.9 501.9,27.0 499.2,26.4 497.1,27.9 495.3,29.5 497.3,31.9 497.5,35.1 499.2,37.6 500.5,40.3 502.0,42.9 504.8,42.4 507.8,40.5 509.5,37.3 512.5,35.3Z"/>
<path d="M671.8,195.7 669.1,193.8 666.0,192.5 663.1,194.0 660.4,195.8 660.4,198.8 662.6,201.2 662.6,204.1 665.6,204.5 668.7,204.5 671.8,205.2 674.9,203.9 677.0,203.9 677.0,202.2 672.1,200.2 672.6,196.0Z"/>
<path d="M710.6,173.2 710.8,170.2 712.0,167.5 712.6,164.7 711.9,163.7 708.6,164.6 705.3,163.0 702.0,163.5 698.8,164.0 697.7,167.0 696.7,170.0 695.8,172.7 704.7,173.6 710.5,173.9Z"/>
<path d="M658.2,195.9 656.6,194.5 654.2,194.8 652.1,195.9 650.2,197.5 649.3,200.0 648.8,202.7 648.8,205.4 651.1,207.2 652.7,209.5 655.1,209.7 657.4,208.7 659.8,208.7 660.6,206.1 662.6,204.1 662.6,201.2 660.4,198.8 660.4,195.8Z"/>
<path d="M529.4,32.2 528.9,35.7 531.0,36.5 532.8,37.7 535.6,36.3 538.6,35.4 539.0,32.1 540.2,28.8 540.7,25.5 540.7,24.8 537.6,26.1 533.9,28.1 530.8,29.5 528.1,28.9Z"/>
<path d="M781.0,132.9 778.0,134.7 774.5,135.4 771.2,136.7 773.2,139.6 773.8,143.1 774.4,144.2 776.2,142.9 780.2,146.3 779.2,142.9 782.1,139.0 784.0,132.1 783.9,132.0Z"/>
<path d="M500.5,40.3 499.2,37.6 497.5,35.1 497.3,31.9 495.3,29.5 493.4,29.5 490.8,31.7 489.3,35.0 486.6,37.2 487.1,40.0 488.5,42.5 489.1,45.3 490.8,47.6 493.4,46.9 496.3,46.9 498.9,46.0 500.3,44.3 502.0,42.9Z"/>
<path d="M616.6,165.7 618.5,166.2 620.3,166.5 623.3,165.5 625.6,163.5 627.7,161.2 626.1,158.4 625.4,155.4 624.5,152.3 621.4,153.1 618.3,152.2 616.4,155.0 615.4,158.2 613.5,160.3 619.5,164.4 616.6,165.7Z"/>
<path d="M529.4,95.0 531.0,97.2 531.8,100.0 533.8,102.0 536.8,100.8 539.8,99.8 540.6,97.5 542.3,95.6 543.0,93.3 542.0,90.8 541.7,88.2 538.5,87.4 535.3,86.4 532.0,85.8 528.7,84.9 528.3,85.4 527.7,88.0 526.9,90.5 527.2,93.2Z"/>
<path d="M486.0,48.1 482.6,48.2 479.8,46.2 477.5,46.0 478.9,50.1 478.0,55.2 479.0,58.6 479.5,59.6 481.7,58.8 484.8,57.6 487.9,55.9 487.6,52.6 489.0,49.6Z"/>
<path d="M518.9,49.1 516.5,50.4 514.7,52.4 514.3,55.0 513.4,57.4 514.5,59.9 516.2,62.0 518.5,63.6 521.2,63.3 523.6,62.2 525.7,60.5 528.3,59.7 527.0,56.7 526.8,53.4 526.4,50.1 523.9,48.7 521.3,47.8Z"/>
<path d="M532.6,339.5 530.1,338.0 529.6,337.3 524.6,340.2 519.6,339.4 519.4,341.4 519.6,343.9 518.8,346.2 521.4,347.4 524.0,348.4 526.3,350.2 529.0,351.1 530.1,350.8 530.7,348.3 533.7,345.3 534.0,343.8 534.0,342.2Z"/>
<path d="M728.1,131.4 731.0,132.7 733.4,134.6 735.4,137.1 738.1,138.7 740.0,137.1 742.6,136.5 744.2,134.6 744.0,131.1 741.8,128.1 741.6,124.7 740.8,122.1 734.4,125.3 726.4,130.9Z"/>
<path d="M509.3,98.3 512.2,97.4 515.0,98.4 515.6,97.1 515.7,93.6 513.9,90.5 513.3,87.1 512.5,83.8 512.0,83.4 509.3,83.2 506.6,83.8 504.6,85.9 504.3,89.0 502.5,91.2 500.7,93.4 499.1,95.7 500.8,97.0 503.6,97.8 506.4,97.8 507.7,98.0 508.6,97.9 508.7,98.2Z"/>
<path d="M526.7,187.5 526.5,189.7 526.5,191.8 528.1,193.9 529.9,195.8 533.2,195.5 536.4,196.6 538.2,194.4 539.4,191.9 540.5,189.4 540.9,186.6 538.1,185.4 536.6,183.4 532.8,185.3 528.1,185.9Z"/>
<path d="M755.7,123.8 753.6,121.3 751.9,118.4 750.6,116.5 748.0,116.5 744.1,120.4 740.8,122.1 741.6,124.7 741.8,128.1 744.0,131.1 744.2,134.6 746.0,135.0 748.0,132.7 750.8,131.5 753.1,129.6 755.3,127.5 758.0,126.2Z"/>
<path d="M738.7,182.2 738.4,185.5 736.7,188.3 736.5,188.8 742.3,190.4 745.9,181.9 745.7,181.9 742.6,180.2 739.4,179.0Z"/>
<path d="M555.0,196.5 558.2,198.3 559.7,201.6 562.2,203.9 564.4,202.1 565.7,199.5 567.9,197.6 568.9,194.8 568.9,191.7 567.3,189.0 566.4,188.3 563.0,188.9 559.8,189.9 556.5,191.1 553.2,191.8 553.0,193.7Z"/>
<path d="M494.6,319.6 493.5,322.4 493.0,325.3 492.9,328.4 491.7,331.1 494.6,329.7 497.9,330.6 500.9,329.4 503.9,328.7 504.1,327.6 500.4,320.9 497.6,316.7 496.1,316.9Z"/>
<path d="M685.0,152.0 687.0,154.8 688.8,157.7 692.1,158.3 695.4,158.8 697.5,156.5 700.0,154.7 702.3,152.6 703.0,151.6 701.2,151.7 693.5,149.8 686.7,152.2 684.9,151.7Z"/>
<path d="M530.9,209.0 527.9,207.2 524.8,205.8 523.8,205.9 521.9,208.6 519.5,210.9 518.2,213.7 525.3,218.1 526.3,220.7 527.3,219.7 528.9,216.7 531.4,214.4 533.3,211.7Z"/>
<path d="M567.5,176.0 564.7,177.6 565.8,180.2 566.2,182.9 566.1,185.6 566.4,188.3 567.3,189.0 570.1,187.8 573.0,187.3 575.9,186.6 578.7,185.4 578.5,183.2 577.9,183.3 575.4,178.3 570.6,175.1Z"/>
<path d="M634.3,169.4 634.2,166.0 635.3,162.7 632.8,162.0 630.4,160.9 627.7,161.2 625.6,163.5 623.3,165.5 620.3,166.5 622.1,169.4 623.3,172.5 624.6,175.6 627.6,174.3 631.1,174.4 634.0,172.8Z"/>
<path d="M768.6,118.2 767.7,121.8 764.7,124.0 763.5,127.4 764.8,130.0 765.2,133.0 766.7,135.6 768.9,136.3 771.2,136.7 774.5,135.4 778.0,134.7 781.0,132.9 783.9,132.0 779.2,128.3 773.3,120.4 769.9,117.2Z"/>
<path d="M634.6,229.9 631.4,231.0 628.0,231.9 627.2,234.9 629.1,237.6 632.2,239.1 634.2,241.6 637.5,240.8 640.7,239.8 643.8,238.5 643.8,235.6 643.7,232.7 642.6,229.9 641.5,229.0 641.3,229.0 641.4,229.4 636.4,230.7 635.2,229.8Z"/>
<path d="M585.7,205.0 582.7,204.4 579.7,204.9 576.8,205.5 575.6,207.6 574.0,209.3 574.9,212.1 576.2,214.7 576.4,217.6 579.2,218.0 581.8,219.5 584.9,218.8 587.5,220.4 588.3,217.7 588.7,214.9 589.5,212.1 590.3,209.4 590.1,206.5 588.7,205.0Z"/>
<path d="M507.6,368.0 510.7,366.6 511.2,363.6 512.6,360.9 512.8,357.9 509.8,357.0 506.9,355.6 503.4,356.2 500.5,355.0 499.9,355.1 503.6,361.1 506.1,367.6Z"/>
<path d="M643.7,232.7 643.8,235.6 643.8,238.5 646.7,240.2 651.0,235.8 652.2,229.7 653.9,227.1 651.3,228.5 648.4,229.1 645.6,229.7 642.6,229.9Z"/>
<path d="M491.7,331.1 492.9,328.4 493.0,325.3 493.5,322.4 494.6,319.6 496.1,316.9 494.2,315.0 492.6,312.9 490.9,310.8 487.6,312.1 485.6,313.2 488.9,324.4 491.6,331.2Z"/>
<path d="M488.2,187.0 488.5,190.0 491.0,191.2 493.7,191.4 494.7,191.4 496.0,190.4 494.7,184.1 498.4,182.2 498.4,181.5 499.4,178.3 496.7,178.5 494.1,177.0 491.3,178.4 488.6,177.5 487.9,179.9 488.4,182.8 487.8,186.6Z"/>
<path d="M577.2,261.1 579.2,262.7 581.8,262.7 584.4,261.5 587.0,260.0 588.8,257.6 588.8,257.6 588.8,257.4 587.2,255.5 585.8,253.5 584.9,251.2 582.2,251.6 579.5,252.0 576.8,251.7 575.9,254.7 573.8,257.1 575.0,260.3Z"/>
<path d="M606.5,200.0 608.9,198.5 612.0,198.3 614.1,196.1 616.9,195.3 617.3,193.4 616.0,190.6 613.2,189.1 611.6,186.5 609.9,184.0 609.4,184.1 606.9,186.2 605.2,189.1 602.2,190.7 600.6,193.6 602.3,195.9 602.8,198.6 603.9,201.2Z"/>
<path d="M496.8,10.8 497.0,9.1 491.5,8.6 486.7,10.1 485.0,10.3 485.1,13.1 486.8,16.2 489.6,15.1 492.5,14.4 495.5,14.1Z"/>
<path d="M673.5,138.7 670.6,139.5 669.6,142.1 668.6,144.6 667.9,147.2 666.9,149.7 669.0,151.5 671.8,151.9 674.3,152.9 676.5,151.3 679.2,150.8 679.8,150.3 677.9,149.8 671.6,148.7 675.0,143.9 675.0,137.9Z"/>
<path d="M546.0,92.9 549.0,94.2 552.1,93.8 555.1,94.1 558.1,93.8 558.5,93.3 558.3,93.2 552.2,88.2 546.1,82.2 545.5,80.0 545.3,80.2 544.8,83.3 543.1,85.6 541.7,88.2 542.0,90.8 543.0,93.3Z"/>
<path d="M524.0,402.3 521.8,402.9 525.0,408.1 529.5,410.3 528.7,408.9 526.5,402.8Z"/>
<path d="M471.3,233.1 473.9,230.9 472.9,228.7 474.0,226.2 473.7,225.5 467.1,224.5 468.6,229.8 469.5,233.5Z"/>
<path d="M652.5,155.4 650.4,158.2 649.0,161.4 647.4,164.5 648.4,166.3 651.3,166.1 654.1,166.9 656.8,168.0 659.7,167.4 661.9,166.4 663.0,164.3 662.8,160.9 662.2,157.6 660.6,154.5 660.5,153.9 654.7,154.9 652.8,154.7Z"/>
<path d="M711.7,194.4 709.2,192.5 706.3,191.1 705.9,190.4 704.3,195.4 707.2,202.2 712.1,202.2 713.7,196.4Z"/>
<path d="M586.6,246.0 587.3,243.4 588.7,241.0 586.4,239.0 583.3,238.6 580.9,236.8 579.1,238.7 577.9,241.2 575.6,242.9 574.1,245.0 575.1,247.2 576.3,249.3 576.8,251.7 579.5,252.0 582.2,251.6 584.9,251.2 586.1,248.8 586.3,247.7 586.3,247.7 586.3,247.7Z"/>
<path d="M494.4,77.7 497.7,76.7 498.9,73.6 501.5,71.4 502.5,68.4 502.7,65.4 501.7,62.7 499.1,61.7 496.5,61.3 493.8,61.5 491.2,60.9 489.2,63.7 489.4,67.2 489.2,67.4 492.5,69.8 495.0,72.4 492.5,78.0 492.4,78.4Z"/>
<path d="M559.5,225.0 561.2,222.0 564.0,220.5 562.7,218.0 561.6,215.3 560.3,212.8 559.9,209.8 557.3,209.8 555.0,210.7 552.6,211.5 552.1,212.8 553.0,215.6 551.1,219.4 550.6,220.8 552.9,222.2 555.0,223.9 556.4,226.3Z"/>
<path d="M588.8,257.6 587.0,260.0 584.4,261.5 581.8,262.7 581.7,265.8 582.6,268.7 582.9,271.7 584.2,274.5 584.7,274.5 587.2,272.9 588.8,267.9 588.8,257.6Z"/>
<path d="M725.7,209.6 722.3,209.1 721.0,208.8 722.8,216.9 726.7,216.9 728.6,211.0Z"/>
<path d="M489.4,67.2 489.2,63.7 491.2,60.9 489.2,58.6 487.9,55.9 484.8,57.6 481.7,58.8 479.5,59.6 480.5,62.0 486.5,65.5 489.2,67.4Z"/>
<path d="M571.0,196.4 573.1,197.7 575.7,198.4 577.4,196.6 579.4,195.2 581.4,193.7 580.0,191.3 580.4,188.6 579.7,186.0 578.7,185.4 575.9,186.6 573.0,187.3 570.1,187.8 567.3,189.0 568.9,191.7 568.9,194.8Z"/>
<path d="M641.0,186.4 639.0,184.3 636.9,182.4 634.4,183.2 631.9,184.3 630.0,186.2 627.7,187.5 627.5,188.2 629.9,190.5 631.6,193.4 633.3,196.2 636.2,196.7 638.5,195.4 640.7,193.9 643.1,192.7 642.9,190.1 643.6,187.7Z"/>
<path d="M615.4,143.7 614.3,146.9 616.8,149.2 618.3,152.2 621.4,153.1 624.5,152.3 626.2,149.6 627.7,148.2 626.6,147.6 617.3,141.7Z"/>
<path d="M504.9,193.4 505.3,196.1 506.7,198.4 506.8,201.2 508.4,203.4 510.6,201.6 513.1,200.6 515.8,200.3 516.3,197.2 517.6,194.3 516.4,192.3 514.1,191.1 513.1,188.9 511.1,189.2 510.3,189.1 506.0,191.5Z"/>
<path d="M565.0,246.8 564.9,249.5 565.4,252.3 564.5,255.0 567.8,254.9 570.9,255.7 573.8,257.1 575.9,254.7 576.8,251.7 576.3,249.3 575.1,247.2 574.1,245.0 571.3,244.0 568.4,243.9 565.6,244.1Z"/>
<path d="M479.5,235.7 479.9,232.8 476.6,232.7 473.9,230.9 471.3,233.1 469.5,233.5 471.1,239.6 469.7,243.7 469.7,243.7 473.0,244.0 476.3,245.0 477.5,245.0 477.7,242.6 476.0,238.4 480.0,237.3Z"/>
<path d="M615.3,244.5 618.0,243.7 620.7,242.8 621.4,240.3 622.5,237.9 619.3,236.5 616.2,234.9 612.9,233.8 610.0,231.9 608.5,233.5 606.4,233.9 605.4,237.0 605.8,240.1 607.8,242.8 610.2,245.0 613.2,246.5Z"/>
<path d="M511.6,377.1 514.5,375.2 517.7,373.8 515.2,371.6 513.2,368.8 510.7,366.6 507.6,368.0 506.1,367.6 507.4,370.8 510.2,377.7Z"/>
<path d="M571.8,227.9 570.9,225.3 571.1,222.5 568.5,222.7 566.6,220.6 564.0,220.5 561.2,222.0 559.5,225.0 556.4,226.3 556.4,228.6 556.7,230.8 559.3,232.6 562.1,233.9 565.0,234.8 567.1,233.3 569.5,232.3 571.4,230.6Z"/>
<path d="M558.3,121.8 559.6,120.2 560.1,117.6 560.5,115.0 561.4,112.5 561.8,109.9 559.7,108.4 557.6,106.9 555.4,105.4 553.0,107.1 550.1,107.6 549.0,110.0 547.6,112.3 547.1,115.0 549.8,116.1 551.9,118.1 554.2,119.8 556.2,121.9Z"/>
<path d="M531.6,48.6 528.7,48.8 526.4,50.1 526.8,53.4 527.0,56.7 528.3,59.7 531.0,60.7 533.7,61.7 536.1,63.3 536.5,63.0 536.8,59.6 537.9,56.4 538.6,53.1 539.2,49.8 536.4,48.3 533.6,46.7Z"/>
<path d="M500.5,355.0 502.2,352.6 503.9,350.2 504.9,347.3 506.5,344.8 505.1,341.6 501.9,340.2 498.4,340.1 495.3,338.4 494.0,338.5 494.8,343.4 498.7,353.2 499.9,355.1Z"/>
<path d="M518.4,378.2 519.0,381.9 518.1,385.2 517.0,388.5 520.1,389.6 523.4,389.5 526.0,390.0 524.6,384.6 520.6,378.6 521.0,375.0 519.8,375.0Z"/>
<path d="M624.9,211.9 627.3,210.8 629.3,209.2 627.9,206.3 627.5,203.1 625.0,202.4 622.2,202.6 619.8,201.4 618.9,204.2 617.6,206.8 616.2,209.4 618.6,211.0 620.8,213.0 620.9,213.0 623.7,213.0 624.0,213.2Z"/>
<path d="M512.2,19.5 511.2,22.5 509.0,24.9 507.4,27.6 509.6,29.9 510.9,32.7 512.5,35.3 514.3,35.3 515.7,32.2 517.5,29.3 519.0,26.2 520.6,24.7 518.0,22.7 513.7,20.1 512.3,19.3Z"/>
<path d="M474.9,255.9 471.6,255.6 468.6,254.9 468.6,259.2 470.0,265.9 472.7,265.4 476.0,265.3 476.6,262.5 477.6,261.1 476.7,257.0Z"/>
<path d="M480.1,286.9 482.5,284.5 480.8,281.6 479.3,278.6 478.0,275.5 474.5,276.1 472.6,277.6 473.5,281.2 476.8,287.6 476.9,287.9Z"/>
<path d="M508.8,334.6 507.3,336.8 506.7,339.5 505.1,341.6 506.5,344.8 509.4,346.6 512.8,347.2 516.2,347.8 518.8,346.2 519.6,343.9 519.4,341.4 519.6,339.4 518.6,339.2 510.5,335.2 509.8,334.4Z"/>
<path d="M611.5,175.4 611.2,178.1 612.0,180.5 615.0,180.5 617.8,179.2 620.8,179.1 623.7,178.5 624.6,175.6 623.3,172.5 622.1,169.4 620.3,166.5 618.5,166.2 616.6,165.7 614.2,167.8 612.7,170.7 610.6,173.0Z"/>
<path d="M487.0,191.0 485.9,199.2 489.6,200.5 490.9,194.2 494.7,191.4 493.7,191.4 491.0,191.2 488.5,190.0Z"/>
<path d="M535.6,36.3 532.8,37.7 533.1,40.7 534.0,43.7 533.6,46.7 536.4,48.3 539.2,49.8 542.3,48.7 543.0,45.3 544.5,42.3 546.0,39.3 543.2,38.7 541.0,36.9 538.6,35.4Z"/>
<path d="M662.6,218.0 661.7,219.3 662.4,218.8 666.3,222.8 671.0,222.4 671.0,222.4 671.6,219.2 671.0,216.0 668.7,215.3 666.2,216.1 663.9,215.0Z"/>
<path d="M548.0,206.5 547.4,203.3 547.2,200.1 544.2,200.1 541.4,198.7 538.4,199.0 537.6,202.1 537.3,205.3 537.1,208.5 535.7,211.4 537.3,212.4 540.0,212.3 540.4,210.5 548.9,208.4Z"/>
<path d="M601.2,208.9 600.7,212.3 600.5,215.8 600.2,219.2 602.8,219.9 605.4,220.4 608.1,220.0 610.4,219.9 607.3,216.8 611.1,214.5 611.0,213.5 612.4,210.5 609.9,209.4 607.6,207.8 605.2,206.6 603.1,204.8 602.0,205.6Z"/>
<path d="M524.8,205.8 526.2,203.3 527.3,200.8 529.3,198.7 529.9,195.8 528.1,193.9 526.5,191.8 523.5,192.4 520.5,193.1 517.6,194.3 516.3,197.2 515.8,200.3 518.0,202.8 521.0,204.3 523.8,205.9Z"/>
<path d="M562.2,267.8 564.8,268.5 568.6,269.1 568.5,269.5 568.6,269.5 566.1,275.5 565.7,276.9 567.3,276.2 570.3,276.5 573.4,276.9 576.2,275.8 574.5,273.7 573.1,271.5 572.7,268.7 571.3,266.4 568.2,267.0 565.1,267.0 562.0,266.9Z"/>
<path d="M580.1,289.4 579.6,292.6 579.6,295.8 579.6,299.0 579.6,299.1 580.4,298.3 585.3,296.2 583.7,293.1 583.0,289.7Z"/>
<path d="M532.6,116.6 535.5,115.5 534.0,112.7 532.5,109.9 531.5,106.8 530.4,107.1 527.4,108.6 526.5,109.5 527.5,115.6 531.9,117.4Z"/>
<path d="M643.8,238.5 640.7,239.8 637.5,240.8 634.2,241.6 634.6,245.1 635.0,248.5 635.0,248.5 636.1,248.7 643.7,243.2 646.7,240.2Z"/>
<path d="M585.7,195.9 583.8,194.0 581.4,193.7 579.4,195.2 577.4,196.6 575.7,198.4 575.9,200.8 575.8,203.2 576.8,205.5 579.7,204.9 582.7,204.4 585.7,205.0 588.7,205.0 587.7,202.2 588.4,199.2 588.1,196.4Z"/>
<path d="M496.8,10.8 495.5,14.1 497.2,16.1 499.6,17.2 502.1,15.4 504.4,15.8 501.8,10.6 497.3,9.1 497.0,9.1Z"/>
<path d="M614.3,146.9 615.4,143.7 617.3,141.7 616.9,141.4 612.0,141.4 612.0,142.9 612.8,147.1Z"/>
<path d="M666.4,183.7 666.2,186.6 667.2,189.6 666.0,192.5 669.1,193.8 671.8,195.7 672.6,196.0 673.2,191.4 671.2,185.6 666.8,181.9Z"/>
<path d="M667.7,137.6 670.6,139.5 673.5,138.7 675.0,137.9 675.0,136.1 671.1,133.1 665.3,135.7Z"/>
</g>
<path d="M505.2,73.2 507.8,71.5 512.1,67.2 515.5,63.0 520.6,61.2 524.0,65.5 529.1,68.1 535.9,67.2 541.1,69.8 545.3,69.8 553.8,69.8 553.8,63.7 550.3,58.6 548.4,55.7 546.9,52.7 551.3,48.4 554.7,45.0 558.0,42.3 561.4,39.7 564.8,36.4 565.7,32.9 565.7,29.5 562.4,28.1 558.0,27.8 554.7,23.5 550.3,23.2 546.1,23.5 541.6,24.5 537.6,26.1 533.9,28.1 530.8,29.5 526.7,28.5 522.4,26.1 518.0,22.7 513.7,20.1 508.9,17.4 504.4,15.8 501.8,10.6 497.3,9.1 491.5,8.6 486.7,10.1 481.4,10.6 475.1,13.5 470.3,15.9 466.1,21.0 468.7,25.1 476.3,27.0 483.1,29.5 486.5,32.9 484.8,37.3 480.5,40.7 477.1,44.9 478.9,50.1 478.0,55.2 479.0,58.6 480.5,62.0 486.5,65.5 492.5,69.8 495.0,72.4Z" fill="#6b6b6b" stroke="#484848" stroke-width="0.5"/>
<g stroke="#666" stroke-width="0.6">
<path d="M553.4,279.2 561.0,280.5 566.1,275.5 568.6,269.1 561.0,267.9 554.7,270.4 548.4,275.5Z" fill="#c5b5dc"/>
<path d="M526.7,382.6 528.7,388.7 535.8,389.7 539.8,385.7 540.8,378.6 533.7,375.6 527.7,377.6Z" fill="#a48ec9"/>
</g>
<path d="M466.1,21.0 468.7,25.1 476.3,27.0 483.1,29.5 486.5,32.9 484.8,37.3 480.5,40.7 477.1,44.9 478.9,50.1 478.0,55.2 479.0,58.6 480.5,62.0 486.5,65.5 492.5,69.8 495.0,72.4 492.5,78.0 491.3,82.2 493.7,89.5 488.9,94.4 481.6,100.5 478.3,105.6 471.1,118.0 468.6,122.3 458.9,127.8 449.1,132.6 439.5,133.8 434.6,140.0 427.3,147.4 428.5,153.5 434.6,159.6 438.2,165.3 442.2,168.7 444.6,175.2 446.9,180.8 446.1,184.4 439.8,184.0 432.6,185.7 424.6,184.8 418.1,185.7 414.0,189.7 410.1,193.0 412.5,196.8 417.3,200.7 423.7,204.6 430.1,207.1 436.6,205.2 438.3,206.8 431.7,210.2 425.3,211.7 419.7,212.3 421.2,217.6 426.0,222.5 432.2,227.4 441.9,233.5 450.4,233.5 457.7,229.8 462.5,223.7 461.8,217.6 466.2,221.3 468.6,229.8 471.1,239.6 468.6,247.0 468.6,259.2 471.1,271.5 473.5,281.2 476.8,287.6 480.4,299.9 485.3,312.2 488.9,324.4 493.7,336.6 494.8,343.4 498.7,353.2 503.6,361.1 507.4,370.8 511.4,380.6 515.2,390.4 520.2,400.2 525.0,408.1 530.8,411.0 535.7,409.1 539.6,402.2 542.5,396.3 547.4,392.4 553.2,395.3 555.1,392.4 550.3,390.4 549.4,385.5 553.2,381.6 560.0,380.6 560.0,366.9 562.8,357.9 565.8,345.3 565.8,337.5 560.7,332.9 563.1,322.0 565.5,309.7 574.3,304.5 580.4,298.3 589.0,294.6 592.6,288.5 598.7,281.2 606.0,272.6 613.2,267.7 620.6,260.4 626.6,255.4 635.2,249.3 643.7,243.2 651.0,235.8 652.2,229.7 657.1,222.4 662.4,218.8 666.3,222.8 677.0,221.8 677.0,202.2 672.1,200.2 673.2,191.4 671.2,185.6 665.4,180.6 667.3,172.8 671.1,172.3 675.0,171.3 668.8,158.5 670.3,157.5 672.4,159.6 679.5,160.9 686.5,162.9 687.4,164.3 687.9,168.7 692.6,172.4 704.7,173.6 716.8,174.3 719.4,177.4 716.9,180.6 713.1,185.6 706.2,189.5 704.3,195.4 707.2,202.2 712.1,202.2 715.0,191.4 717.9,198.3 720.8,208.1 722.8,216.9 726.7,216.9 729.6,208.1 732.6,198.3 735.4,188.5 742.3,190.4 748.1,176.8 752.9,165.5 755.8,157.6 763.6,151.7 773.3,144.9 776.2,142.9 780.2,146.3 779.2,142.9 782.1,139.0 784.0,132.1 779.2,128.3 773.3,120.4 767.4,114.9 759.7,116.5 748.0,116.5 744.1,120.4 734.4,125.3 724.6,132.1 716.8,136.1 711.0,137.1 710.0,140.0 714.0,145.9 711.0,150.8 701.2,151.7 693.5,149.8 686.7,152.2 677.9,149.8 671.6,148.7 675.0,143.9 675.0,136.1 671.1,133.1 664.3,136.1 664.3,142.5 665.6,147.6 661.9,153.7 654.7,154.9 642.4,153.7 635.2,152.4 626.6,147.6 616.9,141.4 606.0,141.4 593.8,138.9 585.3,134.1 576.8,129.1 569.5,126.7 564.6,124.3 563.4,120.6 569.5,110.8 574.1,104.2 568.0,98.1 558.3,93.2 552.2,88.2 546.1,82.2 543.7,73.6 545.3,69.8 548.7,72.4 553.8,69.8 553.8,63.7 550.3,58.6 548.4,55.7 546.9,52.7 551.3,48.4 554.7,45.0 558.0,42.3 561.4,39.7 564.8,36.4 565.7,32.9 565.7,29.5 562.4,28.1 558.0,27.8 554.7,23.5 550.3,23.2 546.1,23.5 541.6,24.5 537.6,26.1 533.9,28.1 530.8,29.5 526.7,28.5 522.4,26.1 518.0,22.7 513.7,20.1 508.9,17.4 504.4,15.8 501.8,10.6 497.3,9.1 491.5,8.6 486.7,10.1 481.4,10.6 475.1,13.5 470.3,15.9Z" fill="none" stroke="#4a4a4a" stroke-width="0.7"/>
</g>
<defs><linearGradient id="lg" x1="0" x2="1" y1="0" y2="0"><stop offset="0.00%" stop-color="#ff0000"/><stop offset="2.50%" stop-color="#ff0000"/><stop offset="5.00%" stop-color="#ff0000"/><stop offset="7.50%" stop-color="#ff0000"/><stop offset="10.00%" stop-color="#ff200d"/><stop offset="12.50%" stop-color="#ff3b20"/><stop offset="15.00%" stop-color="#ff4e2f"/><stop offset="17.50%" stop-color="#ff5f3e"/><stop offset="20.00%" stop-color="#ff6d4c"/><stop offset="22.50%" stop-color="#ff7b5a"/><stop offset="25.00%" stop-color="#ff8868"/><stop offset="27.50%" stop-color="#ff9577"/><stop offset="30.00%" stop-color="#ffa185"/><stop offset="32.50%" stop-color="#ffad94"/><stop offset="35.00%" stop-color="#ffb9a3"/><stop offset="37.50%" stop-color="#ffc5b2"/><stop offset="40.00%" stop-color="#ffd1c1"/><stop offset="42.50%" stop-color="#ffdcd0"/><stop offset="45.00%" stop-color="#ffe8e0"/><stop offset="47.50%" stop-color="#fff3ef"/><stop offset="50.00%" stop-color="#ffffff"/><stop offset="52.50%" stop-color="#f2eef7"/><stop offset="55.00%" stop-color="#e5def0"/><stop offset="57.50%" stop-color="#d8cee8"/><stop offset="60.00%" stop-color="#ccbee1"/><stop offset="62.50%" stop-color="#bfaed9"/><stop offset="65.00%" stop-color="#b29ed1"/><stop offset="67.50%" stop-color="#a58fca"/><stop offset="70.00%" stop-color="#987fc2"/><stop offset="72.50%" stop-color="#8a70ba"/><stop offset="75.00%" stop-color="#7d62b3"/><stop offset="77.50%" stop-color="#6f53ab"/><stop offset="80.00%" stop-color="#6145a3"/><stop offset="82.50%" stop-color="#53379b"/><stop offset="85.00%" stop-color="#432894"/><stop offset="87.50%" stop-color="#311a8c"/><stop offset="90.00%" stop-color="#180884"/><stop offset="92.50%" stop-color="#000080"/><stop offset="95.00%" stop-color="#000080"/><stop offset="97.50%" stop-color="#000080"/><stop offset="100.00%" stop-color="#000080"/></linearGradient></defs><rect x="169.0" y="421.6" width="336.0" height="34" fill="url(#lg)"/><line x1="211.9" x2="211.9" y1="421.6" y2="428.4" stroke="#fff" stroke-opacity="0.8" stroke-width="0.9"/><line x1="211.9" x2="211.9" y1="448.8" y2="455.6" stroke="#fff" stroke-opacity="0.8" stroke-width="0.9"/><line x1="253.6" x2="253.6" y1="421.6" y2="428.4" stroke="#fff" stroke-opacity="0.8" stroke-width="0.9"/><line x1="253.6" x2="253.6" y1="448.8" y2="455.6" stroke="#fff" stroke-opacity="0.8" stroke-width="0.9"/><line x1="295.3" x2="295.3" y1="421.6" y2="428.4" stroke="#fff" stroke-opacity="0.8" stroke-width="0.9"/><line x1="295.3" x2="295.3" y1="448.8" y2="455.6" stroke="#fff" stroke-opacity="0.8" stroke-width="0.9"/><line x1="337.0" x2="337.0" y1="421.6" y2="428.4" stroke="#fff" stroke-opacity="0.8" stroke-width="0.9"/><line x1="337.0" x2="337.0" y1="448.8" y2="455.6" stroke="#fff" stroke-opacity="0.8" stroke-width="0.9"/><line x1="378.7" x2="378.7" y1="421.6" y2="428.4" stroke="#fff" stroke-opacity="0.8" stroke-width="0.9"/><line x1="378.7" x2="378.7" y1="448.8" y2="455.6" stroke="#fff" stroke-opacity="0.8" stroke-width="0.9"/><line x1="420.4" x2="420.4" y1="421.6" y2="428.4" stroke="#fff" stroke-opacity="0.8" stroke-width="0.9"/><line x1="420.4" x2="420.4" y1="448.8" y2="455.6" stroke="#fff" stroke-opacity="0.8" stroke-width="0.9"/><line x1="462.1" x2="462.1" y1="421.6" y2="428.4" stroke="#fff" stroke-opacity="0.8" stroke-width="0.9"/><line x1="462.1" x2="462.1" y1="448.8" y2="455.6" stroke="#fff" stroke-opacity="0.8" stroke-width="0.9"/><text x="170.2" y="474.7" font-size="13.5" text-anchor="middle" fill="#1a1a1a">-400</text><text x="211.9" y="474.7" font-size="13.5" text-anchor="middle" fill="#1a1a1a">-300</text><text x="253.6" y="474.7" font-size="13.5" text-anchor="middle" fill="#1a1a1a">-200</text><text x="295.3" y="474.7" font-size="13.5" text-anchor="middle" fill="#1a1a1a">-100</text><text x="337.0" y="474.7" font-size="13.5" text-anchor="middle" fill="#1a1a1a">0</text><text x="378.7" y="474.7" font-size="13.5" text-anchor="middle" fill="#1a1a1a">100</text><text x="420.4" y="474.7" font-size="13.5" text-anchor="middle" fill="#1a1a1a">200</text><text x="462.1" y="474.7" font-size="13.5" text-anchor="middle" fill="#1a1a1a">300</text><text x="503.8" y="474.7" font-size="13.5" text-anchor="middle" fill="#1a1a1a">400</text><text x="349.5" y="413" font-size="21" text-anchor="middle" fill="#000">Yield anomalies (kg/ha)</text>
<text x="174.6" y="85.5" font-size="17.8" fill="#000">Maize</text>
<text x="563.4" y="87" font-size="17.8" fill="#000">Pearl Millet</text>
</svg></body></html>
